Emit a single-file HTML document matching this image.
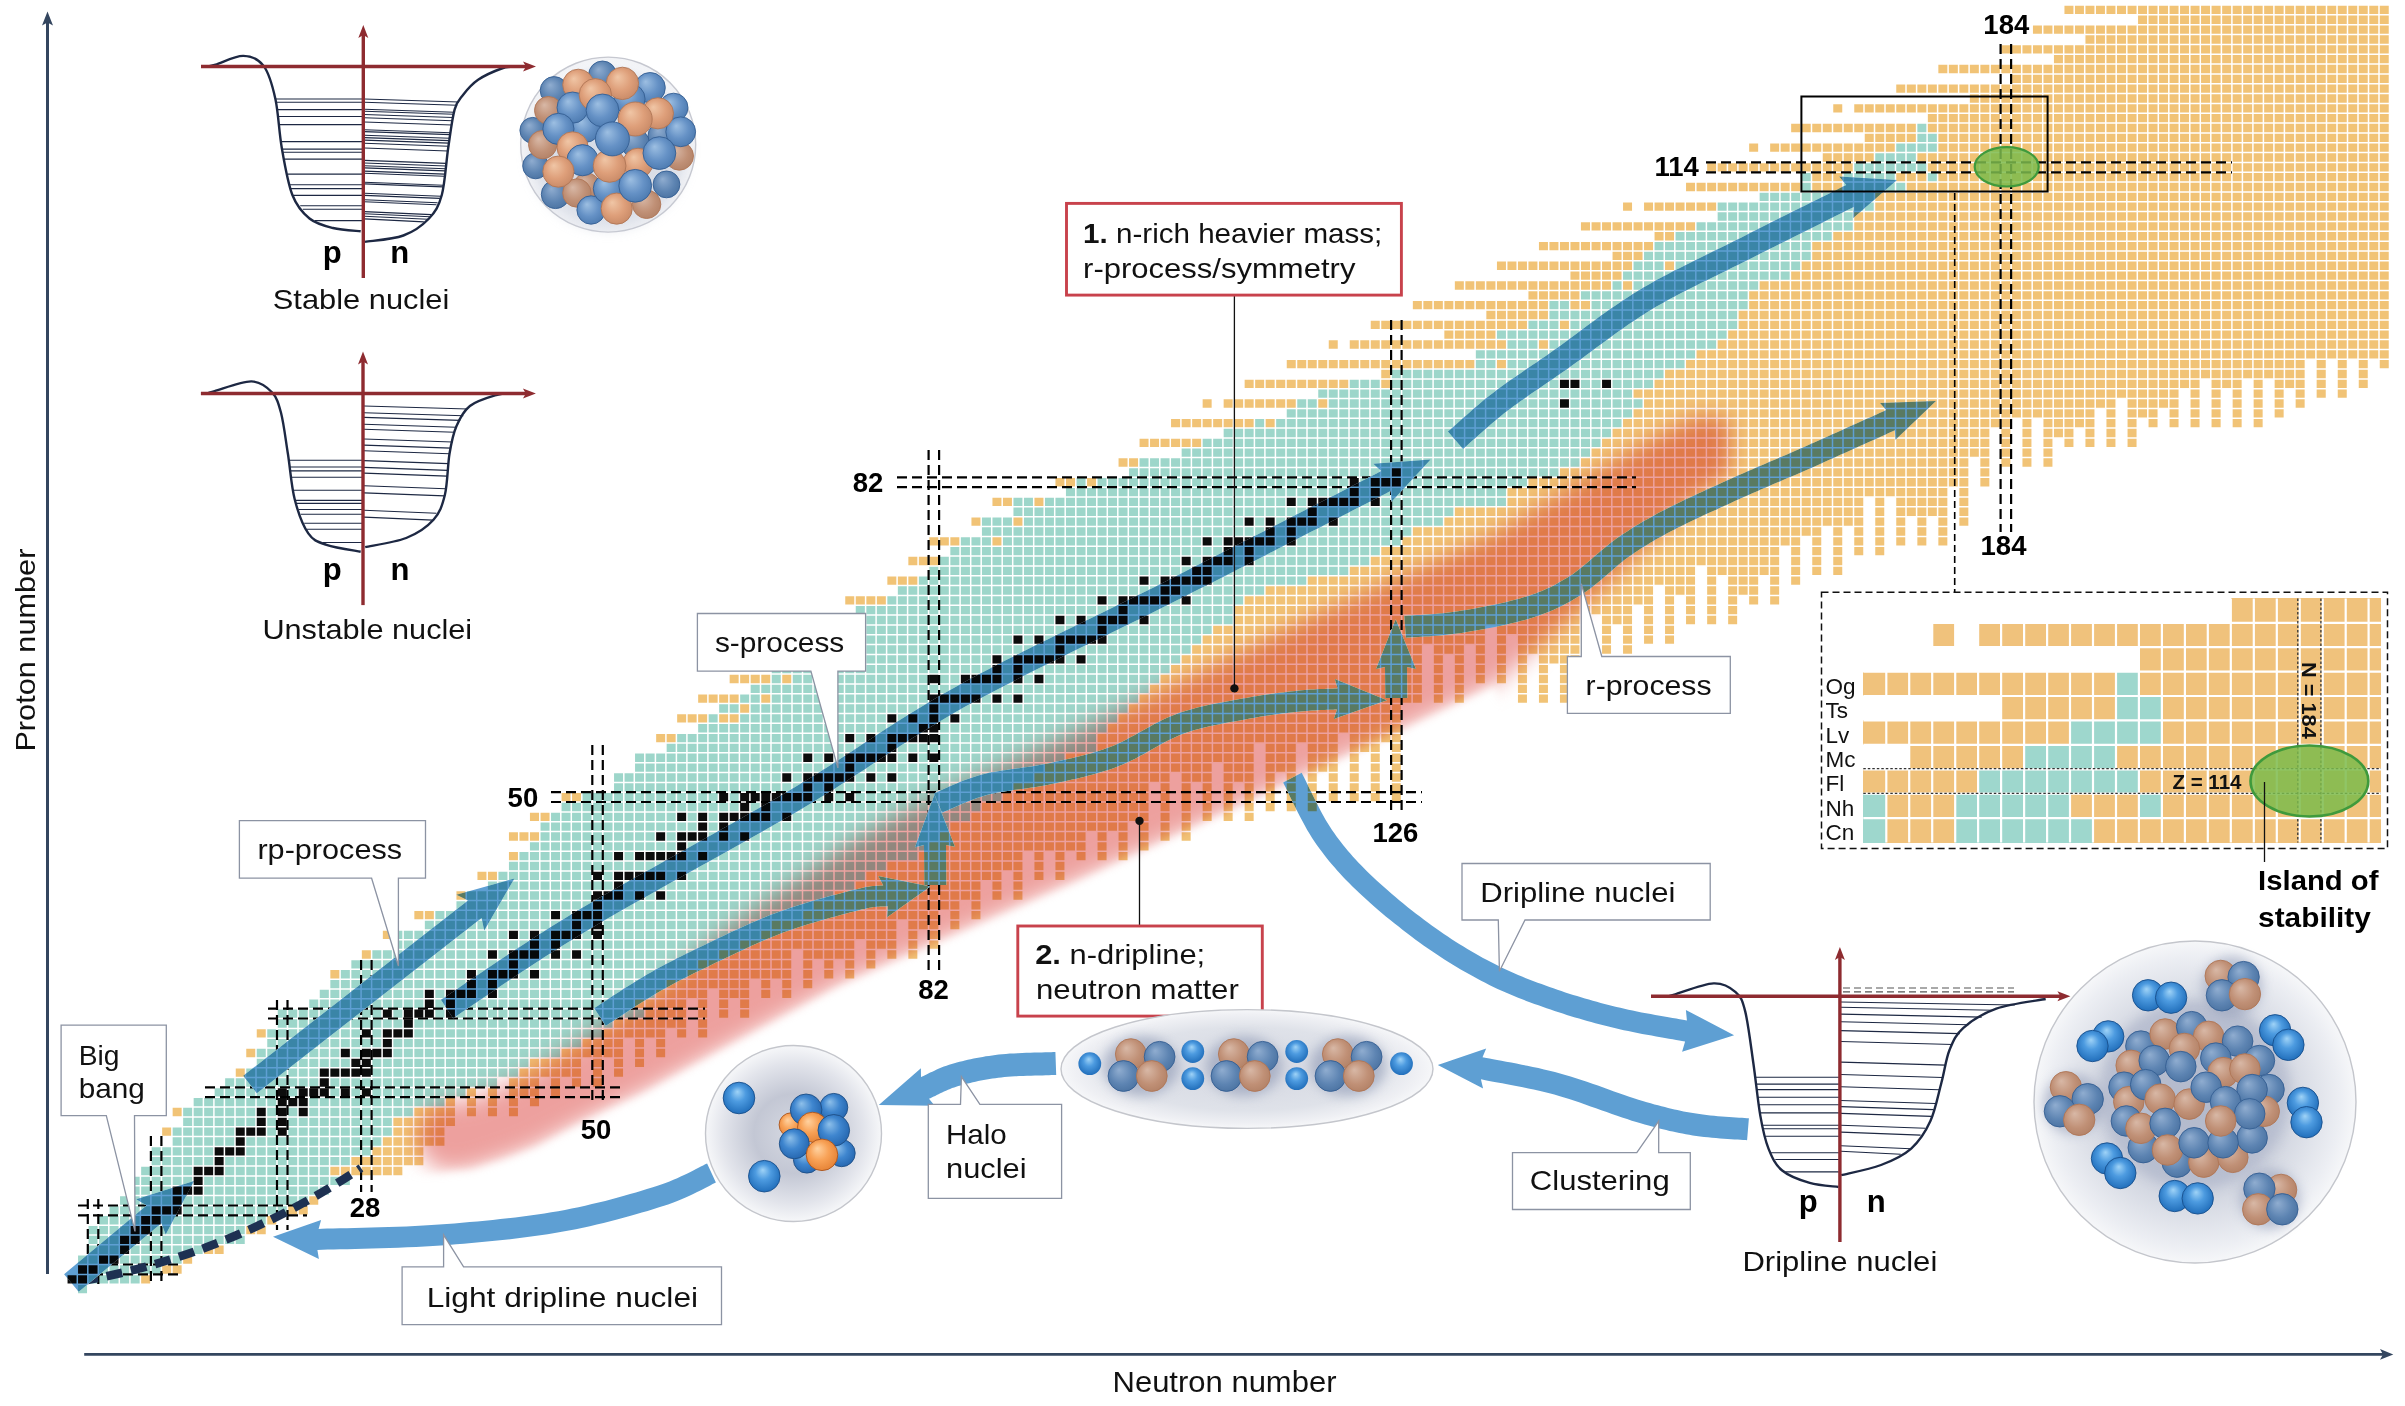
<!DOCTYPE html><html><head><meta charset="utf-8"><style>html,body{margin:0;padding:0;background:#fff;overflow:hidden}svg{display:block;font-family:"Liberation Sans",sans-serif}</style></head><body><svg xmlns="http://www.w3.org/2000/svg" width="2405" height="1406" viewBox="0 0 2405 1406"><rect width="100%" height="100%" fill="#fff"/><defs><filter id="glow" x="-20%" y="-20%" width="140%" height="140%"><feGaussianBlur stdDeviation="13"/></filter><filter id="soft" x="-30%" y="-30%" width="160%" height="160%"><feGaussianBlur stdDeviation="6"/></filter><filter id="soft3" x="-30%" y="-30%" width="160%" height="160%"><feGaussianBlur stdDeviation="3"/></filter><radialGradient id="bB" cx="0.5" cy="0.5" fx="0.35" fy="0.3" r="0.75"><stop offset="0" stop-color="#9dbfe2"/><stop offset="0.45" stop-color="#6692c6"/><stop offset="1" stop-color="#3a69a0"/></radialGradient><radialGradient id="bO" cx="0.5" cy="0.5" fx="0.35" fy="0.3" r="0.75"><stop offset="0" stop-color="#f0c6a6"/><stop offset="0.45" stop-color="#de9f7a"/><stop offset="1" stop-color="#b97b5a"/></radialGradient><radialGradient id="mB" cx="0.5" cy="0.5" fx="0.35" fy="0.3" r="0.75"><stop offset="0" stop-color="#90add0"/><stop offset="0.5" stop-color="#5d84b2"/><stop offset="1" stop-color="#3d6594"/></radialGradient><radialGradient id="mO" cx="0.5" cy="0.5" fx="0.35" fy="0.3" r="0.75"><stop offset="0" stop-color="#d8b8a6"/><stop offset="0.5" stop-color="#c09076"/><stop offset="1" stop-color="#a7765b"/></radialGradient><radialGradient id="gB" cx="0.5" cy="0.5" fx="0.45" fy="0.3" r="0.7"><stop offset="0" stop-color="#9fd3f7"/><stop offset="0.35" stop-color="#4d9be0"/><stop offset="1" stop-color="#0b58a8"/></radialGradient><radialGradient id="hB" cx="0.5" cy="0.5" fx="0.35" fy="0.3" r="0.75"><stop offset="0" stop-color="#8ec0ea"/><stop offset="0.4" stop-color="#3f86cf"/><stop offset="1" stop-color="#14519a"/></radialGradient><radialGradient id="hO" cx="0.5" cy="0.5" fx="0.35" fy="0.3" r="0.75"><stop offset="0" stop-color="#ffd2a0"/><stop offset="0.4" stop-color="#f8a257"/><stop offset="1" stop-color="#d96d1f"/></radialGradient><radialGradient id="sph1" cx="0.5" cy="0.5" r="0.5"><stop offset="0" stop-color="#e9ebf1"/><stop offset="0.75" stop-color="#eceef3"/><stop offset="0.93" stop-color="#f5f6f9"/><stop offset="1" stop-color="#f2f3f6"/></radialGradient><radialGradient id="sph2" cx="0.5" cy="0.5" r="0.5"><stop offset="0" stop-color="#d6d9e2"/><stop offset="0.45" stop-color="#c3c7d4"/><stop offset="0.8" stop-color="#e2e4eb"/><stop offset="1" stop-color="#f6f7f9"/></radialGradient><radialGradient id="sph3" cx="0.5" cy="0.5" r="0.5"><stop offset="0" stop-color="#c9cdd9"/><stop offset="0.6" stop-color="#d3d7e1"/><stop offset="0.9" stop-color="#eceef3"/><stop offset="1" stop-color="#f6f7f9"/></radialGradient><radialGradient id="sph4" cx="0.5" cy="0.5" r="0.5"><stop offset="0" stop-color="#d3d6e0"/><stop offset="0.7" stop-color="#dfe2e9"/><stop offset="0.92" stop-color="#eff0f4"/><stop offset="1" stop-color="#f6f7f9"/></radialGradient></defs><g id="chart"><rect x="0" y="0" width="2405" height="1300" fill="#fff"/><g shape-rendering="crispEdges"><rect x="77.3" y="1284.2" width="10.5" height="9.8" fill="#9dd6ca"/><rect x="87.8" y="1274.4" width="52.5" height="9.8" fill="#9dd6ca"/><rect x="140.4" y="1274.4" width="10.5" height="9.8" fill="#f1c376"/><rect x="98.3" y="1264.5" width="63.1" height="9.8" fill="#9dd6ca"/><rect x="161.4" y="1264.5" width="21" height="9.8" fill="#f1c376"/><rect x="77.3" y="1254.7" width="21" height="9.8" fill="#9dd6ca"/><rect x="119.3" y="1254.7" width="63.1" height="9.8" fill="#9dd6ca"/><rect x="182.4" y="1254.7" width="10.5" height="9.8" fill="#f1c376"/><rect x="87.8" y="1244.8" width="31.5" height="9.8" fill="#9dd6ca"/><rect x="129.9" y="1244.8" width="73.6" height="9.8" fill="#9dd6ca"/><rect x="203.4" y="1244.8" width="21" height="9.8" fill="#f1c376"/><rect x="87.8" y="1235" width="31.5" height="9.8" fill="#9dd6ca"/><rect x="140.4" y="1235" width="105.1" height="9.8" fill="#9dd6ca"/><rect x="87.8" y="1225.2" width="42" height="9.8" fill="#9dd6ca"/><rect x="150.9" y="1225.2" width="94.6" height="9.8" fill="#9dd6ca"/><rect x="245.5" y="1225.2" width="21" height="9.8" fill="#f1c376"/><rect x="98.3" y="1215.3" width="42" height="9.8" fill="#9dd6ca"/><rect x="161.4" y="1215.3" width="105.1" height="9.8" fill="#9dd6ca"/><rect x="266.5" y="1215.3" width="10.5" height="9.8" fill="#f1c376"/><rect x="108.8" y="1205.5" width="42" height="9.8" fill="#9dd6ca"/><rect x="182.4" y="1205.5" width="105.1" height="9.8" fill="#9dd6ca"/><rect x="287.5" y="1205.5" width="21" height="9.8" fill="#f1c376"/><rect x="119.3" y="1195.6" width="52.5" height="9.8" fill="#9dd6ca"/><rect x="182.4" y="1195.6" width="126.1" height="9.8" fill="#9dd6ca"/><rect x="308.5" y="1195.6" width="10.5" height="9.8" fill="#f1c376"/><rect x="129.9" y="1185.8" width="42" height="9.8" fill="#9dd6ca"/><rect x="203.4" y="1185.8" width="126.1" height="9.8" fill="#9dd6ca"/><rect x="129.9" y="1176" width="63.1" height="9.8" fill="#9dd6ca"/><rect x="203.4" y="1176" width="147.1" height="9.8" fill="#9dd6ca"/><rect x="140.4" y="1166.1" width="52.5" height="9.8" fill="#9dd6ca"/><rect x="224.4" y="1166.1" width="105.1" height="9.8" fill="#9dd6ca"/><rect x="329.6" y="1166.1" width="73.6" height="9.8" fill="#f1c376"/><rect x="150.9" y="1156.3" width="63.1" height="9.8" fill="#9dd6ca"/><rect x="224.4" y="1156.3" width="126.1" height="9.8" fill="#9dd6ca"/><rect x="350.6" y="1156.3" width="73.6" height="9.8" fill="#f1c376"/><rect x="150.9" y="1146.4" width="63.1" height="9.8" fill="#9dd6ca"/><rect x="245.5" y="1146.4" width="126.1" height="9.8" fill="#9dd6ca"/><rect x="371.6" y="1146.4" width="52.5" height="9.8" fill="#f1c376"/><rect x="171.9" y="1136.6" width="63.1" height="9.8" fill="#9dd6ca"/><rect x="245.5" y="1136.6" width="136.6" height="9.8" fill="#9dd6ca"/><rect x="382.1" y="1136.6" width="63.1" height="9.8" fill="#f1c376"/><rect x="161.4" y="1126.8" width="10.5" height="9.8" fill="#f1c376"/><rect x="171.9" y="1126.8" width="63.1" height="9.8" fill="#9dd6ca"/><rect x="266.5" y="1126.8" width="10.5" height="9.8" fill="#9dd6ca"/><rect x="287.5" y="1126.8" width="105.1" height="9.8" fill="#9dd6ca"/><rect x="392.6" y="1126.8" width="52.5" height="9.8" fill="#f1c376"/><rect x="182.4" y="1116.9" width="73.6" height="9.8" fill="#9dd6ca"/><rect x="266.5" y="1116.9" width="10.5" height="9.8" fill="#9dd6ca"/><rect x="287.5" y="1116.9" width="105.1" height="9.8" fill="#9dd6ca"/><rect x="392.6" y="1116.9" width="63.1" height="9.8" fill="#f1c376"/><rect x="171.9" y="1107.1" width="10.5" height="9.8" fill="#f1c376"/><rect x="182.4" y="1107.1" width="73.6" height="9.8" fill="#9dd6ca"/><rect x="266.5" y="1107.1" width="10.5" height="9.8" fill="#9dd6ca"/><rect x="287.5" y="1107.1" width="10.5" height="9.8" fill="#9dd6ca"/><rect x="308.5" y="1107.1" width="105.1" height="9.8" fill="#9dd6ca"/><rect x="413.6" y="1107.1" width="42" height="9.8" fill="#f1c376"/><rect x="466.2" y="1107.1" width="10.5" height="9.8" fill="#f1c376"/><rect x="487.2" y="1107.1" width="10.5" height="9.8" fill="#f1c376"/><rect x="508.2" y="1107.1" width="10.5" height="9.8" fill="#f1c376"/><rect x="192.9" y="1097.2" width="84.1" height="9.8" fill="#9dd6ca"/><rect x="308.5" y="1097.2" width="136.6" height="9.8" fill="#9dd6ca"/><rect x="445.2" y="1097.2" width="10.5" height="9.8" fill="#f1c376"/><rect x="466.2" y="1097.2" width="10.5" height="9.8" fill="#f1c376"/><rect x="487.2" y="1097.2" width="10.5" height="9.8" fill="#f1c376"/><rect x="508.2" y="1097.2" width="10.5" height="9.8" fill="#f1c376"/><rect x="529.2" y="1097.2" width="10.5" height="9.8" fill="#f1c376"/><rect x="213.9" y="1087.4" width="63.1" height="9.8" fill="#9dd6ca"/><rect x="287.5" y="1087.4" width="10.5" height="9.8" fill="#9dd6ca"/><rect x="329.6" y="1087.4" width="10.5" height="9.8" fill="#9dd6ca"/><rect x="350.6" y="1087.4" width="10.5" height="9.8" fill="#9dd6ca"/><rect x="371.6" y="1087.4" width="94.6" height="9.8" fill="#9dd6ca"/><rect x="466.2" y="1087.4" width="10.5" height="9.8" fill="#f1c376"/><rect x="487.2" y="1087.4" width="10.5" height="9.8" fill="#f1c376"/><rect x="508.2" y="1087.4" width="31.5" height="9.8" fill="#f1c376"/><rect x="550.3" y="1087.4" width="10.5" height="9.8" fill="#f1c376"/><rect x="224.4" y="1077.6" width="94.6" height="9.8" fill="#9dd6ca"/><rect x="329.6" y="1077.6" width="168.2" height="9.8" fill="#9dd6ca"/><rect x="508.2" y="1077.6" width="31.5" height="9.8" fill="#f1c376"/><rect x="550.3" y="1077.6" width="10.5" height="9.8" fill="#f1c376"/><rect x="571.3" y="1077.6" width="10.5" height="9.8" fill="#f1c376"/><rect x="592.3" y="1077.6" width="10.5" height="9.8" fill="#f1c376"/><rect x="235" y="1067.7" width="10.5" height="9.8" fill="#f1c376"/><rect x="245.5" y="1067.7" width="73.6" height="9.8" fill="#9dd6ca"/><rect x="371.6" y="1067.7" width="147.1" height="9.8" fill="#9dd6ca"/><rect x="518.7" y="1067.7" width="63.1" height="9.8" fill="#f1c376"/><rect x="592.3" y="1067.7" width="10.5" height="9.8" fill="#f1c376"/><rect x="613.3" y="1067.7" width="10.5" height="9.8" fill="#f1c376"/><rect x="256" y="1057.9" width="94.6" height="9.8" fill="#9dd6ca"/><rect x="371.6" y="1057.9" width="157.7" height="9.8" fill="#9dd6ca"/><rect x="529.2" y="1057.9" width="52.5" height="9.8" fill="#f1c376"/><rect x="592.3" y="1057.9" width="10.5" height="9.8" fill="#f1c376"/><rect x="613.3" y="1057.9" width="10.5" height="9.8" fill="#f1c376"/><rect x="634.3" y="1057.9" width="10.5" height="9.8" fill="#f1c376"/><rect x="245.5" y="1048" width="10.5" height="9.8" fill="#f1c376"/><rect x="256" y="1048" width="84.1" height="9.8" fill="#9dd6ca"/><rect x="350.6" y="1048" width="10.5" height="9.8" fill="#9dd6ca"/><rect x="392.6" y="1048" width="168.2" height="9.8" fill="#9dd6ca"/><rect x="560.8" y="1048" width="63.1" height="9.8" fill="#f1c376"/><rect x="634.3" y="1048" width="10.5" height="9.8" fill="#f1c376"/><rect x="655.4" y="1048" width="10.5" height="9.8" fill="#f1c376"/><rect x="266.5" y="1038.2" width="115.6" height="9.8" fill="#9dd6ca"/><rect x="392.6" y="1038.2" width="189.2" height="9.8" fill="#9dd6ca"/><rect x="581.8" y="1038.2" width="42" height="9.8" fill="#f1c376"/><rect x="634.3" y="1038.2" width="10.5" height="9.8" fill="#f1c376"/><rect x="655.4" y="1038.2" width="10.5" height="9.8" fill="#f1c376"/><rect x="256" y="1028.4" width="10.5" height="9.8" fill="#f1c376"/><rect x="266.5" y="1028.4" width="94.6" height="9.8" fill="#9dd6ca"/><rect x="371.6" y="1028.4" width="10.5" height="9.8" fill="#9dd6ca"/><rect x="413.6" y="1028.4" width="189.2" height="9.8" fill="#9dd6ca"/><rect x="602.8" y="1028.4" width="63.1" height="9.8" fill="#f1c376"/><rect x="676.4" y="1028.4" width="10.5" height="9.8" fill="#f1c376"/><rect x="697.4" y="1028.4" width="10.5" height="9.8" fill="#f1c376"/><rect x="277" y="1018.5" width="126.1" height="9.8" fill="#9dd6ca"/><rect x="413.6" y="1018.5" width="199.7" height="9.8" fill="#9dd6ca"/><rect x="613.3" y="1018.5" width="73.6" height="9.8" fill="#f1c376"/><rect x="697.4" y="1018.5" width="10.5" height="9.8" fill="#f1c376"/><rect x="277" y="1008.7" width="105.1" height="9.8" fill="#9dd6ca"/><rect x="392.6" y="1008.7" width="10.5" height="9.8" fill="#9dd6ca"/><rect x="434.6" y="1008.7" width="10.5" height="9.8" fill="#9dd6ca"/><rect x="455.7" y="1008.7" width="189.2" height="9.8" fill="#9dd6ca"/><rect x="644.8" y="1008.7" width="42" height="9.8" fill="#f1c376"/><rect x="697.4" y="1008.7" width="10.5" height="9.8" fill="#f1c376"/><rect x="718.4" y="1008.7" width="10.5" height="9.8" fill="#f1c376"/><rect x="739.4" y="1008.7" width="10.5" height="9.8" fill="#f1c376"/><rect x="308.5" y="998.8" width="115.6" height="9.8" fill="#9dd6ca"/><rect x="434.6" y="998.8" width="10.5" height="9.8" fill="#9dd6ca"/><rect x="455.7" y="998.8" width="178.7" height="9.8" fill="#9dd6ca"/><rect x="634.3" y="998.8" width="52.5" height="9.8" fill="#f1c376"/><rect x="697.4" y="998.8" width="10.5" height="9.8" fill="#f1c376"/><rect x="718.4" y="998.8" width="10.5" height="9.8" fill="#f1c376"/><rect x="739.4" y="998.8" width="10.5" height="9.8" fill="#f1c376"/><rect x="319" y="989" width="105.1" height="9.8" fill="#9dd6ca"/><rect x="434.6" y="989" width="10.5" height="9.8" fill="#9dd6ca"/><rect x="476.7" y="989" width="10.5" height="9.8" fill="#9dd6ca"/><rect x="497.7" y="989" width="157.7" height="9.8" fill="#9dd6ca"/><rect x="655.4" y="989" width="52.5" height="9.8" fill="#f1c376"/><rect x="718.4" y="989" width="31.5" height="9.8" fill="#f1c376"/><rect x="760.5" y="989" width="10.5" height="9.8" fill="#f1c376"/><rect x="781.5" y="989" width="10.5" height="9.8" fill="#f1c376"/><rect x="329.6" y="979.2" width="136.6" height="9.8" fill="#9dd6ca"/><rect x="476.7" y="979.2" width="10.5" height="9.8" fill="#9dd6ca"/><rect x="497.7" y="979.2" width="168.2" height="9.8" fill="#9dd6ca"/><rect x="665.9" y="979.2" width="84.1" height="9.8" fill="#f1c376"/><rect x="760.5" y="979.2" width="10.5" height="9.8" fill="#f1c376"/><rect x="781.5" y="979.2" width="10.5" height="9.8" fill="#f1c376"/><rect x="802.5" y="979.2" width="10.5" height="9.8" fill="#f1c376"/><rect x="329.6" y="969.3" width="10.5" height="9.8" fill="#f1c376"/><rect x="340.1" y="969.3" width="126.1" height="9.8" fill="#9dd6ca"/><rect x="476.7" y="969.3" width="10.5" height="9.8" fill="#9dd6ca"/><rect x="518.7" y="969.3" width="10.5" height="9.8" fill="#9dd6ca"/><rect x="539.8" y="969.3" width="147.1" height="9.8" fill="#9dd6ca"/><rect x="686.9" y="969.3" width="105.1" height="9.8" fill="#f1c376"/><rect x="802.5" y="969.3" width="10.5" height="9.8" fill="#f1c376"/><rect x="823.5" y="969.3" width="10.5" height="9.8" fill="#f1c376"/><rect x="844.5" y="969.3" width="10.5" height="9.8" fill="#f1c376"/><rect x="350.6" y="959.5" width="157.7" height="9.8" fill="#9dd6ca"/><rect x="518.7" y="959.5" width="178.7" height="9.8" fill="#9dd6ca"/><rect x="697.4" y="959.5" width="94.6" height="9.8" fill="#f1c376"/><rect x="802.5" y="959.5" width="10.5" height="9.8" fill="#f1c376"/><rect x="823.5" y="959.5" width="10.5" height="9.8" fill="#f1c376"/><rect x="844.5" y="959.5" width="10.5" height="9.8" fill="#f1c376"/><rect x="865.6" y="959.5" width="10.5" height="9.8" fill="#f1c376"/><rect x="361.1" y="949.6" width="10.5" height="9.8" fill="#f1c376"/><rect x="371.6" y="949.6" width="115.6" height="9.8" fill="#9dd6ca"/><rect x="497.7" y="949.6" width="10.5" height="9.8" fill="#9dd6ca"/><rect x="539.8" y="949.6" width="10.5" height="9.8" fill="#9dd6ca"/><rect x="560.8" y="949.6" width="10.5" height="9.8" fill="#9dd6ca"/><rect x="581.8" y="949.6" width="136.6" height="9.8" fill="#9dd6ca"/><rect x="718.4" y="949.6" width="73.6" height="9.8" fill="#f1c376"/><rect x="802.5" y="949.6" width="52.5" height="9.8" fill="#f1c376"/><rect x="865.6" y="949.6" width="10.5" height="9.8" fill="#f1c376"/><rect x="886.6" y="949.6" width="10.5" height="9.8" fill="#f1c376"/><rect x="907.6" y="949.6" width="10.5" height="9.8" fill="#f1c376"/><rect x="392.6" y="939.8" width="136.6" height="9.8" fill="#9dd6ca"/><rect x="539.8" y="939.8" width="10.5" height="9.8" fill="#9dd6ca"/><rect x="560.8" y="939.8" width="178.7" height="9.8" fill="#9dd6ca"/><rect x="739.4" y="939.8" width="115.6" height="9.8" fill="#f1c376"/><rect x="865.6" y="939.8" width="31.5" height="9.8" fill="#f1c376"/><rect x="907.6" y="939.8" width="10.5" height="9.8" fill="#f1c376"/><rect x="928.6" y="939.8" width="10.5" height="9.8" fill="#f1c376"/><rect x="382.1" y="930" width="10.5" height="9.8" fill="#f1c376"/><rect x="392.6" y="930" width="115.6" height="9.8" fill="#9dd6ca"/><rect x="518.7" y="930" width="10.5" height="9.8" fill="#9dd6ca"/><rect x="539.8" y="930" width="10.5" height="9.8" fill="#9dd6ca"/><rect x="581.8" y="930" width="10.5" height="9.8" fill="#9dd6ca"/><rect x="602.8" y="930" width="157.7" height="9.8" fill="#9dd6ca"/><rect x="760.5" y="930" width="136.6" height="9.8" fill="#f1c376"/><rect x="907.6" y="930" width="10.5" height="9.8" fill="#f1c376"/><rect x="928.6" y="930" width="10.5" height="9.8" fill="#f1c376"/><rect x="424.1" y="920.1" width="147.1" height="9.8" fill="#9dd6ca"/><rect x="581.8" y="920.1" width="10.5" height="9.8" fill="#9dd6ca"/><rect x="602.8" y="920.1" width="168.2" height="9.8" fill="#9dd6ca"/><rect x="771" y="920.1" width="126.1" height="9.8" fill="#f1c376"/><rect x="907.6" y="920.1" width="31.5" height="9.8" fill="#f1c376"/><rect x="949.6" y="920.1" width="10.5" height="9.8" fill="#f1c376"/><rect x="413.6" y="910.3" width="21" height="9.8" fill="#f1c376"/><rect x="434.6" y="910.3" width="115.6" height="9.8" fill="#9dd6ca"/><rect x="560.8" y="910.3" width="10.5" height="9.8" fill="#9dd6ca"/><rect x="602.8" y="910.3" width="199.7" height="9.8" fill="#9dd6ca"/><rect x="802.5" y="910.3" width="136.6" height="9.8" fill="#f1c376"/><rect x="949.6" y="910.3" width="10.5" height="9.8" fill="#f1c376"/><rect x="970.7" y="910.3" width="10.5" height="9.8" fill="#f1c376"/><rect x="455.7" y="900.4" width="136.6" height="9.8" fill="#9dd6ca"/><rect x="602.8" y="900.4" width="210.2" height="9.8" fill="#9dd6ca"/><rect x="813" y="900.4" width="147.1" height="9.8" fill="#f1c376"/><rect x="970.7" y="900.4" width="10.5" height="9.8" fill="#f1c376"/><rect x="455.7" y="890.6" width="10.5" height="9.8" fill="#f1c376"/><rect x="466.2" y="890.6" width="126.1" height="9.8" fill="#9dd6ca"/><rect x="623.8" y="890.6" width="10.5" height="9.8" fill="#9dd6ca"/><rect x="644.8" y="890.6" width="10.5" height="9.8" fill="#9dd6ca"/><rect x="665.9" y="890.6" width="168.2" height="9.8" fill="#9dd6ca"/><rect x="834" y="890.6" width="147.1" height="9.8" fill="#f1c376"/><rect x="991.7" y="890.6" width="10.5" height="9.8" fill="#f1c376"/><rect x="1012.7" y="890.6" width="10.5" height="9.8" fill="#f1c376"/><rect x="487.2" y="880.8" width="126.1" height="9.8" fill="#9dd6ca"/><rect x="623.8" y="880.8" width="231.2" height="9.8" fill="#9dd6ca"/><rect x="855" y="880.8" width="126.1" height="9.8" fill="#f1c376"/><rect x="991.7" y="880.8" width="10.5" height="9.8" fill="#f1c376"/><rect x="1012.7" y="880.8" width="10.5" height="9.8" fill="#f1c376"/><rect x="476.7" y="870.9" width="21" height="9.8" fill="#f1c376"/><rect x="497.7" y="870.9" width="94.6" height="9.8" fill="#9dd6ca"/><rect x="602.8" y="870.9" width="10.5" height="9.8" fill="#9dd6ca"/><rect x="665.9" y="870.9" width="10.5" height="9.8" fill="#9dd6ca"/><rect x="686.9" y="870.9" width="178.7" height="9.8" fill="#9dd6ca"/><rect x="865.6" y="870.9" width="136.6" height="9.8" fill="#f1c376"/><rect x="1012.7" y="870.9" width="10.5" height="9.8" fill="#f1c376"/><rect x="1033.7" y="870.9" width="10.5" height="9.8" fill="#f1c376"/><rect x="1054.7" y="870.9" width="10.5" height="9.8" fill="#f1c376"/><rect x="508.2" y="861.1" width="378.4" height="9.8" fill="#9dd6ca"/><rect x="886.6" y="861.1" width="136.6" height="9.8" fill="#f1c376"/><rect x="1033.7" y="861.1" width="10.5" height="9.8" fill="#f1c376"/><rect x="1054.7" y="861.1" width="10.5" height="9.8" fill="#f1c376"/><rect x="508.2" y="851.2" width="10.5" height="9.8" fill="#f1c376"/><rect x="518.7" y="851.2" width="94.6" height="9.8" fill="#9dd6ca"/><rect x="623.8" y="851.2" width="10.5" height="9.8" fill="#9dd6ca"/><rect x="686.9" y="851.2" width="10.5" height="9.8" fill="#9dd6ca"/><rect x="707.9" y="851.2" width="210.2" height="9.8" fill="#9dd6ca"/><rect x="918.1" y="851.2" width="105.1" height="9.8" fill="#f1c376"/><rect x="1033.7" y="851.2" width="10.5" height="9.8" fill="#f1c376"/><rect x="1054.7" y="851.2" width="10.5" height="9.8" fill="#f1c376"/><rect x="1075.8" y="851.2" width="10.5" height="9.8" fill="#f1c376"/><rect x="1096.8" y="851.2" width="10.5" height="9.8" fill="#f1c376"/><rect x="1117.8" y="851.2" width="10.5" height="9.8" fill="#f1c376"/><rect x="529.2" y="841.4" width="147.1" height="9.8" fill="#9dd6ca"/><rect x="686.9" y="841.4" width="241.7" height="9.8" fill="#9dd6ca"/><rect x="928.6" y="841.4" width="157.7" height="9.8" fill="#f1c376"/><rect x="1096.8" y="841.4" width="10.5" height="9.8" fill="#f1c376"/><rect x="1117.8" y="841.4" width="10.5" height="9.8" fill="#f1c376"/><rect x="1138.8" y="841.4" width="10.5" height="9.8" fill="#f1c376"/><rect x="508.2" y="831.6" width="31.5" height="9.8" fill="#f1c376"/><rect x="539.8" y="831.6" width="115.6" height="9.8" fill="#9dd6ca"/><rect x="665.9" y="831.6" width="10.5" height="9.8" fill="#9dd6ca"/><rect x="707.9" y="831.6" width="10.5" height="9.8" fill="#9dd6ca"/><rect x="728.9" y="831.6" width="10.5" height="9.8" fill="#9dd6ca"/><rect x="749.9" y="831.6" width="189.2" height="9.8" fill="#9dd6ca"/><rect x="939.1" y="831.6" width="147.1" height="9.8" fill="#f1c376"/><rect x="1096.8" y="831.6" width="10.5" height="9.8" fill="#f1c376"/><rect x="1117.8" y="831.6" width="10.5" height="9.8" fill="#f1c376"/><rect x="1138.8" y="831.6" width="10.5" height="9.8" fill="#f1c376"/><rect x="1159.8" y="831.6" width="10.5" height="9.8" fill="#f1c376"/><rect x="1180.9" y="831.6" width="10.5" height="9.8" fill="#f1c376"/><rect x="539.8" y="821.7" width="157.7" height="9.8" fill="#9dd6ca"/><rect x="707.9" y="821.7" width="10.5" height="9.8" fill="#9dd6ca"/><rect x="728.9" y="821.7" width="220.7" height="9.8" fill="#9dd6ca"/><rect x="949.6" y="821.7" width="178.7" height="9.8" fill="#f1c376"/><rect x="1138.8" y="821.7" width="10.5" height="9.8" fill="#f1c376"/><rect x="1159.8" y="821.7" width="10.5" height="9.8" fill="#f1c376"/><rect x="1180.9" y="821.7" width="10.5" height="9.8" fill="#f1c376"/><rect x="529.2" y="811.9" width="21" height="9.8" fill="#f1c376"/><rect x="550.3" y="811.9" width="126.1" height="9.8" fill="#9dd6ca"/><rect x="686.9" y="811.9" width="10.5" height="9.8" fill="#9dd6ca"/><rect x="707.9" y="811.9" width="10.5" height="9.8" fill="#9dd6ca"/><rect x="771" y="811.9" width="10.5" height="9.8" fill="#9dd6ca"/><rect x="792" y="811.9" width="178.7" height="9.8" fill="#9dd6ca"/><rect x="970.7" y="811.9" width="178.7" height="9.8" fill="#f1c376"/><rect x="1159.8" y="811.9" width="10.5" height="9.8" fill="#f1c376"/><rect x="1180.9" y="811.9" width="10.5" height="9.8" fill="#f1c376"/><rect x="1201.9" y="811.9" width="10.5" height="9.8" fill="#f1c376"/><rect x="1222.9" y="811.9" width="10.5" height="9.8" fill="#f1c376"/><rect x="1243.9" y="811.9" width="10.5" height="9.8" fill="#f1c376"/><rect x="560.8" y="802" width="178.7" height="9.8" fill="#9dd6ca"/><rect x="749.9" y="802" width="10.5" height="9.8" fill="#9dd6ca"/><rect x="771" y="802" width="210.2" height="9.8" fill="#9dd6ca"/><rect x="981.2" y="802" width="168.2" height="9.8" fill="#f1c376"/><rect x="1159.8" y="802" width="10.5" height="9.8" fill="#f1c376"/><rect x="1180.9" y="802" width="10.5" height="9.8" fill="#f1c376"/><rect x="1201.9" y="802" width="10.5" height="9.8" fill="#f1c376"/><rect x="1222.9" y="802" width="10.5" height="9.8" fill="#f1c376"/><rect x="1243.9" y="802" width="10.5" height="9.8" fill="#f1c376"/><rect x="1264.9" y="802" width="10.5" height="9.8" fill="#f1c376"/><rect x="1286" y="802" width="10.5" height="9.8" fill="#f1c376"/><rect x="1307" y="802" width="10.5" height="9.8" fill="#f1c376"/><rect x="560.8" y="792.2" width="21" height="9.8" fill="#f1c376"/><rect x="581.8" y="792.2" width="136.6" height="9.8" fill="#9dd6ca"/><rect x="728.9" y="792.2" width="10.5" height="9.8" fill="#9dd6ca"/><rect x="813" y="792.2" width="10.5" height="9.8" fill="#9dd6ca"/><rect x="834" y="792.2" width="10.5" height="9.8" fill="#9dd6ca"/><rect x="855" y="792.2" width="147.1" height="9.8" fill="#9dd6ca"/><rect x="1002.2" y="792.2" width="147.1" height="9.8" fill="#f1c376"/><rect x="1159.8" y="792.2" width="10.5" height="9.8" fill="#f1c376"/><rect x="1180.9" y="792.2" width="10.5" height="9.8" fill="#f1c376"/><rect x="1201.9" y="792.2" width="10.5" height="9.8" fill="#f1c376"/><rect x="1222.9" y="792.2" width="10.5" height="9.8" fill="#f1c376"/><rect x="1243.9" y="792.2" width="10.5" height="9.8" fill="#f1c376"/><rect x="1264.9" y="792.2" width="10.5" height="9.8" fill="#f1c376"/><rect x="1286" y="792.2" width="10.5" height="9.8" fill="#f1c376"/><rect x="1307" y="792.2" width="10.5" height="9.8" fill="#f1c376"/><rect x="1328" y="792.2" width="10.5" height="9.8" fill="#f1c376"/><rect x="1349" y="792.2" width="10.5" height="9.8" fill="#f1c376"/><rect x="1370" y="792.2" width="10.5" height="9.8" fill="#f1c376"/><rect x="1391.1" y="792.2" width="10.5" height="9.8" fill="#f1c376"/><rect x="613.3" y="782.4" width="189.2" height="9.8" fill="#9dd6ca"/><rect x="813" y="782.4" width="10.5" height="9.8" fill="#9dd6ca"/><rect x="834" y="782.4" width="178.7" height="9.8" fill="#9dd6ca"/><rect x="1012.7" y="782.4" width="136.6" height="9.8" fill="#f1c376"/><rect x="1159.8" y="782.4" width="10.5" height="9.8" fill="#f1c376"/><rect x="1180.9" y="782.4" width="10.5" height="9.8" fill="#f1c376"/><rect x="1201.9" y="782.4" width="10.5" height="9.8" fill="#f1c376"/><rect x="1222.9" y="782.4" width="10.5" height="9.8" fill="#f1c376"/><rect x="1243.9" y="782.4" width="10.5" height="9.8" fill="#f1c376"/><rect x="1264.9" y="782.4" width="10.5" height="9.8" fill="#f1c376"/><rect x="1286" y="782.4" width="10.5" height="9.8" fill="#f1c376"/><rect x="1307" y="782.4" width="10.5" height="9.8" fill="#f1c376"/><rect x="1328" y="782.4" width="10.5" height="9.8" fill="#f1c376"/><rect x="1349" y="782.4" width="10.5" height="9.8" fill="#f1c376"/><rect x="1370" y="782.4" width="10.5" height="9.8" fill="#f1c376"/><rect x="1391.1" y="782.4" width="10.5" height="9.8" fill="#f1c376"/><rect x="613.3" y="772.5" width="168.2" height="9.8" fill="#9dd6ca"/><rect x="792" y="772.5" width="10.5" height="9.8" fill="#9dd6ca"/><rect x="855" y="772.5" width="10.5" height="9.8" fill="#9dd6ca"/><rect x="876.1" y="772.5" width="10.5" height="9.8" fill="#9dd6ca"/><rect x="897.1" y="772.5" width="136.6" height="9.8" fill="#9dd6ca"/><rect x="1033.7" y="772.5" width="136.6" height="9.8" fill="#f1c376"/><rect x="1180.9" y="772.5" width="31.5" height="9.8" fill="#f1c376"/><rect x="1222.9" y="772.5" width="31.5" height="9.8" fill="#f1c376"/><rect x="1264.9" y="772.5" width="10.5" height="9.8" fill="#f1c376"/><rect x="1286" y="772.5" width="10.5" height="9.8" fill="#f1c376"/><rect x="1307" y="772.5" width="10.5" height="9.8" fill="#f1c376"/><rect x="1328" y="772.5" width="10.5" height="9.8" fill="#f1c376"/><rect x="1349" y="772.5" width="10.5" height="9.8" fill="#f1c376"/><rect x="1370" y="772.5" width="10.5" height="9.8" fill="#f1c376"/><rect x="1391.1" y="772.5" width="10.5" height="9.8" fill="#f1c376"/><rect x="634.3" y="762.7" width="210.2" height="9.8" fill="#9dd6ca"/><rect x="855" y="762.7" width="189.2" height="9.8" fill="#9dd6ca"/><rect x="1044.2" y="762.7" width="168.2" height="9.8" fill="#f1c376"/><rect x="1222.9" y="762.7" width="31.5" height="9.8" fill="#f1c376"/><rect x="1264.9" y="762.7" width="31.5" height="9.8" fill="#f1c376"/><rect x="1307" y="762.7" width="31.5" height="9.8" fill="#f1c376"/><rect x="1349" y="762.7" width="10.5" height="9.8" fill="#f1c376"/><rect x="1370" y="762.7" width="10.5" height="9.8" fill="#f1c376"/><rect x="1391.1" y="762.7" width="10.5" height="9.8" fill="#f1c376"/><rect x="634.3" y="752.8" width="168.2" height="9.8" fill="#9dd6ca"/><rect x="813" y="752.8" width="10.5" height="9.8" fill="#9dd6ca"/><rect x="834" y="752.8" width="10.5" height="9.8" fill="#9dd6ca"/><rect x="897.1" y="752.8" width="10.5" height="9.8" fill="#9dd6ca"/><rect x="918.1" y="752.8" width="10.5" height="9.8" fill="#9dd6ca"/><rect x="939.1" y="752.8" width="126.1" height="9.8" fill="#9dd6ca"/><rect x="1065.2" y="752.8" width="189.2" height="9.8" fill="#f1c376"/><rect x="1264.9" y="752.8" width="31.5" height="9.8" fill="#f1c376"/><rect x="1307" y="752.8" width="31.5" height="9.8" fill="#f1c376"/><rect x="1349" y="752.8" width="10.5" height="9.8" fill="#f1c376"/><rect x="1370" y="752.8" width="10.5" height="9.8" fill="#f1c376"/><rect x="1391.1" y="752.8" width="10.5" height="9.8" fill="#f1c376"/><rect x="665.9" y="743" width="220.7" height="9.8" fill="#9dd6ca"/><rect x="897.1" y="743" width="199.7" height="9.8" fill="#9dd6ca"/><rect x="1096.8" y="743" width="157.7" height="9.8" fill="#f1c376"/><rect x="1264.9" y="743" width="31.5" height="9.8" fill="#f1c376"/><rect x="1307" y="743" width="31.5" height="9.8" fill="#f1c376"/><rect x="1349" y="743" width="31.5" height="9.8" fill="#f1c376"/><rect x="1391.1" y="743" width="10.5" height="9.8" fill="#f1c376"/><rect x="655.4" y="733.2" width="21" height="9.8" fill="#f1c376"/><rect x="676.4" y="733.2" width="168.2" height="9.8" fill="#9dd6ca"/><rect x="855" y="733.2" width="10.5" height="9.8" fill="#9dd6ca"/><rect x="876.1" y="733.2" width="10.5" height="9.8" fill="#9dd6ca"/><rect x="939.1" y="733.2" width="157.7" height="9.8" fill="#9dd6ca"/><rect x="1096.8" y="733.2" width="241.7" height="9.8" fill="#f1c376"/><rect x="1349" y="733.2" width="52.5" height="9.8" fill="#f1c376"/><rect x="697.4" y="723.3" width="220.7" height="9.8" fill="#9dd6ca"/><rect x="939.1" y="723.3" width="168.2" height="9.8" fill="#9dd6ca"/><rect x="1107.3" y="723.3" width="294.3" height="9.8" fill="#f1c376"/><rect x="676.4" y="713.5" width="31.5" height="9.8" fill="#f1c376"/><rect x="707.9" y="713.5" width="10.5" height="9.8" fill="#9dd6ca"/><rect x="718.4" y="713.5" width="21" height="9.8" fill="#f1c376"/><rect x="739.4" y="713.5" width="147.1" height="9.8" fill="#9dd6ca"/><rect x="897.1" y="713.5" width="10.5" height="9.8" fill="#9dd6ca"/><rect x="918.1" y="713.5" width="10.5" height="9.8" fill="#9dd6ca"/><rect x="939.1" y="713.5" width="10.5" height="9.8" fill="#9dd6ca"/><rect x="960.1" y="713.5" width="157.7" height="9.8" fill="#9dd6ca"/><rect x="1117.8" y="713.5" width="283.8" height="9.8" fill="#f1c376"/><rect x="718.4" y="703.6" width="21" height="9.8" fill="#9dd6ca"/><rect x="739.4" y="703.6" width="10.5" height="9.8" fill="#f1c376"/><rect x="749.9" y="703.6" width="178.7" height="9.8" fill="#9dd6ca"/><rect x="939.1" y="703.6" width="189.2" height="9.8" fill="#9dd6ca"/><rect x="1128.3" y="703.6" width="273.3" height="9.8" fill="#f1c376"/><rect x="697.4" y="693.8" width="42" height="9.8" fill="#f1c376"/><rect x="739.4" y="693.8" width="21" height="9.8" fill="#9dd6ca"/><rect x="760.5" y="693.8" width="10.5" height="9.8" fill="#f1c376"/><rect x="771" y="693.8" width="157.7" height="9.8" fill="#9dd6ca"/><rect x="981.2" y="693.8" width="10.5" height="9.8" fill="#9dd6ca"/><rect x="1002.2" y="693.8" width="10.5" height="9.8" fill="#9dd6ca"/><rect x="1023.2" y="693.8" width="115.6" height="9.8" fill="#9dd6ca"/><rect x="1138.8" y="693.8" width="283.8" height="9.8" fill="#f1c376"/><rect x="1433.1" y="693.8" width="10.5" height="9.8" fill="#f1c376"/><rect x="1454.1" y="693.8" width="10.5" height="9.8" fill="#f1c376"/><rect x="1517.2" y="693.8" width="10.5" height="9.8" fill="#f1c376"/><rect x="1538.2" y="693.8" width="10.5" height="9.8" fill="#f1c376"/><rect x="1559.2" y="693.8" width="10.5" height="9.8" fill="#f1c376"/><rect x="749.9" y="684" width="399.4" height="9.8" fill="#9dd6ca"/><rect x="1149.3" y="684" width="273.3" height="9.8" fill="#f1c376"/><rect x="1433.1" y="684" width="10.5" height="9.8" fill="#f1c376"/><rect x="1454.1" y="684" width="10.5" height="9.8" fill="#f1c376"/><rect x="1517.2" y="684" width="10.5" height="9.8" fill="#f1c376"/><rect x="1538.2" y="684" width="10.5" height="9.8" fill="#f1c376"/><rect x="1559.2" y="684" width="10.5" height="9.8" fill="#f1c376"/><rect x="728.9" y="674.1" width="42" height="9.8" fill="#f1c376"/><rect x="771" y="674.1" width="10.5" height="9.8" fill="#9dd6ca"/><rect x="781.5" y="674.1" width="10.5" height="9.8" fill="#f1c376"/><rect x="792" y="674.1" width="136.6" height="9.8" fill="#9dd6ca"/><rect x="939.1" y="674.1" width="21" height="9.8" fill="#9dd6ca"/><rect x="1002.2" y="674.1" width="10.5" height="9.8" fill="#9dd6ca"/><rect x="1023.2" y="674.1" width="10.5" height="9.8" fill="#9dd6ca"/><rect x="1044.2" y="674.1" width="115.6" height="9.8" fill="#9dd6ca"/><rect x="1159.8" y="674.1" width="262.8" height="9.8" fill="#f1c376"/><rect x="1433.1" y="674.1" width="10.5" height="9.8" fill="#f1c376"/><rect x="1454.1" y="674.1" width="10.5" height="9.8" fill="#f1c376"/><rect x="1475.1" y="674.1" width="10.5" height="9.8" fill="#f1c376"/><rect x="1496.2" y="674.1" width="10.5" height="9.8" fill="#f1c376"/><rect x="1517.2" y="674.1" width="10.5" height="9.8" fill="#f1c376"/><rect x="1538.2" y="674.1" width="10.5" height="9.8" fill="#f1c376"/><rect x="1559.2" y="674.1" width="10.5" height="9.8" fill="#f1c376"/><rect x="771" y="664.3" width="220.7" height="9.8" fill="#9dd6ca"/><rect x="1002.2" y="664.3" width="10.5" height="9.8" fill="#9dd6ca"/><rect x="1023.2" y="664.3" width="147.1" height="9.8" fill="#9dd6ca"/><rect x="1170.3" y="664.3" width="252.2" height="9.8" fill="#f1c376"/><rect x="1433.1" y="664.3" width="10.5" height="9.8" fill="#f1c376"/><rect x="1454.1" y="664.3" width="10.5" height="9.8" fill="#f1c376"/><rect x="1475.1" y="664.3" width="10.5" height="9.8" fill="#f1c376"/><rect x="1496.2" y="664.3" width="10.5" height="9.8" fill="#f1c376"/><rect x="1517.2" y="664.3" width="10.5" height="9.8" fill="#f1c376"/><rect x="1538.2" y="664.3" width="10.5" height="9.8" fill="#f1c376"/><rect x="1559.2" y="664.3" width="10.5" height="9.8" fill="#f1c376"/><rect x="749.9" y="654.4" width="52.5" height="9.8" fill="#f1c376"/><rect x="802.5" y="654.4" width="10.5" height="9.8" fill="#9dd6ca"/><rect x="813" y="654.4" width="10.5" height="9.8" fill="#f1c376"/><rect x="823.5" y="654.4" width="168.2" height="9.8" fill="#9dd6ca"/><rect x="1002.2" y="654.4" width="10.5" height="9.8" fill="#9dd6ca"/><rect x="1065.2" y="654.4" width="10.5" height="9.8" fill="#9dd6ca"/><rect x="1086.3" y="654.4" width="94.6" height="9.8" fill="#9dd6ca"/><rect x="1180.9" y="654.4" width="241.7" height="9.8" fill="#f1c376"/><rect x="1433.1" y="654.4" width="10.5" height="9.8" fill="#f1c376"/><rect x="1454.1" y="654.4" width="10.5" height="9.8" fill="#f1c376"/><rect x="1475.1" y="654.4" width="10.5" height="9.8" fill="#f1c376"/><rect x="1496.2" y="654.4" width="10.5" height="9.8" fill="#f1c376"/><rect x="1517.2" y="654.4" width="10.5" height="9.8" fill="#f1c376"/><rect x="1538.2" y="654.4" width="42" height="9.8" fill="#f1c376"/><rect x="802.5" y="644.6" width="252.2" height="9.8" fill="#9dd6ca"/><rect x="1065.2" y="644.6" width="126.1" height="9.8" fill="#9dd6ca"/><rect x="1191.4" y="644.6" width="231.2" height="9.8" fill="#f1c376"/><rect x="1433.1" y="644.6" width="31.5" height="9.8" fill="#f1c376"/><rect x="1475.1" y="644.6" width="10.5" height="9.8" fill="#f1c376"/><rect x="1496.2" y="644.6" width="10.5" height="9.8" fill="#f1c376"/><rect x="1517.2" y="644.6" width="73.6" height="9.8" fill="#f1c376"/><rect x="1601.3" y="644.6" width="10.5" height="9.8" fill="#f1c376"/><rect x="1622.3" y="644.6" width="10.5" height="9.8" fill="#f1c376"/><rect x="781.5" y="634.8" width="42" height="9.8" fill="#f1c376"/><rect x="823.5" y="634.8" width="10.5" height="9.8" fill="#9dd6ca"/><rect x="834" y="634.8" width="10.5" height="9.8" fill="#f1c376"/><rect x="844.5" y="634.8" width="168.2" height="9.8" fill="#9dd6ca"/><rect x="1023.2" y="634.8" width="10.5" height="9.8" fill="#9dd6ca"/><rect x="1044.2" y="634.8" width="10.5" height="9.8" fill="#9dd6ca"/><rect x="1107.3" y="634.8" width="94.6" height="9.8" fill="#9dd6ca"/><rect x="1201.9" y="634.8" width="283.8" height="9.8" fill="#f1c376"/><rect x="1496.2" y="634.8" width="10.5" height="9.8" fill="#f1c376"/><rect x="1517.2" y="634.8" width="73.6" height="9.8" fill="#f1c376"/><rect x="1601.3" y="634.8" width="10.5" height="9.8" fill="#f1c376"/><rect x="1622.3" y="634.8" width="10.5" height="9.8" fill="#f1c376"/><rect x="1643.3" y="634.8" width="10.5" height="9.8" fill="#f1c376"/><rect x="1664.3" y="634.8" width="10.5" height="9.8" fill="#f1c376"/><rect x="834" y="624.9" width="262.8" height="9.8" fill="#9dd6ca"/><rect x="1107.3" y="624.9" width="105.1" height="9.8" fill="#9dd6ca"/><rect x="1212.4" y="624.9" width="273.3" height="9.8" fill="#f1c376"/><rect x="1496.2" y="624.9" width="94.6" height="9.8" fill="#f1c376"/><rect x="1601.3" y="624.9" width="10.5" height="9.8" fill="#f1c376"/><rect x="1622.3" y="624.9" width="10.5" height="9.8" fill="#f1c376"/><rect x="1643.3" y="624.9" width="10.5" height="9.8" fill="#f1c376"/><rect x="1664.3" y="624.9" width="10.5" height="9.8" fill="#f1c376"/><rect x="813" y="615.1" width="31.5" height="9.8" fill="#f1c376"/><rect x="844.5" y="615.1" width="210.2" height="9.8" fill="#9dd6ca"/><rect x="1065.2" y="615.1" width="10.5" height="9.8" fill="#9dd6ca"/><rect x="1086.3" y="615.1" width="10.5" height="9.8" fill="#9dd6ca"/><rect x="1128.3" y="615.1" width="10.5" height="9.8" fill="#9dd6ca"/><rect x="1149.3" y="615.1" width="84.1" height="9.8" fill="#9dd6ca"/><rect x="1233.4" y="615.1" width="357.3" height="9.8" fill="#f1c376"/><rect x="1601.3" y="615.1" width="31.5" height="9.8" fill="#f1c376"/><rect x="1643.3" y="615.1" width="10.5" height="9.8" fill="#f1c376"/><rect x="1664.3" y="615.1" width="10.5" height="9.8" fill="#f1c376"/><rect x="1685.3" y="615.1" width="10.5" height="9.8" fill="#f1c376"/><rect x="1706.4" y="615.1" width="10.5" height="9.8" fill="#f1c376"/><rect x="1727.4" y="615.1" width="10.5" height="9.8" fill="#f1c376"/><rect x="855" y="605.2" width="262.8" height="9.8" fill="#9dd6ca"/><rect x="1128.3" y="605.2" width="105.1" height="9.8" fill="#9dd6ca"/><rect x="1233.4" y="605.2" width="399.4" height="9.8" fill="#f1c376"/><rect x="1643.3" y="605.2" width="10.5" height="9.8" fill="#f1c376"/><rect x="1664.3" y="605.2" width="10.5" height="9.8" fill="#f1c376"/><rect x="1685.3" y="605.2" width="10.5" height="9.8" fill="#f1c376"/><rect x="1706.4" y="605.2" width="10.5" height="9.8" fill="#f1c376"/><rect x="1727.4" y="605.2" width="10.5" height="9.8" fill="#f1c376"/><rect x="844.5" y="595.4" width="42" height="9.8" fill="#f1c376"/><rect x="886.6" y="595.4" width="210.2" height="9.8" fill="#9dd6ca"/><rect x="1107.3" y="595.4" width="10.5" height="9.8" fill="#9dd6ca"/><rect x="1170.3" y="595.4" width="10.5" height="9.8" fill="#9dd6ca"/><rect x="1191.4" y="595.4" width="52.5" height="9.8" fill="#9dd6ca"/><rect x="1243.9" y="595.4" width="409.9" height="9.8" fill="#f1c376"/><rect x="1664.3" y="595.4" width="10.5" height="9.8" fill="#f1c376"/><rect x="1685.3" y="595.4" width="10.5" height="9.8" fill="#f1c376"/><rect x="1706.4" y="595.4" width="10.5" height="9.8" fill="#f1c376"/><rect x="1727.4" y="595.4" width="10.5" height="9.8" fill="#f1c376"/><rect x="1748.4" y="595.4" width="10.5" height="9.8" fill="#f1c376"/><rect x="1769.4" y="595.4" width="10.5" height="9.8" fill="#f1c376"/><rect x="897.1" y="585.6" width="262.8" height="9.8" fill="#9dd6ca"/><rect x="1180.9" y="585.6" width="84.1" height="9.8" fill="#9dd6ca"/><rect x="1264.9" y="585.6" width="388.9" height="9.8" fill="#f1c376"/><rect x="1664.3" y="585.6" width="31.5" height="9.8" fill="#f1c376"/><rect x="1706.4" y="585.6" width="10.5" height="9.8" fill="#f1c376"/><rect x="1727.4" y="585.6" width="31.5" height="9.8" fill="#f1c376"/><rect x="1769.4" y="585.6" width="10.5" height="9.8" fill="#f1c376"/><rect x="886.6" y="575.7" width="31.5" height="9.8" fill="#f1c376"/><rect x="918.1" y="575.7" width="220.7" height="9.8" fill="#9dd6ca"/><rect x="1149.3" y="575.7" width="10.5" height="9.8" fill="#9dd6ca"/><rect x="1212.4" y="575.7" width="94.6" height="9.8" fill="#9dd6ca"/><rect x="1307" y="575.7" width="388.9" height="9.8" fill="#f1c376"/><rect x="1706.4" y="575.7" width="10.5" height="9.8" fill="#f1c376"/><rect x="1727.4" y="575.7" width="31.5" height="9.8" fill="#f1c376"/><rect x="1769.4" y="575.7" width="10.5" height="9.8" fill="#f1c376"/><rect x="1790.4" y="575.7" width="10.5" height="9.8" fill="#f1c376"/><rect x="928.6" y="565.9" width="262.8" height="9.8" fill="#9dd6ca"/><rect x="1212.4" y="565.9" width="136.6" height="9.8" fill="#9dd6ca"/><rect x="1349" y="565.9" width="346.8" height="9.8" fill="#f1c376"/><rect x="1706.4" y="565.9" width="73.6" height="9.8" fill="#f1c376"/><rect x="1790.4" y="565.9" width="10.5" height="9.8" fill="#f1c376"/><rect x="1811.5" y="565.9" width="10.5" height="9.8" fill="#f1c376"/><rect x="1832.5" y="565.9" width="10.5" height="9.8" fill="#f1c376"/><rect x="907.6" y="556" width="31.5" height="9.8" fill="#f1c376"/><rect x="939.1" y="556" width="241.7" height="9.8" fill="#9dd6ca"/><rect x="1191.4" y="556" width="10.5" height="9.8" fill="#9dd6ca"/><rect x="1233.4" y="556" width="10.5" height="9.8" fill="#9dd6ca"/><rect x="1254.4" y="556" width="115.6" height="9.8" fill="#9dd6ca"/><rect x="1370" y="556" width="409.9" height="9.8" fill="#f1c376"/><rect x="1790.4" y="556" width="10.5" height="9.8" fill="#f1c376"/><rect x="1811.5" y="556" width="10.5" height="9.8" fill="#f1c376"/><rect x="1832.5" y="556" width="10.5" height="9.8" fill="#f1c376"/><rect x="949.6" y="546.2" width="273.3" height="9.8" fill="#9dd6ca"/><rect x="1233.4" y="546.2" width="10.5" height="9.8" fill="#9dd6ca"/><rect x="1254.4" y="546.2" width="126.1" height="9.8" fill="#9dd6ca"/><rect x="1380.5" y="546.2" width="399.4" height="9.8" fill="#f1c376"/><rect x="1790.4" y="546.2" width="10.5" height="9.8" fill="#f1c376"/><rect x="1811.5" y="546.2" width="10.5" height="9.8" fill="#f1c376"/><rect x="1832.5" y="546.2" width="10.5" height="9.8" fill="#f1c376"/><rect x="1853.5" y="546.2" width="10.5" height="9.8" fill="#f1c376"/><rect x="1874.5" y="546.2" width="10.5" height="9.8" fill="#f1c376"/><rect x="928.6" y="536.4" width="31.5" height="9.8" fill="#f1c376"/><rect x="960.1" y="536.4" width="31.5" height="9.8" fill="#9dd6ca"/><rect x="991.7" y="536.4" width="10.5" height="9.8" fill="#f1c376"/><rect x="1002.2" y="536.4" width="199.7" height="9.8" fill="#9dd6ca"/><rect x="1212.4" y="536.4" width="10.5" height="9.8" fill="#9dd6ca"/><rect x="1275.4" y="536.4" width="10.5" height="9.8" fill="#9dd6ca"/><rect x="1296.5" y="536.4" width="105.1" height="9.8" fill="#9dd6ca"/><rect x="1401.6" y="536.4" width="399.4" height="9.8" fill="#f1c376"/><rect x="1811.5" y="536.4" width="10.5" height="9.8" fill="#f1c376"/><rect x="1832.5" y="536.4" width="10.5" height="9.8" fill="#f1c376"/><rect x="1853.5" y="536.4" width="10.5" height="9.8" fill="#f1c376"/><rect x="1874.5" y="536.4" width="10.5" height="9.8" fill="#f1c376"/><rect x="1895.5" y="536.4" width="10.5" height="9.8" fill="#f1c376"/><rect x="1916.6" y="536.4" width="10.5" height="9.8" fill="#f1c376"/><rect x="1937.6" y="536.4" width="10.5" height="9.8" fill="#f1c376"/><rect x="981.2" y="526.5" width="283.8" height="9.8" fill="#9dd6ca"/><rect x="1275.4" y="526.5" width="10.5" height="9.8" fill="#9dd6ca"/><rect x="1296.5" y="526.5" width="115.6" height="9.8" fill="#9dd6ca"/><rect x="1412.1" y="526.5" width="409.9" height="9.8" fill="#f1c376"/><rect x="1832.5" y="526.5" width="10.5" height="9.8" fill="#f1c376"/><rect x="1853.5" y="526.5" width="10.5" height="9.8" fill="#f1c376"/><rect x="1874.5" y="526.5" width="10.5" height="9.8" fill="#f1c376"/><rect x="1895.5" y="526.5" width="10.5" height="9.8" fill="#f1c376"/><rect x="1916.6" y="526.5" width="10.5" height="9.8" fill="#f1c376"/><rect x="1937.6" y="526.5" width="10.5" height="9.8" fill="#f1c376"/><rect x="970.7" y="516.7" width="10.5" height="9.8" fill="#f1c376"/><rect x="981.2" y="516.7" width="31.5" height="9.8" fill="#9dd6ca"/><rect x="1012.7" y="516.7" width="10.5" height="9.8" fill="#f1c376"/><rect x="1023.2" y="516.7" width="220.7" height="9.8" fill="#9dd6ca"/><rect x="1254.4" y="516.7" width="10.5" height="9.8" fill="#9dd6ca"/><rect x="1275.4" y="516.7" width="10.5" height="9.8" fill="#9dd6ca"/><rect x="1317.5" y="516.7" width="10.5" height="9.8" fill="#9dd6ca"/><rect x="1338.5" y="516.7" width="105.1" height="9.8" fill="#9dd6ca"/><rect x="1443.6" y="516.7" width="420.4" height="9.8" fill="#f1c376"/><rect x="1874.5" y="516.7" width="10.5" height="9.8" fill="#f1c376"/><rect x="1895.5" y="516.7" width="10.5" height="9.8" fill="#f1c376"/><rect x="1916.6" y="516.7" width="10.5" height="9.8" fill="#f1c376"/><rect x="1937.6" y="516.7" width="10.5" height="9.8" fill="#f1c376"/><rect x="1958.6" y="516.7" width="10.5" height="9.8" fill="#f1c376"/><rect x="1012.7" y="506.8" width="294.3" height="9.8" fill="#9dd6ca"/><rect x="1317.5" y="506.8" width="136.6" height="9.8" fill="#9dd6ca"/><rect x="1454.1" y="506.8" width="409.9" height="9.8" fill="#f1c376"/><rect x="1874.5" y="506.8" width="10.5" height="9.8" fill="#f1c376"/><rect x="1895.5" y="506.8" width="52.5" height="9.8" fill="#f1c376"/><rect x="1958.6" y="506.8" width="10.5" height="9.8" fill="#f1c376"/><rect x="991.7" y="497" width="21" height="9.8" fill="#f1c376"/><rect x="1012.7" y="497" width="21" height="9.8" fill="#9dd6ca"/><rect x="1033.7" y="497" width="10.5" height="9.8" fill="#f1c376"/><rect x="1044.2" y="497" width="241.7" height="9.8" fill="#9dd6ca"/><rect x="1296.5" y="497" width="10.5" height="9.8" fill="#9dd6ca"/><rect x="1359.5" y="497" width="10.5" height="9.8" fill="#9dd6ca"/><rect x="1380.5" y="497" width="126.1" height="9.8" fill="#9dd6ca"/><rect x="1506.7" y="497" width="357.3" height="9.8" fill="#f1c376"/><rect x="1874.5" y="497" width="10.5" height="9.8" fill="#f1c376"/><rect x="1895.5" y="497" width="52.5" height="9.8" fill="#f1c376"/><rect x="1958.6" y="497" width="10.5" height="9.8" fill="#f1c376"/><rect x="1065.2" y="487.2" width="283.8" height="9.8" fill="#9dd6ca"/><rect x="1359.5" y="487.2" width="10.5" height="9.8" fill="#9dd6ca"/><rect x="1380.5" y="487.2" width="126.1" height="9.8" fill="#9dd6ca"/><rect x="1506.7" y="487.2" width="441.4" height="9.8" fill="#f1c376"/><rect x="1958.6" y="487.2" width="10.5" height="9.8" fill="#f1c376"/><rect x="1054.7" y="477.3" width="21" height="9.8" fill="#f1c376"/><rect x="1075.8" y="477.3" width="10.5" height="9.8" fill="#9dd6ca"/><rect x="1086.3" y="477.3" width="10.5" height="9.8" fill="#f1c376"/><rect x="1096.8" y="477.3" width="252.2" height="9.8" fill="#9dd6ca"/><rect x="1359.5" y="477.3" width="10.5" height="9.8" fill="#9dd6ca"/><rect x="1401.6" y="477.3" width="126.1" height="9.8" fill="#9dd6ca"/><rect x="1527.7" y="477.3" width="441.4" height="9.8" fill="#f1c376"/><rect x="1979.6" y="477.3" width="10.5" height="9.8" fill="#f1c376"/><rect x="1128.3" y="467.5" width="262.8" height="9.8" fill="#9dd6ca"/><rect x="1401.6" y="467.5" width="157.7" height="9.8" fill="#9dd6ca"/><rect x="1559.2" y="467.5" width="409.9" height="9.8" fill="#f1c376"/><rect x="1979.6" y="467.5" width="10.5" height="9.8" fill="#f1c376"/><rect x="1117.8" y="457.6" width="21" height="9.8" fill="#f1c376"/><rect x="1138.8" y="457.6" width="441.4" height="9.8" fill="#9dd6ca"/><rect x="1580.2" y="457.6" width="388.9" height="9.8" fill="#f1c376"/><rect x="1979.6" y="457.6" width="10.5" height="9.8" fill="#f1c376"/><rect x="2000.6" y="457.6" width="10.5" height="9.8" fill="#f1c376"/><rect x="2021.7" y="457.6" width="10.5" height="9.8" fill="#f1c376"/><rect x="2042.7" y="457.6" width="10.5" height="9.8" fill="#f1c376"/><rect x="1180.9" y="447.8" width="409.9" height="9.8" fill="#9dd6ca"/><rect x="1590.8" y="447.8" width="399.4" height="9.8" fill="#f1c376"/><rect x="2000.6" y="447.8" width="10.5" height="9.8" fill="#f1c376"/><rect x="2021.7" y="447.8" width="10.5" height="9.8" fill="#f1c376"/><rect x="2042.7" y="447.8" width="10.5" height="9.8" fill="#f1c376"/><rect x="1138.8" y="438" width="63.1" height="9.8" fill="#f1c376"/><rect x="1201.9" y="438" width="399.4" height="9.8" fill="#9dd6ca"/><rect x="1601.3" y="438" width="388.9" height="9.8" fill="#f1c376"/><rect x="2000.6" y="438" width="10.5" height="9.8" fill="#f1c376"/><rect x="2021.7" y="438" width="10.5" height="9.8" fill="#f1c376"/><rect x="2042.7" y="438" width="10.5" height="9.8" fill="#f1c376"/><rect x="2063.7" y="438" width="10.5" height="9.8" fill="#f1c376"/><rect x="2084.7" y="438" width="10.5" height="9.8" fill="#f1c376"/><rect x="2105.7" y="438" width="10.5" height="9.8" fill="#f1c376"/><rect x="2126.8" y="438" width="10.5" height="9.8" fill="#f1c376"/><rect x="1222.9" y="428.1" width="388.9" height="9.8" fill="#9dd6ca"/><rect x="1611.8" y="428.1" width="378.4" height="9.8" fill="#f1c376"/><rect x="2000.6" y="428.1" width="10.5" height="9.8" fill="#f1c376"/><rect x="2021.7" y="428.1" width="10.5" height="9.8" fill="#f1c376"/><rect x="2042.7" y="428.1" width="31.5" height="9.8" fill="#f1c376"/><rect x="2084.7" y="428.1" width="10.5" height="9.8" fill="#f1c376"/><rect x="2105.7" y="428.1" width="10.5" height="9.8" fill="#f1c376"/><rect x="2126.8" y="428.1" width="10.5" height="9.8" fill="#f1c376"/><rect x="1170.3" y="418.3" width="84.1" height="9.8" fill="#f1c376"/><rect x="1254.4" y="418.3" width="10.5" height="9.8" fill="#9dd6ca"/><rect x="1264.9" y="418.3" width="10.5" height="9.8" fill="#f1c376"/><rect x="1275.4" y="418.3" width="346.8" height="9.8" fill="#9dd6ca"/><rect x="1622.3" y="418.3" width="388.9" height="9.8" fill="#f1c376"/><rect x="2021.7" y="418.3" width="10.5" height="9.8" fill="#f1c376"/><rect x="2042.7" y="418.3" width="52.5" height="9.8" fill="#f1c376"/><rect x="2105.7" y="418.3" width="10.5" height="9.8" fill="#f1c376"/><rect x="2126.8" y="418.3" width="10.5" height="9.8" fill="#f1c376"/><rect x="2147.8" y="418.3" width="10.5" height="9.8" fill="#f1c376"/><rect x="2168.8" y="418.3" width="10.5" height="9.8" fill="#f1c376"/><rect x="2189.8" y="418.3" width="10.5" height="9.8" fill="#f1c376"/><rect x="2210.8" y="418.3" width="10.5" height="9.8" fill="#f1c376"/><rect x="2231.9" y="418.3" width="10.5" height="9.8" fill="#f1c376"/><rect x="2252.9" y="418.3" width="10.5" height="9.8" fill="#f1c376"/><rect x="1286" y="408.4" width="346.8" height="9.8" fill="#9dd6ca"/><rect x="1632.8" y="408.4" width="462.4" height="9.8" fill="#f1c376"/><rect x="2105.7" y="408.4" width="10.5" height="9.8" fill="#f1c376"/><rect x="2126.8" y="408.4" width="31.5" height="9.8" fill="#f1c376"/><rect x="2168.8" y="408.4" width="10.5" height="9.8" fill="#f1c376"/><rect x="2189.8" y="408.4" width="10.5" height="9.8" fill="#f1c376"/><rect x="2210.8" y="408.4" width="10.5" height="9.8" fill="#f1c376"/><rect x="2231.9" y="408.4" width="10.5" height="9.8" fill="#f1c376"/><rect x="2252.9" y="408.4" width="10.5" height="9.8" fill="#f1c376"/><rect x="2273.9" y="408.4" width="10.5" height="9.8" fill="#f1c376"/><rect x="1201.9" y="398.6" width="10.5" height="9.8" fill="#f1c376"/><rect x="1222.9" y="398.6" width="73.6" height="9.8" fill="#f1c376"/><rect x="1296.5" y="398.6" width="21" height="9.8" fill="#9dd6ca"/><rect x="1317.5" y="398.6" width="10.5" height="9.8" fill="#f1c376"/><rect x="1328" y="398.6" width="231.2" height="9.8" fill="#9dd6ca"/><rect x="1569.7" y="398.6" width="73.6" height="9.8" fill="#9dd6ca"/><rect x="1643.3" y="398.6" width="472.9" height="9.8" fill="#f1c376"/><rect x="2126.8" y="398.6" width="52.5" height="9.8" fill="#f1c376"/><rect x="2189.8" y="398.6" width="10.5" height="9.8" fill="#f1c376"/><rect x="2210.8" y="398.6" width="10.5" height="9.8" fill="#f1c376"/><rect x="2231.9" y="398.6" width="10.5" height="9.8" fill="#f1c376"/><rect x="2252.9" y="398.6" width="10.5" height="9.8" fill="#f1c376"/><rect x="2273.9" y="398.6" width="10.5" height="9.8" fill="#f1c376"/><rect x="2294.9" y="398.6" width="10.5" height="9.8" fill="#f1c376"/><rect x="1317.5" y="388.8" width="315.3" height="9.8" fill="#9dd6ca"/><rect x="1632.8" y="388.8" width="546.5" height="9.8" fill="#f1c376"/><rect x="2189.8" y="388.8" width="10.5" height="9.8" fill="#f1c376"/><rect x="2210.8" y="388.8" width="10.5" height="9.8" fill="#f1c376"/><rect x="2231.9" y="388.8" width="10.5" height="9.8" fill="#f1c376"/><rect x="2252.9" y="388.8" width="10.5" height="9.8" fill="#f1c376"/><rect x="2273.9" y="388.8" width="10.5" height="9.8" fill="#f1c376"/><rect x="2294.9" y="388.8" width="10.5" height="9.8" fill="#f1c376"/><rect x="2315.9" y="388.8" width="10.5" height="9.8" fill="#f1c376"/><rect x="2337" y="388.8" width="10.5" height="9.8" fill="#f1c376"/><rect x="1243.9" y="378.9" width="105.1" height="9.8" fill="#f1c376"/><rect x="1349" y="378.9" width="31.5" height="9.8" fill="#9dd6ca"/><rect x="1380.5" y="378.9" width="10.5" height="9.8" fill="#f1c376"/><rect x="1391.1" y="378.9" width="168.2" height="9.8" fill="#9dd6ca"/><rect x="1580.2" y="378.9" width="21" height="9.8" fill="#9dd6ca"/><rect x="1611.8" y="378.9" width="42" height="9.8" fill="#9dd6ca"/><rect x="1653.8" y="378.9" width="546.5" height="9.8" fill="#f1c376"/><rect x="2210.8" y="378.9" width="31.5" height="9.8" fill="#f1c376"/><rect x="2252.9" y="378.9" width="10.5" height="9.8" fill="#f1c376"/><rect x="2273.9" y="378.9" width="31.5" height="9.8" fill="#f1c376"/><rect x="2315.9" y="378.9" width="10.5" height="9.8" fill="#f1c376"/><rect x="2337" y="378.9" width="10.5" height="9.8" fill="#f1c376"/><rect x="2358" y="378.9" width="10.5" height="9.8" fill="#f1c376"/><rect x="1380.5" y="369.1" width="10.5" height="9.8" fill="#f1c376"/><rect x="1391.1" y="369.1" width="273.3" height="9.8" fill="#9dd6ca"/><rect x="1664.3" y="369.1" width="641.1" height="9.8" fill="#f1c376"/><rect x="2315.9" y="369.1" width="10.5" height="9.8" fill="#f1c376"/><rect x="2337" y="369.1" width="10.5" height="9.8" fill="#f1c376"/><rect x="2358" y="369.1" width="10.5" height="9.8" fill="#f1c376"/><rect x="1286" y="359.2" width="189.2" height="9.8" fill="#f1c376"/><rect x="1475.1" y="359.2" width="21" height="9.8" fill="#9dd6ca"/><rect x="1496.2" y="359.2" width="10.5" height="9.8" fill="#f1c376"/><rect x="1506.7" y="359.2" width="178.7" height="9.8" fill="#9dd6ca"/><rect x="1685.3" y="359.2" width="620.1" height="9.8" fill="#f1c376"/><rect x="2315.9" y="359.2" width="10.5" height="9.8" fill="#f1c376"/><rect x="2337" y="359.2" width="10.5" height="9.8" fill="#f1c376"/><rect x="2358" y="359.2" width="10.5" height="9.8" fill="#f1c376"/><rect x="2379" y="359.2" width="10.5" height="9.8" fill="#f1c376"/><rect x="1475.1" y="349.4" width="220.7" height="9.8" fill="#9dd6ca"/><rect x="1695.8" y="349.4" width="693.7" height="9.8" fill="#f1c376"/><rect x="1328" y="339.6" width="10.5" height="9.8" fill="#f1c376"/><rect x="1349" y="339.6" width="157.7" height="9.8" fill="#f1c376"/><rect x="1506.7" y="339.6" width="31.5" height="9.8" fill="#9dd6ca"/><rect x="1538.2" y="339.6" width="10.5" height="9.8" fill="#f1c376"/><rect x="1548.7" y="339.6" width="168.2" height="9.8" fill="#9dd6ca"/><rect x="1716.9" y="339.6" width="672.6" height="9.8" fill="#f1c376"/><rect x="1443.6" y="329.7" width="52.5" height="9.8" fill="#f1c376"/><rect x="1496.2" y="329.7" width="231.2" height="9.8" fill="#9dd6ca"/><rect x="1727.4" y="329.7" width="662.1" height="9.8" fill="#f1c376"/><rect x="1370" y="319.9" width="157.7" height="9.8" fill="#f1c376"/><rect x="1527.7" y="319.9" width="31.5" height="9.8" fill="#9dd6ca"/><rect x="1559.2" y="319.9" width="10.5" height="9.8" fill="#f1c376"/><rect x="1569.7" y="319.9" width="168.2" height="9.8" fill="#9dd6ca"/><rect x="1737.9" y="319.9" width="651.6" height="9.8" fill="#f1c376"/><rect x="1485.6" y="310" width="63.1" height="9.8" fill="#f1c376"/><rect x="1548.7" y="310" width="189.2" height="9.8" fill="#9dd6ca"/><rect x="1737.9" y="310" width="651.6" height="9.8" fill="#f1c376"/><rect x="1412.1" y="300.2" width="136.6" height="9.8" fill="#f1c376"/><rect x="1548.7" y="300.2" width="21" height="9.8" fill="#9dd6ca"/><rect x="1569.7" y="300.2" width="21" height="9.8" fill="#f1c376"/><rect x="1590.8" y="300.2" width="157.7" height="9.8" fill="#9dd6ca"/><rect x="1748.4" y="300.2" width="641.1" height="9.8" fill="#f1c376"/><rect x="1527.7" y="290.4" width="52.5" height="9.8" fill="#f1c376"/><rect x="1580.2" y="290.4" width="168.2" height="9.8" fill="#9dd6ca"/><rect x="1748.4" y="290.4" width="641.1" height="9.8" fill="#f1c376"/><rect x="1454.1" y="280.5" width="157.7" height="9.8" fill="#f1c376"/><rect x="1611.8" y="280.5" width="10.5" height="9.8" fill="#9dd6ca"/><rect x="1622.3" y="280.5" width="10.5" height="9.8" fill="#f1c376"/><rect x="1632.8" y="280.5" width="126.1" height="9.8" fill="#9dd6ca"/><rect x="1758.9" y="280.5" width="630.6" height="9.8" fill="#f1c376"/><rect x="1569.7" y="270.7" width="52.5" height="9.8" fill="#f1c376"/><rect x="1622.3" y="270.7" width="168.2" height="9.8" fill="#9dd6ca"/><rect x="1790.4" y="270.7" width="599.1" height="9.8" fill="#f1c376"/><rect x="1496.2" y="260.8" width="136.6" height="9.8" fill="#f1c376"/><rect x="1632.8" y="260.8" width="31.5" height="9.8" fill="#9dd6ca"/><rect x="1664.3" y="260.8" width="10.5" height="9.8" fill="#f1c376"/><rect x="1674.8" y="260.8" width="126.1" height="9.8" fill="#9dd6ca"/><rect x="1800.9" y="260.8" width="588.6" height="9.8" fill="#f1c376"/><rect x="1611.8" y="251" width="31.5" height="9.8" fill="#f1c376"/><rect x="1643.3" y="251" width="168.2" height="9.8" fill="#9dd6ca"/><rect x="1811.5" y="251" width="578" height="9.8" fill="#f1c376"/><rect x="1538.2" y="241.2" width="115.6" height="9.8" fill="#f1c376"/><rect x="1653.8" y="241.2" width="157.7" height="9.8" fill="#9dd6ca"/><rect x="1811.5" y="241.2" width="578" height="9.8" fill="#f1c376"/><rect x="1653.8" y="231.3" width="21" height="9.8" fill="#f1c376"/><rect x="1674.8" y="231.3" width="157.7" height="9.8" fill="#9dd6ca"/><rect x="1832.5" y="231.3" width="557" height="9.8" fill="#f1c376"/><rect x="1580.2" y="221.5" width="115.6" height="9.8" fill="#f1c376"/><rect x="1695.8" y="221.5" width="157.7" height="9.8" fill="#9dd6ca"/><rect x="1853.5" y="221.5" width="536" height="9.8" fill="#f1c376"/><rect x="1716.9" y="211.6" width="136.6" height="9.8" fill="#9dd6ca"/><rect x="1853.5" y="211.6" width="536" height="9.8" fill="#f1c376"/><rect x="1622.3" y="201.8" width="10.5" height="9.8" fill="#f1c376"/><rect x="1643.3" y="201.8" width="73.6" height="9.8" fill="#f1c376"/><rect x="1716.9" y="201.8" width="157.7" height="9.8" fill="#9dd6ca"/><rect x="1874.5" y="201.8" width="515" height="9.8" fill="#f1c376"/><rect x="1758.9" y="192" width="115.6" height="9.8" fill="#9dd6ca"/><rect x="1874.5" y="192" width="515" height="9.8" fill="#f1c376"/><rect x="1685.3" y="182.1" width="115.6" height="9.8" fill="#f1c376"/><rect x="1800.9" y="182.1" width="10.5" height="9.8" fill="#9dd6ca"/><rect x="1811.5" y="182.1" width="31.5" height="9.8" fill="#f1c376"/><rect x="1843" y="182.1" width="63.1" height="9.8" fill="#9dd6ca"/><rect x="1906" y="182.1" width="483.5" height="9.8" fill="#f1c376"/><rect x="1800.9" y="172.3" width="10.5" height="9.8" fill="#9dd6ca"/><rect x="1811.5" y="172.3" width="31.5" height="9.8" fill="#f1c376"/><rect x="1843" y="172.3" width="52.5" height="9.8" fill="#9dd6ca"/><rect x="1895.5" y="172.3" width="31.5" height="9.8" fill="#f1c376"/><rect x="1927.1" y="172.3" width="10.5" height="9.8" fill="#9dd6ca"/><rect x="1937.6" y="172.3" width="451.9" height="9.8" fill="#f1c376"/><rect x="1706.4" y="162.4" width="147.1" height="9.8" fill="#f1c376"/><rect x="1853.5" y="162.4" width="73.6" height="9.8" fill="#9dd6ca"/><rect x="1927.1" y="162.4" width="462.4" height="9.8" fill="#f1c376"/><rect x="1822" y="152.6" width="52.5" height="9.8" fill="#f1c376"/><rect x="1874.5" y="152.6" width="42" height="9.8" fill="#9dd6ca"/><rect x="1916.6" y="152.6" width="472.9" height="9.8" fill="#f1c376"/><rect x="1748.4" y="142.8" width="10.5" height="9.8" fill="#f1c376"/><rect x="1769.4" y="142.8" width="126.1" height="9.8" fill="#f1c376"/><rect x="1895.5" y="142.8" width="42" height="9.8" fill="#9dd6ca"/><rect x="1937.6" y="142.8" width="451.9" height="9.8" fill="#f1c376"/><rect x="1864" y="132.9" width="52.5" height="9.8" fill="#f1c376"/><rect x="1916.6" y="132.9" width="21" height="9.8" fill="#9dd6ca"/><rect x="1937.6" y="132.9" width="451.9" height="9.8" fill="#f1c376"/><rect x="1790.4" y="123.1" width="126.1" height="9.8" fill="#f1c376"/><rect x="1916.6" y="123.1" width="10.5" height="9.8" fill="#9dd6ca"/><rect x="1927.1" y="123.1" width="462.4" height="9.8" fill="#f1c376"/><rect x="1927.1" y="113.2" width="462.4" height="9.8" fill="#f1c376"/><rect x="1832.5" y="103.4" width="10.5" height="9.8" fill="#f1c376"/><rect x="1853.5" y="103.4" width="536" height="9.8" fill="#f1c376"/><rect x="1969.1" y="93.6" width="420.4" height="9.8" fill="#f1c376"/><rect x="1895.5" y="83.7" width="494" height="9.8" fill="#f1c376"/><rect x="2011.1" y="73.9" width="378.4" height="9.8" fill="#f1c376"/><rect x="1937.6" y="64" width="451.9" height="9.8" fill="#f1c376"/><rect x="2053.2" y="54.2" width="336.3" height="9.8" fill="#f1c376"/><rect x="2000.6" y="44.4" width="388.9" height="9.8" fill="#f1c376"/><rect x="2084.7" y="34.5" width="304.8" height="9.8" fill="#f1c376"/><rect x="2032.2" y="24.7" width="357.3" height="9.8" fill="#f1c376"/><rect x="2137.3" y="14.8" width="252.2" height="9.8" fill="#f1c376"/><rect x="2063.7" y="5" width="325.8" height="9.8" fill="#f1c376"/></g><g fill="#0c0c0c" shape-rendering="crispEdges"><rect x="66.8" y="1274.4" width="10.5" height="9.8"/><rect x="77.3" y="1274.4" width="10.5" height="9.8"/><rect x="77.3" y="1264.5" width="10.5" height="9.8"/><rect x="87.8" y="1264.5" width="10.5" height="9.8"/><rect x="98.3" y="1254.7" width="10.5" height="9.8"/><rect x="108.8" y="1254.7" width="10.5" height="9.8"/><rect x="119.3" y="1244.8" width="10.5" height="9.8"/><rect x="119.3" y="1235" width="10.5" height="9.8"/><rect x="129.9" y="1235" width="10.5" height="9.8"/><rect x="129.9" y="1225.2" width="10.5" height="9.8"/><rect x="140.4" y="1225.2" width="10.5" height="9.8"/><rect x="140.4" y="1215.3" width="10.5" height="9.8"/><rect x="150.9" y="1215.3" width="10.5" height="9.8"/><rect x="150.9" y="1205.5" width="10.5" height="9.8"/><rect x="161.4" y="1205.5" width="10.5" height="9.8"/><rect x="171.9" y="1205.5" width="10.5" height="9.8"/><rect x="171.9" y="1195.6" width="10.5" height="9.8"/><rect x="171.9" y="1185.8" width="10.5" height="9.8"/><rect x="182.4" y="1185.8" width="10.5" height="9.8"/><rect x="192.9" y="1185.8" width="10.5" height="9.8"/><rect x="192.9" y="1176" width="10.5" height="9.8"/><rect x="192.9" y="1166.1" width="10.5" height="9.8"/><rect x="203.4" y="1166.1" width="10.5" height="9.8"/><rect x="213.9" y="1166.1" width="10.5" height="9.8"/><rect x="213.9" y="1156.3" width="10.5" height="9.8"/><rect x="213.9" y="1146.4" width="10.5" height="9.8"/><rect x="224.4" y="1146.4" width="10.5" height="9.8"/><rect x="235" y="1146.4" width="10.5" height="9.8"/><rect x="235" y="1136.6" width="10.5" height="9.8"/><rect x="235" y="1126.8" width="10.5" height="9.8"/><rect x="245.5" y="1126.8" width="10.5" height="9.8"/><rect x="256" y="1126.8" width="10.5" height="9.8"/><rect x="277" y="1126.8" width="10.5" height="9.8"/><rect x="256" y="1116.9" width="10.5" height="9.8"/><rect x="277" y="1116.9" width="10.5" height="9.8"/><rect x="256" y="1107.1" width="10.5" height="9.8"/><rect x="277" y="1107.1" width="10.5" height="9.8"/><rect x="298" y="1107.1" width="10.5" height="9.8"/><rect x="277" y="1097.2" width="10.5" height="9.8"/><rect x="287.5" y="1097.2" width="10.5" height="9.8"/><rect x="298" y="1097.2" width="10.5" height="9.8"/><rect x="277" y="1087.4" width="10.5" height="9.8"/><rect x="298" y="1087.4" width="10.5" height="9.8"/><rect x="308.5" y="1087.4" width="10.5" height="9.8"/><rect x="319" y="1087.4" width="10.5" height="9.8"/><rect x="340.1" y="1087.4" width="10.5" height="9.8"/><rect x="361.1" y="1087.4" width="10.5" height="9.8"/><rect x="319" y="1077.6" width="10.5" height="9.8"/><rect x="319" y="1067.7" width="10.5" height="9.8"/><rect x="329.6" y="1067.7" width="10.5" height="9.8"/><rect x="340.1" y="1067.7" width="10.5" height="9.8"/><rect x="350.6" y="1067.7" width="10.5" height="9.8"/><rect x="361.1" y="1067.7" width="10.5" height="9.8"/><rect x="350.6" y="1057.9" width="10.5" height="9.8"/><rect x="361.1" y="1057.9" width="10.5" height="9.8"/><rect x="340.1" y="1048" width="10.5" height="9.8"/><rect x="361.1" y="1048" width="10.5" height="9.8"/><rect x="371.6" y="1048" width="10.5" height="9.8"/><rect x="382.1" y="1048" width="10.5" height="9.8"/><rect x="382.1" y="1038.2" width="10.5" height="9.8"/><rect x="361.1" y="1028.4" width="10.5" height="9.8"/><rect x="382.1" y="1028.4" width="10.5" height="9.8"/><rect x="392.6" y="1028.4" width="10.5" height="9.8"/><rect x="403.1" y="1028.4" width="10.5" height="9.8"/><rect x="403.1" y="1018.5" width="10.5" height="9.8"/><rect x="382.1" y="1008.7" width="10.5" height="9.8"/><rect x="403.1" y="1008.7" width="10.5" height="9.8"/><rect x="413.6" y="1008.7" width="10.5" height="9.8"/><rect x="424.1" y="1008.7" width="10.5" height="9.8"/><rect x="445.2" y="1008.7" width="10.5" height="9.8"/><rect x="424.1" y="998.8" width="10.5" height="9.8"/><rect x="445.2" y="998.8" width="10.5" height="9.8"/><rect x="424.1" y="989" width="10.5" height="9.8"/><rect x="445.2" y="989" width="10.5" height="9.8"/><rect x="455.7" y="989" width="10.5" height="9.8"/><rect x="466.2" y="989" width="10.5" height="9.8"/><rect x="487.2" y="989" width="10.5" height="9.8"/><rect x="466.2" y="979.2" width="10.5" height="9.8"/><rect x="487.2" y="979.2" width="10.5" height="9.8"/><rect x="466.2" y="969.3" width="10.5" height="9.8"/><rect x="487.2" y="969.3" width="10.5" height="9.8"/><rect x="497.7" y="969.3" width="10.5" height="9.8"/><rect x="508.2" y="969.3" width="10.5" height="9.8"/><rect x="529.2" y="969.3" width="10.5" height="9.8"/><rect x="508.2" y="959.5" width="10.5" height="9.8"/><rect x="487.2" y="949.6" width="10.5" height="9.8"/><rect x="508.2" y="949.6" width="10.5" height="9.8"/><rect x="518.7" y="949.6" width="10.5" height="9.8"/><rect x="529.2" y="949.6" width="10.5" height="9.8"/><rect x="550.3" y="949.6" width="10.5" height="9.8"/><rect x="571.3" y="949.6" width="10.5" height="9.8"/><rect x="529.2" y="939.8" width="10.5" height="9.8"/><rect x="550.3" y="939.8" width="10.5" height="9.8"/><rect x="508.2" y="930" width="10.5" height="9.8"/><rect x="529.2" y="930" width="10.5" height="9.8"/><rect x="550.3" y="930" width="10.5" height="9.8"/><rect x="560.8" y="930" width="10.5" height="9.8"/><rect x="571.3" y="930" width="10.5" height="9.8"/><rect x="592.3" y="930" width="10.5" height="9.8"/><rect x="571.3" y="920.1" width="10.5" height="9.8"/><rect x="592.3" y="920.1" width="10.5" height="9.8"/><rect x="550.3" y="910.3" width="10.5" height="9.8"/><rect x="571.3" y="910.3" width="10.5" height="9.8"/><rect x="581.8" y="910.3" width="10.5" height="9.8"/><rect x="592.3" y="910.3" width="10.5" height="9.8"/><rect x="592.3" y="900.4" width="10.5" height="9.8"/><rect x="592.3" y="890.6" width="10.5" height="9.8"/><rect x="602.8" y="890.6" width="10.5" height="9.8"/><rect x="613.3" y="890.6" width="10.5" height="9.8"/><rect x="634.3" y="890.6" width="10.5" height="9.8"/><rect x="655.4" y="890.6" width="10.5" height="9.8"/><rect x="613.3" y="880.8" width="10.5" height="9.8"/><rect x="592.3" y="870.9" width="10.5" height="9.8"/><rect x="613.3" y="870.9" width="10.5" height="9.8"/><rect x="623.8" y="870.9" width="10.5" height="9.8"/><rect x="634.3" y="870.9" width="10.5" height="9.8"/><rect x="644.8" y="870.9" width="10.5" height="9.8"/><rect x="655.4" y="870.9" width="10.5" height="9.8"/><rect x="676.4" y="870.9" width="10.5" height="9.8"/><rect x="613.3" y="851.2" width="10.5" height="9.8"/><rect x="634.3" y="851.2" width="10.5" height="9.8"/><rect x="644.8" y="851.2" width="10.5" height="9.8"/><rect x="655.4" y="851.2" width="10.5" height="9.8"/><rect x="665.9" y="851.2" width="10.5" height="9.8"/><rect x="676.4" y="851.2" width="10.5" height="9.8"/><rect x="697.4" y="851.2" width="10.5" height="9.8"/><rect x="676.4" y="841.4" width="10.5" height="9.8"/><rect x="655.4" y="831.6" width="10.5" height="9.8"/><rect x="676.4" y="831.6" width="10.5" height="9.8"/><rect x="686.9" y="831.6" width="10.5" height="9.8"/><rect x="697.4" y="831.6" width="10.5" height="9.8"/><rect x="718.4" y="831.6" width="10.5" height="9.8"/><rect x="739.4" y="831.6" width="10.5" height="9.8"/><rect x="697.4" y="821.7" width="10.5" height="9.8"/><rect x="718.4" y="821.7" width="10.5" height="9.8"/><rect x="676.4" y="811.9" width="10.5" height="9.8"/><rect x="697.4" y="811.9" width="10.5" height="9.8"/><rect x="718.4" y="811.9" width="10.5" height="9.8"/><rect x="728.9" y="811.9" width="10.5" height="9.8"/><rect x="739.4" y="811.9" width="10.5" height="9.8"/><rect x="749.9" y="811.9" width="10.5" height="9.8"/><rect x="760.5" y="811.9" width="10.5" height="9.8"/><rect x="781.5" y="811.9" width="10.5" height="9.8"/><rect x="739.4" y="802" width="10.5" height="9.8"/><rect x="760.5" y="802" width="10.5" height="9.8"/><rect x="718.4" y="792.2" width="10.5" height="9.8"/><rect x="739.4" y="792.2" width="10.5" height="9.8"/><rect x="749.9" y="792.2" width="10.5" height="9.8"/><rect x="760.5" y="792.2" width="10.5" height="9.8"/><rect x="771" y="792.2" width="10.5" height="9.8"/><rect x="781.5" y="792.2" width="10.5" height="9.8"/><rect x="792" y="792.2" width="10.5" height="9.8"/><rect x="802.5" y="792.2" width="10.5" height="9.8"/><rect x="823.5" y="792.2" width="10.5" height="9.8"/><rect x="844.5" y="792.2" width="10.5" height="9.8"/><rect x="802.5" y="782.4" width="10.5" height="9.8"/><rect x="823.5" y="782.4" width="10.5" height="9.8"/><rect x="781.5" y="772.5" width="10.5" height="9.8"/><rect x="802.5" y="772.5" width="10.5" height="9.8"/><rect x="813" y="772.5" width="10.5" height="9.8"/><rect x="823.5" y="772.5" width="10.5" height="9.8"/><rect x="834" y="772.5" width="10.5" height="9.8"/><rect x="844.5" y="772.5" width="10.5" height="9.8"/><rect x="865.6" y="772.5" width="10.5" height="9.8"/><rect x="886.6" y="772.5" width="10.5" height="9.8"/><rect x="844.5" y="762.7" width="10.5" height="9.8"/><rect x="802.5" y="752.8" width="10.5" height="9.8"/><rect x="823.5" y="752.8" width="10.5" height="9.8"/><rect x="844.5" y="752.8" width="10.5" height="9.8"/><rect x="855" y="752.8" width="10.5" height="9.8"/><rect x="865.6" y="752.8" width="10.5" height="9.8"/><rect x="876.1" y="752.8" width="10.5" height="9.8"/><rect x="886.6" y="752.8" width="10.5" height="9.8"/><rect x="907.6" y="752.8" width="10.5" height="9.8"/><rect x="928.6" y="752.8" width="10.5" height="9.8"/><rect x="886.6" y="743" width="10.5" height="9.8"/><rect x="844.5" y="733.2" width="10.5" height="9.8"/><rect x="865.6" y="733.2" width="10.5" height="9.8"/><rect x="886.6" y="733.2" width="10.5" height="9.8"/><rect x="897.1" y="733.2" width="10.5" height="9.8"/><rect x="907.6" y="733.2" width="10.5" height="9.8"/><rect x="918.1" y="733.2" width="10.5" height="9.8"/><rect x="928.6" y="733.2" width="10.5" height="9.8"/><rect x="918.1" y="723.3" width="10.5" height="9.8"/><rect x="928.6" y="723.3" width="10.5" height="9.8"/><rect x="886.6" y="713.5" width="10.5" height="9.8"/><rect x="907.6" y="713.5" width="10.5" height="9.8"/><rect x="928.6" y="713.5" width="10.5" height="9.8"/><rect x="949.6" y="713.5" width="10.5" height="9.8"/><rect x="928.6" y="703.6" width="10.5" height="9.8"/><rect x="928.6" y="693.8" width="10.5" height="9.8"/><rect x="939.1" y="693.8" width="10.5" height="9.8"/><rect x="949.6" y="693.8" width="10.5" height="9.8"/><rect x="960.1" y="693.8" width="10.5" height="9.8"/><rect x="970.7" y="693.8" width="10.5" height="9.8"/><rect x="991.7" y="693.8" width="10.5" height="9.8"/><rect x="1012.7" y="693.8" width="10.5" height="9.8"/><rect x="928.6" y="674.1" width="10.5" height="9.8"/><rect x="960.1" y="674.1" width="10.5" height="9.8"/><rect x="970.7" y="674.1" width="10.5" height="9.8"/><rect x="981.2" y="674.1" width="10.5" height="9.8"/><rect x="991.7" y="674.1" width="10.5" height="9.8"/><rect x="1012.7" y="674.1" width="10.5" height="9.8"/><rect x="1033.7" y="674.1" width="10.5" height="9.8"/><rect x="991.7" y="664.3" width="10.5" height="9.8"/><rect x="1012.7" y="664.3" width="10.5" height="9.8"/><rect x="991.7" y="654.4" width="10.5" height="9.8"/><rect x="1012.7" y="654.4" width="10.5" height="9.8"/><rect x="1023.2" y="654.4" width="10.5" height="9.8"/><rect x="1033.7" y="654.4" width="10.5" height="9.8"/><rect x="1044.2" y="654.4" width="10.5" height="9.8"/><rect x="1054.7" y="654.4" width="10.5" height="9.8"/><rect x="1075.8" y="654.4" width="10.5" height="9.8"/><rect x="1054.7" y="644.6" width="10.5" height="9.8"/><rect x="1012.7" y="634.8" width="10.5" height="9.8"/><rect x="1033.7" y="634.8" width="10.5" height="9.8"/><rect x="1054.7" y="634.8" width="10.5" height="9.8"/><rect x="1065.2" y="634.8" width="10.5" height="9.8"/><rect x="1075.8" y="634.8" width="10.5" height="9.8"/><rect x="1086.3" y="634.8" width="10.5" height="9.8"/><rect x="1096.8" y="634.8" width="10.5" height="9.8"/><rect x="1096.8" y="624.9" width="10.5" height="9.8"/><rect x="1054.7" y="615.1" width="10.5" height="9.8"/><rect x="1075.8" y="615.1" width="10.5" height="9.8"/><rect x="1096.8" y="615.1" width="10.5" height="9.8"/><rect x="1107.3" y="615.1" width="10.5" height="9.8"/><rect x="1117.8" y="615.1" width="10.5" height="9.8"/><rect x="1138.8" y="615.1" width="10.5" height="9.8"/><rect x="1117.8" y="605.2" width="10.5" height="9.8"/><rect x="1096.8" y="595.4" width="10.5" height="9.8"/><rect x="1117.8" y="595.4" width="10.5" height="9.8"/><rect x="1128.3" y="595.4" width="10.5" height="9.8"/><rect x="1138.8" y="595.4" width="10.5" height="9.8"/><rect x="1149.3" y="595.4" width="10.5" height="9.8"/><rect x="1159.8" y="595.4" width="10.5" height="9.8"/><rect x="1180.9" y="595.4" width="10.5" height="9.8"/><rect x="1159.8" y="585.6" width="10.5" height="9.8"/><rect x="1170.3" y="585.6" width="10.5" height="9.8"/><rect x="1138.8" y="575.7" width="10.5" height="9.8"/><rect x="1159.8" y="575.7" width="10.5" height="9.8"/><rect x="1170.3" y="575.7" width="10.5" height="9.8"/><rect x="1180.9" y="575.7" width="10.5" height="9.8"/><rect x="1191.4" y="575.7" width="10.5" height="9.8"/><rect x="1201.9" y="575.7" width="10.5" height="9.8"/><rect x="1191.4" y="565.9" width="10.5" height="9.8"/><rect x="1201.9" y="565.9" width="10.5" height="9.8"/><rect x="1180.9" y="556" width="10.5" height="9.8"/><rect x="1201.9" y="556" width="10.5" height="9.8"/><rect x="1212.4" y="556" width="10.5" height="9.8"/><rect x="1222.9" y="556" width="10.5" height="9.8"/><rect x="1243.9" y="556" width="10.5" height="9.8"/><rect x="1222.9" y="546.2" width="10.5" height="9.8"/><rect x="1243.9" y="546.2" width="10.5" height="9.8"/><rect x="1201.9" y="536.4" width="10.5" height="9.8"/><rect x="1222.9" y="536.4" width="10.5" height="9.8"/><rect x="1233.4" y="536.4" width="10.5" height="9.8"/><rect x="1243.9" y="536.4" width="10.5" height="9.8"/><rect x="1254.4" y="536.4" width="10.5" height="9.8"/><rect x="1264.9" y="536.4" width="10.5" height="9.8"/><rect x="1286" y="536.4" width="10.5" height="9.8"/><rect x="1264.9" y="526.5" width="10.5" height="9.8"/><rect x="1286" y="526.5" width="10.5" height="9.8"/><rect x="1243.9" y="516.7" width="10.5" height="9.8"/><rect x="1264.9" y="516.7" width="10.5" height="9.8"/><rect x="1286" y="516.7" width="10.5" height="9.8"/><rect x="1296.5" y="516.7" width="10.5" height="9.8"/><rect x="1307" y="516.7" width="10.5" height="9.8"/><rect x="1328" y="516.7" width="10.5" height="9.8"/><rect x="1307" y="506.8" width="10.5" height="9.8"/><rect x="1286" y="497" width="10.5" height="9.8"/><rect x="1307" y="497" width="10.5" height="9.8"/><rect x="1317.5" y="497" width="10.5" height="9.8"/><rect x="1328" y="497" width="10.5" height="9.8"/><rect x="1338.5" y="497" width="10.5" height="9.8"/><rect x="1349" y="497" width="10.5" height="9.8"/><rect x="1370" y="497" width="10.5" height="9.8"/><rect x="1349" y="487.2" width="10.5" height="9.8"/><rect x="1370" y="487.2" width="10.5" height="9.8"/><rect x="1349" y="477.3" width="10.5" height="9.8"/><rect x="1370" y="477.3" width="10.5" height="9.8"/><rect x="1380.5" y="477.3" width="10.5" height="9.8"/><rect x="1391.1" y="477.3" width="10.5" height="9.8"/><rect x="1391.1" y="467.5" width="10.5" height="9.8"/><rect x="1559.2" y="398.6" width="10.5" height="9.8"/><rect x="1559.2" y="378.9" width="10.5" height="9.8"/><rect x="1569.7" y="378.9" width="10.5" height="9.8"/><rect x="1601.3" y="378.9" width="10.5" height="9.8"/></g><path d="M66.8,0V1300M77.3,0V1300M87.8,0V1300M98.3,0V1300M108.8,0V1300M119.3,0V1300M129.9,0V1300M140.4,0V1300M150.9,0V1300M161.4,0V1300M171.9,0V1300M182.4,0V1300M192.9,0V1300M203.4,0V1300M213.9,0V1300M224.4,0V1300M235,0V1300M245.5,0V1300M256,0V1300M266.5,0V1300M277,0V1300M287.5,0V1300M298,0V1300M308.5,0V1300M319,0V1300M329.6,0V1300M340.1,0V1300M350.6,0V1300M361.1,0V1300M371.6,0V1300M382.1,0V1300M392.6,0V1300M403.1,0V1300M413.6,0V1300M424.1,0V1300M434.6,0V1300M445.2,0V1300M455.7,0V1300M466.2,0V1300M476.7,0V1300M487.2,0V1300M497.7,0V1300M508.2,0V1300M518.7,0V1300M529.2,0V1300M539.8,0V1300M550.3,0V1300M560.8,0V1300M571.3,0V1300M581.8,0V1300M592.3,0V1300M602.8,0V1300M613.3,0V1300M623.8,0V1300M634.3,0V1300M644.8,0V1300M655.4,0V1300M665.9,0V1300M676.4,0V1300M686.9,0V1300M697.4,0V1300M707.9,0V1300M718.4,0V1300M728.9,0V1300M739.4,0V1300M749.9,0V1300M760.5,0V1300M771,0V1300M781.5,0V1300M792,0V1300M802.5,0V1300M813,0V1300M823.5,0V1300M834,0V1300M844.5,0V1300M855,0V1300M865.6,0V1300M876.1,0V1300M886.6,0V1300M897.1,0V1300M907.6,0V1300M918.1,0V1300M928.6,0V1300M939.1,0V1300M949.6,0V1300M960.1,0V1300M970.7,0V1300M981.2,0V1300M991.7,0V1300M1002.2,0V1300M1012.7,0V1300M1023.2,0V1300M1033.7,0V1300M1044.2,0V1300M1054.7,0V1300M1065.2,0V1300M1075.8,0V1300M1086.3,0V1300M1096.8,0V1300M1107.3,0V1300M1117.8,0V1300M1128.3,0V1300M1138.8,0V1300M1149.3,0V1300M1159.8,0V1300M1170.3,0V1300M1180.9,0V1300M1191.4,0V1300M1201.9,0V1300M1212.4,0V1300M1222.9,0V1300M1233.4,0V1300M1243.9,0V1300M1254.4,0V1300M1264.9,0V1300M1275.4,0V1300M1286,0V1300M1296.5,0V1300M1307,0V1300M1317.5,0V1300M1328,0V1300M1338.5,0V1300M1349,0V1300M1359.5,0V1300M1370,0V1300M1380.5,0V1300M1391.1,0V1300M1401.6,0V1300M1412.1,0V1300M1422.6,0V1300M1433.1,0V1300M1443.6,0V1300M1454.1,0V1300M1464.6,0V1300M1475.1,0V1300M1485.6,0V1300M1496.2,0V1300M1506.7,0V1300M1517.2,0V1300M1527.7,0V1300M1538.2,0V1300M1548.7,0V1300M1559.2,0V1300M1569.7,0V1300M1580.2,0V1300M1590.8,0V1300M1601.3,0V1300M1611.8,0V1300M1622.3,0V1300M1632.8,0V1300M1643.3,0V1300M1653.8,0V1300M1664.3,0V1300M1674.8,0V1300M1685.3,0V1300M1695.8,0V1300M1706.4,0V1300M1716.9,0V1300M1727.4,0V1300M1737.9,0V1300M1748.4,0V1300M1758.9,0V1300M1769.4,0V1300M1779.9,0V1300M1790.4,0V1300M1800.9,0V1300M1811.5,0V1300M1822,0V1300M1832.5,0V1300M1843,0V1300M1853.5,0V1300M1864,0V1300M1874.5,0V1300M1885,0V1300M1895.5,0V1300M1906,0V1300M1916.6,0V1300M1927.1,0V1300M1937.6,0V1300M1948.1,0V1300M1958.6,0V1300M1969.1,0V1300M1979.6,0V1300M1990.1,0V1300M2000.6,0V1300M2011.1,0V1300M2021.7,0V1300M2032.2,0V1300M2042.7,0V1300M2053.2,0V1300M2063.7,0V1300M2074.2,0V1300M2084.7,0V1300M2095.2,0V1300M2105.7,0V1300M2116.2,0V1300M2126.8,0V1300M2137.3,0V1300M2147.8,0V1300M2158.3,0V1300M2168.8,0V1300M2179.3,0V1300M2189.8,0V1300M2200.3,0V1300M2210.8,0V1300M2221.4,0V1300M2231.9,0V1300M2242.4,0V1300M2252.9,0V1300M2263.4,0V1300M2273.9,0V1300M2284.4,0V1300M2294.9,0V1300M2305.4,0V1300M2315.9,0V1300M2326.5,0V1300M2337,0V1300M2347.5,0V1300M2358,0V1300M2368.5,0V1300M2379,0V1300M2389.5,0V1300M60,1294H2395M60,1284.2H2395M60,1274.4H2395M60,1264.5H2395M60,1254.7H2395M60,1244.8H2395M60,1235H2395M60,1225.2H2395M60,1215.3H2395M60,1205.5H2395M60,1195.6H2395M60,1185.8H2395M60,1176H2395M60,1166.1H2395M60,1156.3H2395M60,1146.4H2395M60,1136.6H2395M60,1126.8H2395M60,1116.9H2395M60,1107.1H2395M60,1097.2H2395M60,1087.4H2395M60,1077.6H2395M60,1067.7H2395M60,1057.9H2395M60,1048H2395M60,1038.2H2395M60,1028.4H2395M60,1018.5H2395M60,1008.7H2395M60,998.8H2395M60,989H2395M60,979.2H2395M60,969.3H2395M60,959.5H2395M60,949.6H2395M60,939.8H2395M60,930H2395M60,920.1H2395M60,910.3H2395M60,900.4H2395M60,890.6H2395M60,880.8H2395M60,870.9H2395M60,861.1H2395M60,851.2H2395M60,841.4H2395M60,831.6H2395M60,821.7H2395M60,811.9H2395M60,802H2395M60,792.2H2395M60,782.4H2395M60,772.5H2395M60,762.7H2395M60,752.8H2395M60,743H2395M60,733.2H2395M60,723.3H2395M60,713.5H2395M60,703.6H2395M60,693.8H2395M60,684H2395M60,674.1H2395M60,664.3H2395M60,654.4H2395M60,644.6H2395M60,634.8H2395M60,624.9H2395M60,615.1H2395M60,605.2H2395M60,595.4H2395M60,585.6H2395M60,575.7H2395M60,565.9H2395M60,556H2395M60,546.2H2395M60,536.4H2395M60,526.5H2395M60,516.7H2395M60,506.8H2395M60,497H2395M60,487.2H2395M60,477.3H2395M60,467.5H2395M60,457.6H2395M60,447.8H2395M60,438H2395M60,428.1H2395M60,418.3H2395M60,408.4H2395M60,398.6H2395M60,388.8H2395M60,378.9H2395M60,369.1H2395M60,359.2H2395M60,349.4H2395M60,339.6H2395M60,329.7H2395M60,319.9H2395M60,310H2395M60,300.2H2395M60,290.4H2395M60,280.5H2395M60,270.7H2395M60,260.8H2395M60,251H2395M60,241.2H2395M60,231.3H2395M60,221.5H2395M60,211.6H2395M60,201.8H2395M60,192H2395M60,182.1H2395M60,172.3H2395M60,162.4H2395M60,152.6H2395M60,142.8H2395M60,132.9H2395M60,123.1H2395M60,113.2H2395M60,103.4H2395M60,93.6H2395M60,83.7H2395M60,73.9H2395M60,64H2395M60,54.2H2395M60,44.4H2395M60,34.5H2395M60,24.7H2395M60,14.8H2395M60,5H2395" stroke="#fff" stroke-width="1.5" fill="none"/></g><filter id="gb14" x="-10%" y="-20%" width="120%" height="140%"><feGaussianBlur stdDeviation="11"/></filter><filter id="gb5" x="-5%" y="-5%" width="110%" height="110%"><feGaussianBlur stdDeviation="4"/></filter><mask id="gmask" maskUnits="userSpaceOnUse" x="0" y="0" width="2405" height="1406"><path d="M0,0 H2405 V1000 L1560,1000 L1496,686 L1488,689.8 L1480,693.7 L1472,697.5 L1464,701.4 L1456,705.2 L1448,709.1 L1440,712.9 L1432,716.8 L1424,720.6 L1416,724.5 L1408,728.3 L1400,732.2 L1392,736 L1384,739.8 L1376,743.6 L1368,747.4 L1360,751.2 L1352,754.9 L1344,758.7 L1336,762.5 L1328,766.3 L1320,770.1 L1312,773.8 L1304,777.6 L1296,781.4 L1288,785.2 L1280,788.9 L1272,792.6 L1264,796.3 L1256,800 L1248,803.7 L1240,807.4 L1232,811 L1224,814.7 L1216,818.4 L1208,822.1 L1200,825.8 L1192,829.5 L1184,833.2 L1176,836.9 L1168,840.6 L1160,844.3 L1152,848 L1144,851.8 L1136,855.5 L1128,859.2 L1120,862.9 L1112,866.6 L1104,870.4 L1096,874.1 L1088,877.8 L1080,881.5 L1072,885.1 L1064,888.6 L1056,892.1 L1048,895.5 L1040,899 L1032,902.5 L1024,906 L1016,909.5 L1008,913 L1000,916.5 L992,920 L984,923.5 L976,927 L968,930.5 L960,934 L952,937.5 L944,941.1 L936,944.6 L928,948.1 L920,951.7 L912,955.2 L904,958.7 L896,962.3 L888,965.8 L880,969.3 L872,972.9 L864,976.4 L856,979.9 L848,983.5 L840,987 L832,991.3 L824,995.7 L816,1000 L808,1004.3 L800,1008.7 L792,1013 L784,1017.3 L776,1021.7 L768,1026 L760,1030.3 L752,1034.7 L744,1039 L736,1043.3 L728,1047.7 L720,1052 L712,1056.4 L704,1060.9 L696,1065.3 L688,1069.7 L680,1074.2 L672,1078.6 L664,1083 L656,1087.5 L648,1091.9 L640,1095.9 L632,1099.7 L624,1103.5 L616,1107.3 L608,1111.1 L600,1114.9 L592,1118.7 L584,1122.5 L576,1126.7 L568,1131 L560,1135.2 L552,1139.5 L544,1143.7 L536,1148 L528,1151.1 L520,1154.2 L512,1157.3 L504,1160.3 L496,1162.8 L488,1165.3 L480,1167.9 L472,1170.4 L464,1171.4 L456,1171.9 L448,1172.5 L440,1173 L452,1173 L400,1180 L0,1400 Z" fill="#fff" filter="url(#gb5)"/></mask><g style="mix-blend-mode:multiply"><g mask="url(#gmask)"><g filter="url(#gb14)" fill="#eda09e"><path d="M440,1171 L448,1170.5 L456,1169.9 L464,1169.4 L472,1168.4 L480,1165.9 L488,1163.3 L496,1160.8 L504,1158.3 L512,1155.3 L520,1152.2 L528,1149.1 L536,1146 L544,1141.7 L552,1137.5 L560,1133.2 L568,1129 L576,1124.7 L584,1120.5 L592,1116.7 L600,1112.9 L608,1109.1 L616,1105.3 L624,1101.5 L632,1097.7 L640,1093.9 L648,1089.9 L656,1085.5 L664,1081 L672,1076.6 L680,1072.2 L688,1067.7 L696,1063.3 L704,1058.9 L712,1054.4 L720,1050 L728,1045.7 L736,1041.3 L744,1037 L752,1032.7 L760,1028.3 L768,1024 L776,1019.7 L784,1015.3 L792,1011 L800,1006.7 L808,1002.3 L816,998 L824,993.7 L832,989.3 L840,985 L848,981.5 L856,977.9 L864,974.4 L872,970.9 L880,967.3 L888,963.8 L896,960.3 L904,956.7 L912,953.2 L920,949.7 L928,946.1 L936,942.6 L944,939.1 L952,935.5 L960,932 L968,928.5 L976,925 L984,921.5 L992,918 L1000,914.5 L1008,911 L1016,907.5 L1024,904 L1032,900.5 L1040,897 L1048,893.5 L1056,890.1 L1064,886.6 L1072,883.1 L1080,879.5 L1088,875.8 L1096,872.1 L1104,868.4 L1112,864.6 L1120,860.9 L1128,857.2 L1136,853.5 L1144,849.8 L1152,846 L1160,842.3 L1168,838.6 L1176,834.9 L1184,831.2 L1192,827.5 L1200,823.8 L1208,820.1 L1216,816.4 L1224,812.7 L1232,809 L1240,805.4 L1248,801.7 L1256,798 L1264,794.3 L1272,790.6 L1280,786.9 L1288,783.2 L1296,779.4 L1304,775.6 L1312,771.8 L1320,768.1 L1328,764.3 L1336,760.5 L1344,756.7 L1352,752.9 L1360,749.2 L1368,745.4 L1376,741.6 L1384,737.8 L1392,734 L1400,730.2 L1408,726.3 L1416,722.5 L1424,718.6 L1432,714.8 L1440,710.9 L1448,707.1 L1456,703.2 L1464,699.4 L1472,695.5 L1480,691.7 L1488,687.8 L1496,684 L1504,677.5 L1512,670.2 L1520,662.9 L1528,655.6 L1536,648.2 L1544,640.9 L1552,633.6 L1560,626.4 L1568,619.1 L1576,611.8 L1584,604.5 L1592,597.3 L1600,590 L1608,582 L1616,574 L1624,566 L1632,558 L1640,550 L1648,542 L1656,534.6 L1664,527.4 L1672,520.2 L1680,513 L1688,505.8 L1696,498.6 L1704,492.3 L1712,487 L1720,481.7 L1728,476.3 L1730,475 L1730,420 L1728,419.7 L1720,418.3 L1712,417 L1704,415.7 L1696,417 L1688,421 L1680,425 L1672,429 L1664,433 L1656,437 L1648,441.2 L1640,446 L1632,450.8 L1624,455.6 L1616,460.4 L1608,465.2 L1600,470 L1592,474.9 L1584,479.7 L1576,484.6 L1568,489.5 L1560,494.4 L1552,499.2 L1544,504.1 L1536,509 L1528,514 L1520,518.9 L1512,523.8 L1504,528.7 L1496,533.9 L1488,537.5 L1480,541.2 L1472,544.8 L1464,548.5 L1456,552.1 L1448,555.8 L1440,559.4 L1432,563.1 L1424,566.7 L1416,570.4 L1408,574 L1400,577.7 L1392,581.3 L1384,584.9 L1376,588.5 L1368,592.1 L1360,595.7 L1352,599.2 L1344,602.8 L1336,606.4 L1328,610 L1320,613.6 L1312,617.1 L1304,620.7 L1296,624.5 L1288,628.5 L1280,632.4 L1272,636.3 L1264,640.2 L1256,644.1 L1248,648 L1240,651.9 L1232,655.7 L1224,659.6 L1216,663.5 L1208,667.4 L1200,671.3 L1192,675.2 L1184,679.1 L1176,683 L1168,686.9 L1160,690.8 L1152,694.7 L1144,698.7 L1136,702.6 L1128,706.5 L1120,710.4 L1112,714.3 L1104,718.3 L1096,722.2 L1088,726.1 L1080,730 L1072,733.8 L1064,737.5 L1056,741.2 L1048,744.8 L1040,748.5 L1032,752.2 L1024,755.9 L1016,759.6 L1008,763.3 L1000,767 L992,770.7 L984,774.4 L976,778.1 L968,781.8 L960,785.5 L952,789.2 L944,793 L936,796.7 L928,800.4 L920,804.2 L912,807.9 L904,811.6 L896,815.9 L888,820.8 L880,825.7 L872,830.5 L864,835.4 L856,840.3 L848,845.1 L840,850 L832,855.7 L824,861.3 L816,867 L808,872.7 L800,878.3 L792,884 L784,889.7 L776,895.3 L768,901 L760,906.7 L752,912.3 L744,918 L736,923.7 L728,929.3 L720,935 L712,941.7 L704,948.4 L696,955.2 L688,961.9 L680,968.6 L672,975.3 L664,982 L656,988.7 L648,995.3 L640,1000.7 L632,1006 L624,1011.4 L616,1016.7 L608,1022 L600,1027.3 L592,1032.6 L584,1037.9 L576,1043.6 L568,1049.2 L560,1054.4 L552,1059.5 L544,1064.7 L536,1069.9 L528,1073.9 L520,1077.9 L512,1081.9 L504,1085.9 L496,1089.2 L488,1092.5 L480,1095.9 L472,1099.2 L464,1101 L456,1102.3 L448,1103.7 L440,1105 Z"/><circle cx="452" cy="1136" r="35"/></g></g></g><path d="M78,1264.5H182 M78,1274.4H182" stroke="#000" stroke-width="2.2" stroke-dasharray="10,5" fill="none"/><path d="M87.8,1199V1284 M98.3,1199V1284" stroke="#000" stroke-width="2.2" stroke-dasharray="10,5" fill="none"/><path d="M78,1205.5H307 M78,1215.3H307" stroke="#000" stroke-width="2.2" stroke-dasharray="10,5" fill="none"/><path d="M150.9,1136V1284 M161.4,1136V1284" stroke="#000" stroke-width="2.2" stroke-dasharray="10,5" fill="none"/><path d="M205,1087.4H625 M205,1097.2H625" stroke="#000" stroke-width="2.2" stroke-dasharray="10,5" fill="none"/><path d="M277,1000V1230 M287.5,1000V1230" stroke="#000" stroke-width="2.2" stroke-dasharray="10,5" fill="none"/><path d="M268,1008.7H705 M268,1018.5H705" stroke="#000" stroke-width="2.2" stroke-dasharray="10,5" fill="none"/><path d="M361.1,960V1192 M371.6,960V1192" stroke="#000" stroke-width="2.2" stroke-dasharray="10,5" fill="none"/><path d="M551,792.2H1422 M551,802H1422" stroke="#000" stroke-width="2.2" stroke-dasharray="10,5" fill="none"/><path d="M592.3,745V1102 M602.8,745V1102" stroke="#000" stroke-width="2.2" stroke-dasharray="10,5" fill="none"/><path d="M897,477.3H1636 M897,487.2H1636" stroke="#000" stroke-width="2.2" stroke-dasharray="10,5" fill="none"/><path d="M928.6,450V970 M939.1,450V970" stroke="#000" stroke-width="2.2" stroke-dasharray="10,5" fill="none"/><path d="M1391.1,320V814 M1401.6,320V814" stroke="#000" stroke-width="2.2" stroke-dasharray="10,5" fill="none"/><path d="M1706,162.4H2232 M1706,172.3H2232" stroke="#000" stroke-width="2.2" stroke-dasharray="10,5" fill="none"/><path d="M2000.6,44V532 M2011.1,44V532" stroke="#000" stroke-width="2.2" stroke-dasharray="10,5" fill="none"/><path d="M82,1281 Q230,1255 361,1168" fill="none" stroke="#1e3152" stroke-width="8.5" stroke-dasharray="16,9"/><clipPath id="arrclip"><path d="M78.7,1291.8 L161.4,1223.2 L165.7,1234.6 L194,1181 L136.2,1199.3 L146.6,1205.6 L64.1,1274.2 Z M256.8,1093.2 L481.6,917.9 L484.2,930.6 L514.4,878.4 L456.4,894.8 L468,900.5 L243.2,1075.8 Z M453.1,1018.2 L457.6,1015.2 L462.9,1011.6 L468.7,1007.7 L475.2,1003.3 L482.2,998.5 L489.7,993.4 L497.7,988 L506.2,982.3 L515.1,976.3 L524.3,970.2 L533.9,963.9 L543.8,957.5 L554,951 L564.4,944.5 L574.9,937.9 L585.7,931.4 L596.9,924.8 L608.8,917.8 L621.4,910.6 L634.6,903.1 L648.2,895.4 L662.2,887.6 L676.4,879.6 L690.8,871.6 L705.3,863.6 L719.8,855.5 L734.1,847.5 L748.2,839.6 L762,831.8 L775.4,824.1 L788.3,816.7 L800.6,809.5 L812.3,802.5 L823.5,795.6 L834.2,788.9 L844.6,782.3 L854.6,775.8 L864.5,769.4 L874.1,763 L883.7,756.8 L893.2,750.5 L902.8,744.3 L912.5,738.1 L922.3,731.9 L932.5,725.7 L943,719.4 L953.9,713.1 L965.3,706.6 L977.3,700.1 L989.7,693.4 L1002.6,686.7 L1015.7,679.9 L1029.2,673.1 L1042.9,666.3 L1056.7,659.4 L1070.7,652.6 L1084.6,645.7 L1098.5,638.9 L1112.4,632.2 L1126.1,625.5 L1139.5,618.9 L1152.7,612.4 L1165.5,606.1 L1178,599.8 L1190.2,593.6 L1202.7,587.3 L1215.3,580.9 L1227.9,574.4 L1240.4,568 L1252.8,561.7 L1265.1,555.4 L1277,549.3 L1288.6,543.3 L1299.8,537.6 L1310.5,532.1 L1320.7,526.9 L1330.2,522 L1338.9,517.5 L1346.9,513.4 L1354,509.8 L1360.2,506.6 L1365.5,503.9 L1370.1,501.6 L1373.9,499.6 L1377.1,498 L1379.7,496.6 L1381.8,495.5 L1383.5,494.7 L1384.9,493.9 L1386,493.4 L1386.9,492.9 L1387.7,492.5 L1388.4,492.1 L1389.1,491.8 L1390,491.3 L1390.8,490.9 L1391.5,501.7 L1430.6,459.6 L1373.3,463.8 L1381.2,471.1 L1379.9,471.8 L1379,472.2 L1378.3,472.6 L1377.5,473 L1376.8,473.4 L1375.9,473.8 L1374.8,474.4 L1373.5,475.1 L1371.8,476 L1369.7,477.1 L1367,478.4 L1363.9,480 L1360.1,482 L1355.5,484.3 L1350.2,487 L1344,490.2 L1336.9,493.9 L1328.9,497.9 L1320.1,502.5 L1310.6,507.3 L1300.5,512.5 L1289.8,518 L1278.6,523.8 L1267,529.7 L1255,535.8 L1242.8,542.1 L1230.4,548.4 L1217.9,554.8 L1205.3,561.3 L1192.7,567.6 L1180.3,574 L1168,580.2 L1155.7,586.4 L1142.9,592.7 L1129.8,599.2 L1116.4,605.8 L1102.7,612.4 L1088.9,619.2 L1075,626 L1061,632.8 L1047,639.7 L1033.1,646.6 L1019.3,653.5 L1005.7,660.3 L992.4,667.2 L979.4,674 L966.8,680.7 L954.7,687.4 L943,694 L931.8,700.5 L921.1,706.9 L910.7,713.2 L900.7,719.6 L890.9,725.8 L881.2,732.1 L871.6,738.4 L862,744.6 L852.4,751 L842.7,757.3 L832.7,763.8 L822.5,770.3 L811.9,776.9 L800.9,783.6 L789.4,790.5 L777.3,797.7 L764.5,805 L751.2,812.6 L737.4,820.4 L723.4,828.3 L709.1,836.3 L694.6,844.3 L680.2,852.4 L665.7,860.4 L651.5,868.4 L637.4,876.2 L623.7,883.9 L610.5,891.5 L597.8,898.8 L585.7,905.8 L574.3,912.6 L563.4,919.2 L552.7,925.8 L542.2,932.4 L531.9,939 L521.9,945.5 L512.2,951.8 L502.9,958 L493.9,964 L485.4,969.7 L477.4,975.2 L469.8,980.3 L462.8,985.1 L456.4,989.5 L450.5,993.4 L445.4,996.9 L440.9,999.8 Z M1463.1,449 L1464.6,447.6 L1466.5,446 L1468.6,444.1 L1470.8,442.1 L1473.3,439.8 L1475.9,437.5 L1478.7,435 L1481.6,432.4 L1484.6,429.7 L1487.8,427 L1490.9,424.3 L1494.2,421.5 L1497.4,418.8 L1500.6,416.2 L1503.8,413.6 L1507,411.1 L1510.2,408.7 L1513.4,406.3 L1516.7,403.9 L1520,401.6 L1523.4,399.2 L1526.8,396.8 L1530.3,394.3 L1534,391.8 L1537.7,389.3 L1541.5,386.7 L1545.4,384.1 L1549.4,381.3 L1553.5,378.5 L1557.7,375.6 L1562.1,372.6 L1566.6,369.4 L1571.3,366.1 L1576.1,362.6 L1581.1,359 L1586.1,355.3 L1591.2,351.4 L1596.4,347.6 L1601.7,343.7 L1607.1,339.7 L1612.5,335.8 L1618,331.8 L1623.5,328 L1629,324.1 L1634.5,320.4 L1640,316.7 L1645.5,313.2 L1651,309.8 L1656.4,306.6 L1662,303.4 L1667.5,300.3 L1673.1,297.3 L1678.8,294.3 L1684.5,291.3 L1690.2,288.4 L1696.1,285.5 L1701.9,282.6 L1707.9,279.7 L1713.9,276.7 L1720,273.7 L1726.2,270.7 L1732.4,267.6 L1738.8,264.5 L1745.2,261.3 L1751.9,257.9 L1759,254.3 L1766.4,250.6 L1774.2,246.7 L1782.1,242.7 L1790.1,238.7 L1798.1,234.7 L1806.1,230.7 L1813.8,226.9 L1821.3,223.2 L1828.4,219.6 L1835,216.3 L1841.1,213.3 L1846.5,210.6 L1851.3,208.2 L1853.7,206.9 L1853.3,218.1 L1897,180 L1839.1,176.5 L1846.3,185.1 L1841,187.6 L1836.3,190 L1830.8,192.7 L1824.8,195.7 L1818.1,199 L1811,202.6 L1803.6,206.3 L1795.8,210.1 L1787.9,214.1 L1779.8,218.1 L1771.8,222.1 L1763.9,226.1 L1756.1,230 L1748.6,233.8 L1741.5,237.4 L1734.8,240.7 L1728.5,243.9 L1722.2,247 L1716,250.1 L1709.9,253.1 L1703.8,256.1 L1697.8,259 L1691.8,261.9 L1685.8,264.9 L1679.9,267.9 L1674,270.8 L1668.1,273.9 L1662.3,277 L1656.4,280.1 L1650.6,283.4 L1644.8,286.7 L1639,290.2 L1633.2,293.7 L1627.5,297.5 L1621.7,301.3 L1615.9,305.2 L1610.3,309.1 L1604.6,313.1 L1599,317.1 L1593.5,321.2 L1588.1,325.1 L1582.8,329.1 L1577.5,333 L1572.4,336.8 L1567.4,340.4 L1562.6,344 L1557.9,347.4 L1553.4,350.6 L1549,353.7 L1544.7,356.7 L1540.5,359.6 L1536.4,362.4 L1532.4,365.1 L1528.5,367.7 L1524.7,370.3 L1521,372.9 L1517.3,375.4 L1513.7,377.9 L1510.2,380.3 L1506.7,382.8 L1503.2,385.3 L1499.8,387.8 L1496.4,390.3 L1493,392.9 L1489.6,395.5 L1486.1,398.3 L1482.7,401.1 L1479.3,403.9 L1476,406.8 L1472.7,409.6 L1469.5,412.4 L1466.4,415.2 L1463.4,417.8 L1460.6,420.3 L1457.9,422.7 L1455.4,425 L1453.2,427 L1451.2,428.8 L1449.4,430.3 L1447.9,431.6 Z M605.7,1025.8 L607.5,1024.7 L609.6,1023.3 L612.1,1021.7 L614.8,1019.9 L617.7,1017.9 L620.9,1015.9 L624.2,1013.7 L627.6,1011.4 L631.2,1009.1 L634.8,1006.8 L638.4,1004.5 L642,1002.2 L645.5,1000 L648.9,997.9 L652.2,995.9 L655.3,994.1 L658.3,992.3 L661.2,990.6 L664,989 L666.8,987.5 L669.6,986 L672.3,984.5 L675,983 L677.8,981.5 L680.6,980.1 L683.5,978.6 L686.6,977 L689.7,975.5 L693,973.8 L696.5,972.1 L700.2,970.3 L704.1,968.5 L708.2,966.5 L712.6,964.3 L717.1,962.1 L721.8,959.9 L726.7,957.5 L731.6,955.2 L736.7,952.8 L741.8,950.4 L747,948 L752.2,945.6 L757.4,943.3 L762.5,941 L767.7,938.8 L772.8,936.7 L777.8,934.7 L782.7,932.8 L787.6,931 L792.7,929.3 L798,927.5 L803.4,925.8 L808.8,924.1 L814.3,922.4 L819.8,920.8 L825.2,919.3 L830.5,917.8 L835.6,916.4 L840.6,915 L845.4,913.7 L849.9,912.6 L854.2,911.5 L858.1,910.5 L861.5,909.6 L864.6,908.9 L867.2,908.3 L869.6,907.8 L871.7,907.4 L873.6,907.1 L875.2,906.9 L876.6,906.8 L877.9,906.7 L879,906.7 L880.1,906.6 L881,906.6 L882,906.6 L883.1,906.6 L884.3,906.6 L885.5,906.6 L887.8,906.3 L887.1,917.2 L930.4,886.4 L878.3,876.1 L883.4,885.7 L884,885.6 L883.6,885.6 L882.9,885.6 L882.1,885.6 L881,885.6 L879.8,885.6 L878.3,885.7 L876.7,885.7 L874.9,885.9 L872.9,886.1 L870.7,886.3 L868.3,886.7 L865.7,887.1 L862.9,887.7 L859.8,888.4 L856.5,889.2 L852.9,890.1 L848.9,891.1 L844.7,892.2 L840.1,893.4 L835.2,894.7 L830.1,896.1 L824.9,897.5 L819.4,899.1 L813.9,900.6 L808.3,902.3 L802.7,904 L797,905.7 L791.5,907.5 L786,909.4 L780.6,911.3 L775.3,913.2 L770.1,915.1 L764.9,917.2 L759.6,919.4 L754.2,921.7 L748.9,924.1 L743.5,926.5 L738.2,928.9 L732.9,931.3 L727.7,933.8 L722.6,936.2 L717.6,938.6 L712.7,941 L708,943.2 L703.4,945.4 L699.1,947.5 L694.9,949.5 L691,951.4 L687.3,953.3 L683.7,955 L680.3,956.7 L677.1,958.3 L674,959.9 L671,961.4 L668,963 L665.1,964.5 L662.3,966 L659.4,967.6 L656.6,969.1 L653.7,970.8 L650.8,972.4 L647.8,974.1 L644.7,975.9 L641.4,977.9 L638,980 L634.4,982.2 L630.8,984.4 L627.1,986.8 L623.4,989.1 L619.8,991.5 L616.2,993.8 L612.7,996.1 L609.3,998.3 L606.2,1000.4 L603.2,1002.3 L600.5,1004.1 L598.1,1005.7 L596,1007.1 L594.3,1008.2 Z M946.3,884.9 L946,844.9 L955,846.8 L934.4,794.8 L915,847.2 L924,845.1 L924.3,885.1 Z M942,812.7 L943.7,812 L945.7,811.1 L947.9,810.2 L950.3,809.1 L952.9,807.9 L955.6,806.7 L958.5,805.4 L961.5,804.1 L964.7,802.8 L967.9,801.5 L971.1,800.2 L974.4,799 L977.8,797.8 L981.1,796.7 L984.3,795.7 L987.6,794.8 L990.8,794 L994.2,793.2 L997.8,792.5 L1001.6,791.9 L1005.4,791.3 L1009.4,790.7 L1013.4,790.1 L1017.6,789.5 L1021.8,789 L1026,788.4 L1030.3,787.8 L1034.6,787.2 L1039,786.5 L1043.3,785.7 L1047.6,784.9 L1051.9,784.1 L1056,783.2 L1060,782.3 L1064.1,781.4 L1068.2,780.5 L1072.3,779.6 L1076.4,778.7 L1080.5,777.7 L1084.7,776.7 L1088.9,775.6 L1093,774.5 L1097.2,773.3 L1101.4,772.1 L1105.6,770.8 L1109.9,769.4 L1114.1,767.9 L1118.4,766.3 L1122.8,764.5 L1127.1,762.6 L1131.4,760.5 L1135.7,758.4 L1139.9,756.1 L1144,753.9 L1148.1,751.6 L1152.2,749.3 L1156.2,747 L1160.2,744.8 L1164.2,742.6 L1168.1,740.6 L1171.9,738.7 L1175.7,736.9 L1179.4,735.3 L1183.2,733.8 L1186.9,732.5 L1190.8,731.2 L1194.7,730.1 L1198.7,729 L1202.6,727.9 L1206.6,727 L1210.6,726.1 L1214.6,725.2 L1218.6,724.4 L1222.7,723.6 L1226.7,722.8 L1230.6,722.1 L1234.6,721.4 L1238.5,720.7 L1242.4,719.9 L1246.2,719.2 L1249.9,718.5 L1253.6,717.9 L1257.3,717.2 L1261,716.6 L1264.6,716.1 L1268.2,715.5 L1271.8,715 L1275.3,714.5 L1278.8,714.1 L1282.2,713.6 L1285.5,713.2 L1288.8,712.8 L1292,712.4 L1295.1,712.1 L1298.2,711.8 L1301.1,711.4 L1303.9,711.2 L1306.7,710.9 L1309.4,710.7 L1312.2,710.5 L1314.9,710.4 L1317.5,710.2 L1320.1,710.1 L1322.5,710 L1324.9,709.9 L1327.2,709.8 L1329.3,709.8 L1331.3,709.7 L1333.2,709.7 L1334.9,709.6 L1336.5,709.6 L1337,709.5 L1333.8,718.9 L1387,700.3 L1334.8,678.9 L1337.6,688.5 L1335.6,688.6 L1334.2,688.6 L1332.6,688.7 L1330.7,688.7 L1328.7,688.8 L1326.5,688.8 L1324.2,688.9 L1321.7,689 L1319.1,689.1 L1316.5,689.2 L1313.7,689.4 L1310.8,689.6 L1307.9,689.8 L1304.9,690 L1301.9,690.3 L1298.9,690.6 L1295.9,690.9 L1292.8,691.2 L1289.6,691.6 L1286.3,692 L1283,692.4 L1279.5,692.8 L1276,693.2 L1272.5,693.7 L1268.8,694.2 L1265.1,694.8 L1261.4,695.3 L1257.6,695.9 L1253.8,696.5 L1250,697.2 L1246.2,697.9 L1242.4,698.6 L1238.6,699.3 L1234.7,700 L1230.8,700.7 L1226.8,701.4 L1222.8,702.2 L1218.7,703 L1214.5,703.8 L1210.3,704.6 L1206.1,705.6 L1201.8,706.5 L1197.5,707.6 L1193.2,708.7 L1188.9,709.9 L1184.5,711.2 L1180.2,712.6 L1175.8,714.2 L1171.5,715.9 L1167.1,717.8 L1162.8,719.8 L1158.5,721.9 L1154.3,724.1 L1150.1,726.4 L1146,728.7 L1141.9,731 L1137.9,733.2 L1133.9,735.5 L1129.9,737.6 L1126,739.7 L1122.1,741.7 L1118.3,743.5 L1114.5,745.2 L1110.8,746.7 L1107,748.1 L1103.1,749.5 L1099.2,750.8 L1095.3,752 L1091.4,753.2 L1087.5,754.3 L1083.5,755.3 L1079.6,756.3 L1075.6,757.3 L1071.7,758.2 L1067.7,759.1 L1063.7,760 L1059.6,760.9 L1055.6,761.8 L1051.5,762.7 L1047.5,763.5 L1043.6,764.3 L1039.6,765.1 L1035.6,765.8 L1031.5,766.4 L1027.4,767 L1023.2,767.6 L1019,768.2 L1014.8,768.7 L1010.6,769.3 L1006.4,769.9 L1002.2,770.5 L998.1,771.2 L994,771.9 L990,772.6 L986.1,773.5 L982.2,774.4 L978.4,775.5 L974.7,776.7 L970.9,777.9 L967.2,779.2 L963.6,780.6 L960,782 L956.6,783.4 L953.3,784.8 L950.1,786.2 L947.1,787.5 L944.3,788.8 L941.7,789.9 L939.4,791 L937.3,791.9 L935.5,792.7 L934,793.3 Z M1407.3,697.9 L1407,666.9 L1416,668.9 L1395.7,619.2 L1376,669.1 L1385,667.1 L1385.3,698.1 Z M1405.9,637.8 L1407.8,637.6 L1409.9,637.5 L1412.4,637.3 L1415.2,637.2 L1418.3,637 L1421.6,636.8 L1425.1,636.6 L1428.8,636.4 L1432.7,636.1 L1436.7,635.8 L1440.7,635.5 L1444.9,635.1 L1449,634.6 L1453.2,634.1 L1457.4,633.6 L1461.5,633 L1465.6,632.3 L1469.8,631.6 L1474.2,630.8 L1478.7,630 L1483.3,629.2 L1488,628.3 L1492.7,627.4 L1497.5,626.4 L1502.2,625.4 L1506.9,624.4 L1511.6,623.3 L1516.2,622.2 L1520.6,621.1 L1524.9,619.9 L1529.1,618.7 L1533,617.5 L1536.7,616.3 L1540.3,615.1 L1543.7,613.8 L1547,612.6 L1550.2,611.3 L1553.3,610 L1556.3,608.6 L1559.2,607.2 L1562.1,605.8 L1565,604.3 L1567.8,602.8 L1570.7,601.2 L1573.5,599.5 L1576.4,597.8 L1579.3,596 L1582.3,594.1 L1585.4,592 L1588.6,589.8 L1591.7,587.4 L1594.8,585 L1597.9,582.5 L1600.9,580 L1603.8,577.5 L1606.8,574.9 L1609.7,572.4 L1612.5,569.9 L1615.4,567.4 L1618.2,565.1 L1621,562.8 L1623.7,560.6 L1626.4,558.5 L1629.2,556.6 L1631.9,554.7 L1634.6,552.8 L1637.3,551 L1639.9,549.3 L1642.5,547.6 L1645.1,546 L1647.7,544.4 L1650.3,542.8 L1653,541.2 L1655.7,539.6 L1658.5,538 L1661.4,536.4 L1664.5,534.8 L1667.6,533.1 L1671,531.3 L1674.5,529.5 L1678.1,527.6 L1681.9,525.7 L1685.9,523.7 L1690,521.7 L1694.2,519.7 L1698.5,517.7 L1703,515.6 L1707.4,513.5 L1712,511.5 L1716.6,509.4 L1721.1,507.3 L1725.7,505.2 L1730.3,503.2 L1734.8,501.1 L1739.3,499.1 L1743.7,497.1 L1748,495.2 L1752.3,493.3 L1756.5,491.4 L1760.8,489.6 L1765,487.8 L1769.2,486 L1773.5,484.1 L1777.7,482.3 L1782,480.5 L1786.4,478.6 L1790.7,476.8 L1795.2,474.9 L1799.6,472.9 L1804.2,471 L1808.8,468.9 L1813.5,466.9 L1818.5,464.7 L1823.8,462.3 L1829.3,459.8 L1835.1,457.3 L1840.9,454.6 L1846.9,452 L1852.8,449.3 L1858.7,446.6 L1864.4,444 L1870,441.5 L1875.2,439.2 L1880.1,436.9 L1884.6,434.9 L1888.7,433.1 L1892.1,431.5 L1894.8,430.3 L1895.5,439.8 L1936,401 L1880,402.9 L1886.2,410.1 L1883.1,411.5 L1879.6,413 L1875.6,414.9 L1871.1,416.9 L1866.2,419.1 L1860.9,421.5 L1855.4,424 L1849.6,426.6 L1843.8,429.2 L1837.8,431.9 L1831.9,434.6 L1826,437.2 L1820.3,439.8 L1814.8,442.2 L1809.6,444.6 L1804.7,446.7 L1800,448.8 L1795.4,450.8 L1790.9,452.7 L1786.5,454.7 L1782.1,456.5 L1777.7,458.4 L1773.4,460.3 L1769.1,462.1 L1764.8,463.9 L1760.6,465.7 L1756.3,467.6 L1752,469.4 L1747.7,471.3 L1743.4,473.2 L1739.1,475.1 L1734.7,477.1 L1730.3,479.1 L1725.8,481.1 L1721.3,483.1 L1716.7,485.2 L1712.1,487.3 L1707.4,489.3 L1702.8,491.5 L1698.2,493.6 L1693.7,495.7 L1689.2,497.8 L1684.8,499.8 L1680.4,501.9 L1676.2,504 L1672.1,506 L1668.1,508 L1664.3,509.9 L1660.7,511.8 L1657.3,513.6 L1654,515.4 L1650.8,517.2 L1647.7,518.9 L1644.8,520.5 L1641.8,522.2 L1639,523.9 L1636.2,525.6 L1633.4,527.3 L1630.7,529.1 L1627.9,530.9 L1625.1,532.7 L1622.3,534.6 L1619.4,536.6 L1616.4,538.6 L1613.3,540.9 L1610.2,543.2 L1607.2,545.7 L1604.1,548.2 L1601.1,550.7 L1598.2,553.2 L1595.2,555.8 L1592.3,558.3 L1589.5,560.8 L1586.6,563.2 L1583.8,565.6 L1581,567.8 L1578.3,570 L1575.6,572 L1573,573.9 L1570.3,575.7 L1567.6,577.4 L1564.9,579 L1562.3,580.6 L1559.7,582.1 L1557.2,583.5 L1554.7,584.9 L1552.2,586.2 L1549.7,587.4 L1547.1,588.6 L1544.5,589.8 L1541.8,591 L1539,592.1 L1536.1,593.2 L1533,594.3 L1529.8,595.4 L1526.4,596.5 L1522.8,597.6 L1519,598.7 L1515,599.8 L1510.9,600.8 L1506.5,601.9 L1502.1,602.9 L1497.6,603.9 L1493,604.9 L1488.4,605.8 L1483.8,606.7 L1479.3,607.6 L1474.8,608.4 L1470.4,609.2 L1466.1,609.9 L1462,610.6 L1458.1,611.2 L1454.3,611.8 L1450.5,612.3 L1446.6,612.8 L1442.7,613.2 L1438.8,613.5 L1434.9,613.9 L1431.1,614.2 L1427.3,614.4 L1423.7,614.7 L1420.3,614.9 L1417,615 L1414,615.2 L1411.1,615.4 L1408.5,615.5 L1406.2,615.7 L1404.3,615.8 Z M1283.1,782.4 L1284.1,784.4 L1285.3,786.8 L1286.7,789.6 L1288.2,792.8 L1289.9,796.4 L1291.8,800.2 L1293.7,804.2 L1295.8,808.3 L1297.9,812.6 L1300.2,816.9 L1302.5,821.3 L1304.8,825.6 L1307.2,829.9 L1309.7,834 L1312.1,838 L1314.6,841.7 L1317,845.2 L1319.4,848.5 L1321.9,851.8 L1324.3,855.1 L1326.8,858.3 L1329.4,861.4 L1332,864.5 L1334.7,867.6 L1337.4,870.7 L1340.2,873.8 L1343.1,876.9 L1346,879.9 L1349.1,883 L1352.2,886.2 L1355.4,889.3 L1358.8,892.5 L1362.3,895.8 L1365.9,899.1 L1369.7,902.5 L1373.6,906 L1377.6,909.4 L1381.7,912.9 L1385.8,916.4 L1390,919.8 L1394.3,923.2 L1398.6,926.6 L1402.8,930 L1407.1,933.3 L1411.4,936.5 L1415.6,939.7 L1419.8,942.7 L1423.9,945.7 L1428,948.5 L1432.1,951.3 L1436.2,954.1 L1440.3,956.8 L1444.4,959.4 L1448.4,962 L1452.5,964.5 L1456.6,967 L1460.7,969.4 L1464.8,971.8 L1468.9,974.1 L1473,976.3 L1477,978.6 L1481.1,980.7 L1485.2,982.8 L1489.3,984.9 L1493.4,986.9 L1497.6,988.9 L1501.7,990.8 L1505.8,992.6 L1509.9,994.3 L1514,996.1 L1518.1,997.7 L1522.2,999.3 L1526.3,1000.9 L1530.4,1002.4 L1534.4,1003.9 L1538.5,1005.3 L1542.5,1006.8 L1546.6,1008.2 L1550.6,1009.6 L1554.6,1010.9 L1558.7,1012.3 L1562.8,1013.6 L1566.8,1014.9 L1570.9,1016.2 L1575,1017.4 L1579.1,1018.6 L1583.1,1019.8 L1587.2,1021 L1591.2,1022.1 L1595.3,1023.2 L1599.4,1024.2 L1603.4,1025.3 L1607.5,1026.3 L1611.5,1027.3 L1615.6,1028.3 L1619.6,1029.2 L1623.8,1030.2 L1628.3,1031.1 L1632.8,1032.1 L1637.5,1033 L1642.2,1033.9 L1646.9,1034.8 L1651.6,1035.6 L1656.2,1036.5 L1660.6,1037.2 L1664.9,1038 L1668.9,1038.7 L1672.7,1039.3 L1676.2,1039.9 L1679.3,1040.5 L1681.9,1040.9 L1685.1,1041.5 L1682.1,1051.7 L1734.1,1035.3 L1685.9,1009.9 L1686.9,1020.5 L1685.6,1020.3 L1682.9,1019.8 L1679.7,1019.2 L1676.3,1018.6 L1672.5,1018 L1668.5,1017.3 L1664.2,1016.6 L1659.8,1015.8 L1655.3,1015 L1650.7,1014.1 L1646.1,1013.3 L1641.5,1012.4 L1637,1011.5 L1632.6,1010.6 L1628.4,1009.7 L1624.4,1008.8 L1620.4,1007.8 L1616.5,1006.9 L1612.5,1005.9 L1608.6,1004.9 L1604.6,1003.9 L1600.7,1002.9 L1596.8,1001.8 L1592.8,1000.7 L1588.9,999.6 L1584.9,998.5 L1581,997.3 L1577.1,996.1 L1573.2,994.9 L1569.2,993.7 L1565.3,992.4 L1561.4,991.1 L1557.4,989.7 L1553.4,988.3 L1549.5,987 L1545.5,985.6 L1541.6,984.1 L1537.6,982.7 L1533.7,981.2 L1529.8,979.7 L1525.9,978.2 L1522,976.6 L1518.1,975 L1514.2,973.3 L1510.3,971.6 L1506.4,969.8 L1502.6,968 L1498.7,966.1 L1494.8,964.1 L1490.9,962.1 L1487,960 L1483,957.9 L1479.1,955.8 L1475.2,953.5 L1471.3,951.3 L1467.4,949 L1463.5,946.6 L1459.6,944.2 L1455.6,941.7 L1451.7,939.2 L1447.8,936.6 L1443.9,934 L1440,931.3 L1436.1,928.5 L1432.1,925.7 L1428.1,922.8 L1424,919.7 L1419.9,916.6 L1415.7,913.4 L1411.6,910.2 L1407.4,906.9 L1403.3,903.5 L1399.2,900.2 L1395.2,896.8 L1391.3,893.5 L1387.4,890.1 L1383.7,886.8 L1380,883.6 L1376.6,880.4 L1373.2,877.3 L1370,874.2 L1366.9,871.2 L1364,868.2 L1361.1,865.3 L1358.3,862.4 L1355.6,859.5 L1353,856.7 L1350.5,853.8 L1348,851 L1345.6,848.1 L1343.3,845.2 L1341,842.2 L1338.7,839.2 L1336.4,836.2 L1334.2,833.1 L1332,829.9 L1329.8,826.6 L1327.6,823.1 L1325.4,819.4 L1323.2,815.4 L1321,811.4 L1318.8,807.2 L1316.7,803.1 L1314.6,798.9 L1312.6,794.9 L1310.6,791 L1308.8,787.2 L1307.1,783.7 L1305.6,780.5 L1304.1,777.5 L1302.8,774.9 L1301.7,772.8 Z M1748.9,1118.3 L1747,1118.2 L1744.6,1118 L1742,1117.8 L1739.1,1117.7 L1736,1117.5 L1732.6,1117.2 L1729.1,1117 L1725.4,1116.7 L1721.7,1116.5 L1717.9,1116.2 L1714.1,1115.8 L1710.3,1115.4 L1706.5,1115 L1702.9,1114.6 L1699.4,1114.1 L1696.1,1113.6 L1692.9,1113.1 L1689.7,1112.5 L1686.6,1112 L1683.5,1111.4 L1680.5,1110.8 L1677.4,1110.1 L1674.4,1109.4 L1671.3,1108.7 L1668.1,1108 L1664.9,1107.1 L1661.5,1106.3 L1658.1,1105.3 L1654.5,1104.4 L1650.7,1103.3 L1646.8,1102.2 L1642.7,1101 L1638.4,1099.7 L1633.9,1098.2 L1629.2,1096.7 L1624.3,1095 L1619.2,1093.2 L1614,1091.4 L1608.7,1089.5 L1603.3,1087.6 L1597.9,1085.6 L1592.4,1083.7 L1586.9,1081.8 L1581.4,1079.9 L1576,1078.2 L1570.6,1076.5 L1565.3,1074.9 L1560.1,1073.4 L1554.9,1072 L1549.5,1070.7 L1544,1069.4 L1538.4,1068.1 L1532.8,1066.9 L1527.3,1065.8 L1521.8,1064.7 L1516.4,1063.6 L1511.2,1062.6 L1506.2,1061.7 L1501.5,1060.8 L1497.1,1060 L1493.1,1059.3 L1489.5,1058.6 L1486.4,1058 L1482.5,1057.3 L1486.2,1048.6 L1437.8,1064.9 L1483.1,1088.5 L1480.9,1079.3 L1482.2,1079.6 L1485.4,1080.2 L1489.1,1080.9 L1493.1,1081.7 L1497.5,1082.5 L1502.2,1083.3 L1507.1,1084.3 L1512.2,1085.2 L1517.5,1086.3 L1522.9,1087.3 L1528.3,1088.5 L1533.7,1089.6 L1539.1,1090.8 L1544.3,1092.1 L1549.4,1093.3 L1554.3,1094.6 L1559.1,1096 L1564.1,1097.5 L1569.2,1099.1 L1574.5,1100.8 L1579.8,1102.6 L1585.2,1104.5 L1590.6,1106.4 L1596,1108.3 L1601.3,1110.2 L1606.7,1112.1 L1611.9,1114 L1617.1,1115.8 L1622.1,1117.5 L1627.1,1119.1 L1631.8,1120.7 L1636.3,1122 L1640.6,1123.3 L1644.7,1124.5 L1648.6,1125.5 L1652.3,1126.6 L1655.9,1127.5 L1659.4,1128.5 L1662.9,1129.3 L1666.2,1130.1 L1669.5,1130.9 L1672.8,1131.6 L1676,1132.3 L1679.3,1133 L1682.5,1133.6 L1685.8,1134.2 L1689.2,1134.8 L1692.7,1135.4 L1696.3,1135.9 L1700.1,1136.4 L1704.1,1136.9 L1708,1137.3 L1712,1137.7 L1716,1138.1 L1720,1138.4 L1723.8,1138.7 L1727.6,1138.9 L1731.2,1139.2 L1734.5,1139.4 L1737.7,1139.6 L1740.6,1139.8 L1743.1,1140 L1745.3,1140.1 L1747.1,1140.3 Z M1055.4,1052 L1053.4,1052.1 L1051.1,1052.2 L1048.3,1052.2 L1045.2,1052.3 L1041.8,1052.4 L1038.2,1052.5 L1034.3,1052.6 L1030.4,1052.7 L1026.3,1052.8 L1022.1,1053 L1018,1053.2 L1013.9,1053.4 L1009.8,1053.6 L1005.9,1053.9 L1002.2,1054.2 L998.7,1054.6 L995.4,1055 L992.2,1055.4 L989,1055.9 L985.8,1056.3 L982.7,1056.9 L979.6,1057.4 L976.6,1058 L973.6,1058.6 L970.6,1059.2 L967.8,1059.8 L964.9,1060.5 L962.2,1061.2 L959.5,1061.8 L956.8,1062.5 L954.3,1063.2 L951.7,1064 L949.1,1064.8 L946.5,1065.7 L943.9,1066.6 L941.4,1067.6 L939,1068.6 L936.7,1069.6 L934.4,1070.7 L932.3,1071.7 L930.2,1072.6 L928.3,1073.6 L926.5,1074.5 L924.9,1075.3 L923.5,1076 L922.2,1076.6 L921.2,1077.1 L921,1077.2 L920.9,1068.2 L878.8,1105 L934.7,1105.7 L929,1098.8 L930.9,1098 L932.2,1097.3 L933.7,1096.6 L935.2,1095.9 L936.8,1095.1 L938.5,1094.2 L940.3,1093.3 L942.1,1092.5 L944,1091.6 L946,1090.7 L948,1089.8 L950.1,1088.9 L952.1,1088.1 L954.2,1087.4 L956.2,1086.7 L958.3,1086 L960.5,1085.4 L962.8,1084.7 L965.2,1084.1 L967.7,1083.5 L970.2,1082.9 L972.8,1082.3 L975.5,1081.7 L978.2,1081.1 L980.9,1080.6 L983.7,1080 L986.6,1079.5 L989.5,1079.1 L992.4,1078.6 L995.3,1078.2 L998.3,1077.8 L1001.3,1077.4 L1004.4,1077.1 L1007.7,1076.8 L1011.3,1076.6 L1015.1,1076.3 L1019.1,1076.1 L1023.1,1076 L1027.1,1075.8 L1031.1,1075.7 L1035,1075.6 L1038.8,1075.5 L1042.4,1075.4 L1045.8,1075.3 L1048.9,1075.2 L1051.7,1075.1 L1054.2,1075.1 L1056.2,1075 Z M707.1,1163.5 L705.2,1164.3 L703.1,1165.4 L700.9,1166.5 L698.5,1167.8 L696,1169.1 L693.3,1170.5 L690.4,1172 L687.4,1173.5 L684.1,1175 L680.7,1176.6 L677.2,1178.2 L673.4,1179.8 L669.5,1181.4 L665.5,1183 L661.2,1184.5 L656.8,1186 L652,1187.5 L646.9,1189.1 L641.5,1190.7 L635.9,1192.4 L630.1,1194.1 L624.1,1195.8 L617.9,1197.5 L611.6,1199.2 L605.2,1200.9 L598.6,1202.5 L591.9,1204.1 L585.2,1205.7 L578.5,1207.2 L571.7,1208.6 L564.9,1209.9 L558.2,1211.2 L551.3,1212.3 L544.4,1213.4 L537.3,1214.5 L530,1215.5 L522.7,1216.5 L515.3,1217.4 L507.8,1218.3 L500.3,1219.1 L492.7,1219.9 L485,1220.7 L477.4,1221.4 L469.7,1222.1 L462,1222.7 L454.4,1223.4 L446.8,1224 L439.2,1224.5 L431.5,1225.1 L423.4,1225.5 L415,1226 L406.3,1226.4 L397.5,1226.7 L388.7,1227 L379.9,1227.3 L371.2,1227.5 L362.8,1227.8 L354.6,1228 L346.9,1228.2 L339.7,1228.3 L333.1,1228.5 L327.2,1228.6 L322,1228.8 L318.6,1228.9 L321.1,1220 L273,1236.8 L318.9,1259 L317.4,1249.9 L322.6,1249.8 L327.7,1249.6 L333.6,1249.5 L340.2,1249.3 L347.4,1249.2 L355.2,1249 L363.3,1248.8 L371.8,1248.5 L380.5,1248.3 L389.4,1248 L398.3,1247.7 L407.2,1247.3 L416,1246.9 L424.6,1246.5 L432.9,1246 L440.8,1245.5 L448.4,1244.9 L456.1,1244.3 L463.8,1243.7 L471.5,1243 L479.3,1242.3 L487,1241.6 L494.8,1240.8 L502.5,1240 L510.2,1239.2 L517.8,1238.3 L525.4,1237.3 L532.9,1236.3 L540.3,1235.3 L547.6,1234.2 L554.8,1233 L561.8,1231.8 L568.9,1230.5 L575.9,1229.2 L582.9,1227.7 L589.9,1226.2 L596.8,1224.6 L603.6,1222.9 L610.3,1221.2 L617,1219.5 L623.4,1217.8 L629.8,1216 L635.9,1214.3 L641.8,1212.6 L647.6,1210.9 L653,1209.2 L658.3,1207.6 L663.2,1206 L668.1,1204.4 L672.8,1202.7 L677.3,1201 L681.5,1199.2 L685.6,1197.5 L689.5,1195.7 L693.2,1194 L696.6,1192.3 L699.9,1190.7 L702.9,1189.2 L705.7,1187.7 L708.2,1186.4 L710.6,1185.2 L712.6,1184.1 L714.3,1183.3 L715.9,1182.5 Z"/></clipPath><g clip-path="url(#arrclip)"><use href="#chart"/></g><path d="M78.7,1291.8 L161.4,1223.2 L165.7,1234.6 L194,1181 L136.2,1199.3 L146.6,1205.6 L64.1,1274.2 Z M256.8,1093.2 L481.6,917.9 L484.2,930.6 L514.4,878.4 L456.4,894.8 L468,900.5 L243.2,1075.8 Z M453.1,1018.2 L457.6,1015.2 L462.9,1011.6 L468.7,1007.7 L475.2,1003.3 L482.2,998.5 L489.7,993.4 L497.7,988 L506.2,982.3 L515.1,976.3 L524.3,970.2 L533.9,963.9 L543.8,957.5 L554,951 L564.4,944.5 L574.9,937.9 L585.7,931.4 L596.9,924.8 L608.8,917.8 L621.4,910.6 L634.6,903.1 L648.2,895.4 L662.2,887.6 L676.4,879.6 L690.8,871.6 L705.3,863.6 L719.8,855.5 L734.1,847.5 L748.2,839.6 L762,831.8 L775.4,824.1 L788.3,816.7 L800.6,809.5 L812.3,802.5 L823.5,795.6 L834.2,788.9 L844.6,782.3 L854.6,775.8 L864.5,769.4 L874.1,763 L883.7,756.8 L893.2,750.5 L902.8,744.3 L912.5,738.1 L922.3,731.9 L932.5,725.7 L943,719.4 L953.9,713.1 L965.3,706.6 L977.3,700.1 L989.7,693.4 L1002.6,686.7 L1015.7,679.9 L1029.2,673.1 L1042.9,666.3 L1056.7,659.4 L1070.7,652.6 L1084.6,645.7 L1098.5,638.9 L1112.4,632.2 L1126.1,625.5 L1139.5,618.9 L1152.7,612.4 L1165.5,606.1 L1178,599.8 L1190.2,593.6 L1202.7,587.3 L1215.3,580.9 L1227.9,574.4 L1240.4,568 L1252.8,561.7 L1265.1,555.4 L1277,549.3 L1288.6,543.3 L1299.8,537.6 L1310.5,532.1 L1320.7,526.9 L1330.2,522 L1338.9,517.5 L1346.9,513.4 L1354,509.8 L1360.2,506.6 L1365.5,503.9 L1370.1,501.6 L1373.9,499.6 L1377.1,498 L1379.7,496.6 L1381.8,495.5 L1383.5,494.7 L1384.9,493.9 L1386,493.4 L1386.9,492.9 L1387.7,492.5 L1388.4,492.1 L1389.1,491.8 L1390,491.3 L1390.8,490.9 L1391.5,501.7 L1430.6,459.6 L1373.3,463.8 L1381.2,471.1 L1379.9,471.8 L1379,472.2 L1378.3,472.6 L1377.5,473 L1376.8,473.4 L1375.9,473.8 L1374.8,474.4 L1373.5,475.1 L1371.8,476 L1369.7,477.1 L1367,478.4 L1363.9,480 L1360.1,482 L1355.5,484.3 L1350.2,487 L1344,490.2 L1336.9,493.9 L1328.9,497.9 L1320.1,502.5 L1310.6,507.3 L1300.5,512.5 L1289.8,518 L1278.6,523.8 L1267,529.7 L1255,535.8 L1242.8,542.1 L1230.4,548.4 L1217.9,554.8 L1205.3,561.3 L1192.7,567.6 L1180.3,574 L1168,580.2 L1155.7,586.4 L1142.9,592.7 L1129.8,599.2 L1116.4,605.8 L1102.7,612.4 L1088.9,619.2 L1075,626 L1061,632.8 L1047,639.7 L1033.1,646.6 L1019.3,653.5 L1005.7,660.3 L992.4,667.2 L979.4,674 L966.8,680.7 L954.7,687.4 L943,694 L931.8,700.5 L921.1,706.9 L910.7,713.2 L900.7,719.6 L890.9,725.8 L881.2,732.1 L871.6,738.4 L862,744.6 L852.4,751 L842.7,757.3 L832.7,763.8 L822.5,770.3 L811.9,776.9 L800.9,783.6 L789.4,790.5 L777.3,797.7 L764.5,805 L751.2,812.6 L737.4,820.4 L723.4,828.3 L709.1,836.3 L694.6,844.3 L680.2,852.4 L665.7,860.4 L651.5,868.4 L637.4,876.2 L623.7,883.9 L610.5,891.5 L597.8,898.8 L585.7,905.8 L574.3,912.6 L563.4,919.2 L552.7,925.8 L542.2,932.4 L531.9,939 L521.9,945.5 L512.2,951.8 L502.9,958 L493.9,964 L485.4,969.7 L477.4,975.2 L469.8,980.3 L462.8,985.1 L456.4,989.5 L450.5,993.4 L445.4,996.9 L440.9,999.8 Z M1463.1,449 L1464.6,447.6 L1466.5,446 L1468.6,444.1 L1470.8,442.1 L1473.3,439.8 L1475.9,437.5 L1478.7,435 L1481.6,432.4 L1484.6,429.7 L1487.8,427 L1490.9,424.3 L1494.2,421.5 L1497.4,418.8 L1500.6,416.2 L1503.8,413.6 L1507,411.1 L1510.2,408.7 L1513.4,406.3 L1516.7,403.9 L1520,401.6 L1523.4,399.2 L1526.8,396.8 L1530.3,394.3 L1534,391.8 L1537.7,389.3 L1541.5,386.7 L1545.4,384.1 L1549.4,381.3 L1553.5,378.5 L1557.7,375.6 L1562.1,372.6 L1566.6,369.4 L1571.3,366.1 L1576.1,362.6 L1581.1,359 L1586.1,355.3 L1591.2,351.4 L1596.4,347.6 L1601.7,343.7 L1607.1,339.7 L1612.5,335.8 L1618,331.8 L1623.5,328 L1629,324.1 L1634.5,320.4 L1640,316.7 L1645.5,313.2 L1651,309.8 L1656.4,306.6 L1662,303.4 L1667.5,300.3 L1673.1,297.3 L1678.8,294.3 L1684.5,291.3 L1690.2,288.4 L1696.1,285.5 L1701.9,282.6 L1707.9,279.7 L1713.9,276.7 L1720,273.7 L1726.2,270.7 L1732.4,267.6 L1738.8,264.5 L1745.2,261.3 L1751.9,257.9 L1759,254.3 L1766.4,250.6 L1774.2,246.7 L1782.1,242.7 L1790.1,238.7 L1798.1,234.7 L1806.1,230.7 L1813.8,226.9 L1821.3,223.2 L1828.4,219.6 L1835,216.3 L1841.1,213.3 L1846.5,210.6 L1851.3,208.2 L1853.7,206.9 L1853.3,218.1 L1897,180 L1839.1,176.5 L1846.3,185.1 L1841,187.6 L1836.3,190 L1830.8,192.7 L1824.8,195.7 L1818.1,199 L1811,202.6 L1803.6,206.3 L1795.8,210.1 L1787.9,214.1 L1779.8,218.1 L1771.8,222.1 L1763.9,226.1 L1756.1,230 L1748.6,233.8 L1741.5,237.4 L1734.8,240.7 L1728.5,243.9 L1722.2,247 L1716,250.1 L1709.9,253.1 L1703.8,256.1 L1697.8,259 L1691.8,261.9 L1685.8,264.9 L1679.9,267.9 L1674,270.8 L1668.1,273.9 L1662.3,277 L1656.4,280.1 L1650.6,283.4 L1644.8,286.7 L1639,290.2 L1633.2,293.7 L1627.5,297.5 L1621.7,301.3 L1615.9,305.2 L1610.3,309.1 L1604.6,313.1 L1599,317.1 L1593.5,321.2 L1588.1,325.1 L1582.8,329.1 L1577.5,333 L1572.4,336.8 L1567.4,340.4 L1562.6,344 L1557.9,347.4 L1553.4,350.6 L1549,353.7 L1544.7,356.7 L1540.5,359.6 L1536.4,362.4 L1532.4,365.1 L1528.5,367.7 L1524.7,370.3 L1521,372.9 L1517.3,375.4 L1513.7,377.9 L1510.2,380.3 L1506.7,382.8 L1503.2,385.3 L1499.8,387.8 L1496.4,390.3 L1493,392.9 L1489.6,395.5 L1486.1,398.3 L1482.7,401.1 L1479.3,403.9 L1476,406.8 L1472.7,409.6 L1469.5,412.4 L1466.4,415.2 L1463.4,417.8 L1460.6,420.3 L1457.9,422.7 L1455.4,425 L1453.2,427 L1451.2,428.8 L1449.4,430.3 L1447.9,431.6 Z M605.7,1025.8 L607.5,1024.7 L609.6,1023.3 L612.1,1021.7 L614.8,1019.9 L617.7,1017.9 L620.9,1015.9 L624.2,1013.7 L627.6,1011.4 L631.2,1009.1 L634.8,1006.8 L638.4,1004.5 L642,1002.2 L645.5,1000 L648.9,997.9 L652.2,995.9 L655.3,994.1 L658.3,992.3 L661.2,990.6 L664,989 L666.8,987.5 L669.6,986 L672.3,984.5 L675,983 L677.8,981.5 L680.6,980.1 L683.5,978.6 L686.6,977 L689.7,975.5 L693,973.8 L696.5,972.1 L700.2,970.3 L704.1,968.5 L708.2,966.5 L712.6,964.3 L717.1,962.1 L721.8,959.9 L726.7,957.5 L731.6,955.2 L736.7,952.8 L741.8,950.4 L747,948 L752.2,945.6 L757.4,943.3 L762.5,941 L767.7,938.8 L772.8,936.7 L777.8,934.7 L782.7,932.8 L787.6,931 L792.7,929.3 L798,927.5 L803.4,925.8 L808.8,924.1 L814.3,922.4 L819.8,920.8 L825.2,919.3 L830.5,917.8 L835.6,916.4 L840.6,915 L845.4,913.7 L849.9,912.6 L854.2,911.5 L858.1,910.5 L861.5,909.6 L864.6,908.9 L867.2,908.3 L869.6,907.8 L871.7,907.4 L873.6,907.1 L875.2,906.9 L876.6,906.8 L877.9,906.7 L879,906.7 L880.1,906.6 L881,906.6 L882,906.6 L883.1,906.6 L884.3,906.6 L885.5,906.6 L887.8,906.3 L887.1,917.2 L930.4,886.4 L878.3,876.1 L883.4,885.7 L884,885.6 L883.6,885.6 L882.9,885.6 L882.1,885.6 L881,885.6 L879.8,885.6 L878.3,885.7 L876.7,885.7 L874.9,885.9 L872.9,886.1 L870.7,886.3 L868.3,886.7 L865.7,887.1 L862.9,887.7 L859.8,888.4 L856.5,889.2 L852.9,890.1 L848.9,891.1 L844.7,892.2 L840.1,893.4 L835.2,894.7 L830.1,896.1 L824.9,897.5 L819.4,899.1 L813.9,900.6 L808.3,902.3 L802.7,904 L797,905.7 L791.5,907.5 L786,909.4 L780.6,911.3 L775.3,913.2 L770.1,915.1 L764.9,917.2 L759.6,919.4 L754.2,921.7 L748.9,924.1 L743.5,926.5 L738.2,928.9 L732.9,931.3 L727.7,933.8 L722.6,936.2 L717.6,938.6 L712.7,941 L708,943.2 L703.4,945.4 L699.1,947.5 L694.9,949.5 L691,951.4 L687.3,953.3 L683.7,955 L680.3,956.7 L677.1,958.3 L674,959.9 L671,961.4 L668,963 L665.1,964.5 L662.3,966 L659.4,967.6 L656.6,969.1 L653.7,970.8 L650.8,972.4 L647.8,974.1 L644.7,975.9 L641.4,977.9 L638,980 L634.4,982.2 L630.8,984.4 L627.1,986.8 L623.4,989.1 L619.8,991.5 L616.2,993.8 L612.7,996.1 L609.3,998.3 L606.2,1000.4 L603.2,1002.3 L600.5,1004.1 L598.1,1005.7 L596,1007.1 L594.3,1008.2 Z M946.3,884.9 L946,844.9 L955,846.8 L934.4,794.8 L915,847.2 L924,845.1 L924.3,885.1 Z M942,812.7 L943.7,812 L945.7,811.1 L947.9,810.2 L950.3,809.1 L952.9,807.9 L955.6,806.7 L958.5,805.4 L961.5,804.1 L964.7,802.8 L967.9,801.5 L971.1,800.2 L974.4,799 L977.8,797.8 L981.1,796.7 L984.3,795.7 L987.6,794.8 L990.8,794 L994.2,793.2 L997.8,792.5 L1001.6,791.9 L1005.4,791.3 L1009.4,790.7 L1013.4,790.1 L1017.6,789.5 L1021.8,789 L1026,788.4 L1030.3,787.8 L1034.6,787.2 L1039,786.5 L1043.3,785.7 L1047.6,784.9 L1051.9,784.1 L1056,783.2 L1060,782.3 L1064.1,781.4 L1068.2,780.5 L1072.3,779.6 L1076.4,778.7 L1080.5,777.7 L1084.7,776.7 L1088.9,775.6 L1093,774.5 L1097.2,773.3 L1101.4,772.1 L1105.6,770.8 L1109.9,769.4 L1114.1,767.9 L1118.4,766.3 L1122.8,764.5 L1127.1,762.6 L1131.4,760.5 L1135.7,758.4 L1139.9,756.1 L1144,753.9 L1148.1,751.6 L1152.2,749.3 L1156.2,747 L1160.2,744.8 L1164.2,742.6 L1168.1,740.6 L1171.9,738.7 L1175.7,736.9 L1179.4,735.3 L1183.2,733.8 L1186.9,732.5 L1190.8,731.2 L1194.7,730.1 L1198.7,729 L1202.6,727.9 L1206.6,727 L1210.6,726.1 L1214.6,725.2 L1218.6,724.4 L1222.7,723.6 L1226.7,722.8 L1230.6,722.1 L1234.6,721.4 L1238.5,720.7 L1242.4,719.9 L1246.2,719.2 L1249.9,718.5 L1253.6,717.9 L1257.3,717.2 L1261,716.6 L1264.6,716.1 L1268.2,715.5 L1271.8,715 L1275.3,714.5 L1278.8,714.1 L1282.2,713.6 L1285.5,713.2 L1288.8,712.8 L1292,712.4 L1295.1,712.1 L1298.2,711.8 L1301.1,711.4 L1303.9,711.2 L1306.7,710.9 L1309.4,710.7 L1312.2,710.5 L1314.9,710.4 L1317.5,710.2 L1320.1,710.1 L1322.5,710 L1324.9,709.9 L1327.2,709.8 L1329.3,709.8 L1331.3,709.7 L1333.2,709.7 L1334.9,709.6 L1336.5,709.6 L1337,709.5 L1333.8,718.9 L1387,700.3 L1334.8,678.9 L1337.6,688.5 L1335.6,688.6 L1334.2,688.6 L1332.6,688.7 L1330.7,688.7 L1328.7,688.8 L1326.5,688.8 L1324.2,688.9 L1321.7,689 L1319.1,689.1 L1316.5,689.2 L1313.7,689.4 L1310.8,689.6 L1307.9,689.8 L1304.9,690 L1301.9,690.3 L1298.9,690.6 L1295.9,690.9 L1292.8,691.2 L1289.6,691.6 L1286.3,692 L1283,692.4 L1279.5,692.8 L1276,693.2 L1272.5,693.7 L1268.8,694.2 L1265.1,694.8 L1261.4,695.3 L1257.6,695.9 L1253.8,696.5 L1250,697.2 L1246.2,697.9 L1242.4,698.6 L1238.6,699.3 L1234.7,700 L1230.8,700.7 L1226.8,701.4 L1222.8,702.2 L1218.7,703 L1214.5,703.8 L1210.3,704.6 L1206.1,705.6 L1201.8,706.5 L1197.5,707.6 L1193.2,708.7 L1188.9,709.9 L1184.5,711.2 L1180.2,712.6 L1175.8,714.2 L1171.5,715.9 L1167.1,717.8 L1162.8,719.8 L1158.5,721.9 L1154.3,724.1 L1150.1,726.4 L1146,728.7 L1141.9,731 L1137.9,733.2 L1133.9,735.5 L1129.9,737.6 L1126,739.7 L1122.1,741.7 L1118.3,743.5 L1114.5,745.2 L1110.8,746.7 L1107,748.1 L1103.1,749.5 L1099.2,750.8 L1095.3,752 L1091.4,753.2 L1087.5,754.3 L1083.5,755.3 L1079.6,756.3 L1075.6,757.3 L1071.7,758.2 L1067.7,759.1 L1063.7,760 L1059.6,760.9 L1055.6,761.8 L1051.5,762.7 L1047.5,763.5 L1043.6,764.3 L1039.6,765.1 L1035.6,765.8 L1031.5,766.4 L1027.4,767 L1023.2,767.6 L1019,768.2 L1014.8,768.7 L1010.6,769.3 L1006.4,769.9 L1002.2,770.5 L998.1,771.2 L994,771.9 L990,772.6 L986.1,773.5 L982.2,774.4 L978.4,775.5 L974.7,776.7 L970.9,777.9 L967.2,779.2 L963.6,780.6 L960,782 L956.6,783.4 L953.3,784.8 L950.1,786.2 L947.1,787.5 L944.3,788.8 L941.7,789.9 L939.4,791 L937.3,791.9 L935.5,792.7 L934,793.3 Z M1407.3,697.9 L1407,666.9 L1416,668.9 L1395.7,619.2 L1376,669.1 L1385,667.1 L1385.3,698.1 Z M1405.9,637.8 L1407.8,637.6 L1409.9,637.5 L1412.4,637.3 L1415.2,637.2 L1418.3,637 L1421.6,636.8 L1425.1,636.6 L1428.8,636.4 L1432.7,636.1 L1436.7,635.8 L1440.7,635.5 L1444.9,635.1 L1449,634.6 L1453.2,634.1 L1457.4,633.6 L1461.5,633 L1465.6,632.3 L1469.8,631.6 L1474.2,630.8 L1478.7,630 L1483.3,629.2 L1488,628.3 L1492.7,627.4 L1497.5,626.4 L1502.2,625.4 L1506.9,624.4 L1511.6,623.3 L1516.2,622.2 L1520.6,621.1 L1524.9,619.9 L1529.1,618.7 L1533,617.5 L1536.7,616.3 L1540.3,615.1 L1543.7,613.8 L1547,612.6 L1550.2,611.3 L1553.3,610 L1556.3,608.6 L1559.2,607.2 L1562.1,605.8 L1565,604.3 L1567.8,602.8 L1570.7,601.2 L1573.5,599.5 L1576.4,597.8 L1579.3,596 L1582.3,594.1 L1585.4,592 L1588.6,589.8 L1591.7,587.4 L1594.8,585 L1597.9,582.5 L1600.9,580 L1603.8,577.5 L1606.8,574.9 L1609.7,572.4 L1612.5,569.9 L1615.4,567.4 L1618.2,565.1 L1621,562.8 L1623.7,560.6 L1626.4,558.5 L1629.2,556.6 L1631.9,554.7 L1634.6,552.8 L1637.3,551 L1639.9,549.3 L1642.5,547.6 L1645.1,546 L1647.7,544.4 L1650.3,542.8 L1653,541.2 L1655.7,539.6 L1658.5,538 L1661.4,536.4 L1664.5,534.8 L1667.6,533.1 L1671,531.3 L1674.5,529.5 L1678.1,527.6 L1681.9,525.7 L1685.9,523.7 L1690,521.7 L1694.2,519.7 L1698.5,517.7 L1703,515.6 L1707.4,513.5 L1712,511.5 L1716.6,509.4 L1721.1,507.3 L1725.7,505.2 L1730.3,503.2 L1734.8,501.1 L1739.3,499.1 L1743.7,497.1 L1748,495.2 L1752.3,493.3 L1756.5,491.4 L1760.8,489.6 L1765,487.8 L1769.2,486 L1773.5,484.1 L1777.7,482.3 L1782,480.5 L1786.4,478.6 L1790.7,476.8 L1795.2,474.9 L1799.6,472.9 L1804.2,471 L1808.8,468.9 L1813.5,466.9 L1818.5,464.7 L1823.8,462.3 L1829.3,459.8 L1835.1,457.3 L1840.9,454.6 L1846.9,452 L1852.8,449.3 L1858.7,446.6 L1864.4,444 L1870,441.5 L1875.2,439.2 L1880.1,436.9 L1884.6,434.9 L1888.7,433.1 L1892.1,431.5 L1894.8,430.3 L1895.5,439.8 L1936,401 L1880,402.9 L1886.2,410.1 L1883.1,411.5 L1879.6,413 L1875.6,414.9 L1871.1,416.9 L1866.2,419.1 L1860.9,421.5 L1855.4,424 L1849.6,426.6 L1843.8,429.2 L1837.8,431.9 L1831.9,434.6 L1826,437.2 L1820.3,439.8 L1814.8,442.2 L1809.6,444.6 L1804.7,446.7 L1800,448.8 L1795.4,450.8 L1790.9,452.7 L1786.5,454.7 L1782.1,456.5 L1777.7,458.4 L1773.4,460.3 L1769.1,462.1 L1764.8,463.9 L1760.6,465.7 L1756.3,467.6 L1752,469.4 L1747.7,471.3 L1743.4,473.2 L1739.1,475.1 L1734.7,477.1 L1730.3,479.1 L1725.8,481.1 L1721.3,483.1 L1716.7,485.2 L1712.1,487.3 L1707.4,489.3 L1702.8,491.5 L1698.2,493.6 L1693.7,495.7 L1689.2,497.8 L1684.8,499.8 L1680.4,501.9 L1676.2,504 L1672.1,506 L1668.1,508 L1664.3,509.9 L1660.7,511.8 L1657.3,513.6 L1654,515.4 L1650.8,517.2 L1647.7,518.9 L1644.8,520.5 L1641.8,522.2 L1639,523.9 L1636.2,525.6 L1633.4,527.3 L1630.7,529.1 L1627.9,530.9 L1625.1,532.7 L1622.3,534.6 L1619.4,536.6 L1616.4,538.6 L1613.3,540.9 L1610.2,543.2 L1607.2,545.7 L1604.1,548.2 L1601.1,550.7 L1598.2,553.2 L1595.2,555.8 L1592.3,558.3 L1589.5,560.8 L1586.6,563.2 L1583.8,565.6 L1581,567.8 L1578.3,570 L1575.6,572 L1573,573.9 L1570.3,575.7 L1567.6,577.4 L1564.9,579 L1562.3,580.6 L1559.7,582.1 L1557.2,583.5 L1554.7,584.9 L1552.2,586.2 L1549.7,587.4 L1547.1,588.6 L1544.5,589.8 L1541.8,591 L1539,592.1 L1536.1,593.2 L1533,594.3 L1529.8,595.4 L1526.4,596.5 L1522.8,597.6 L1519,598.7 L1515,599.8 L1510.9,600.8 L1506.5,601.9 L1502.1,602.9 L1497.6,603.9 L1493,604.9 L1488.4,605.8 L1483.8,606.7 L1479.3,607.6 L1474.8,608.4 L1470.4,609.2 L1466.1,609.9 L1462,610.6 L1458.1,611.2 L1454.3,611.8 L1450.5,612.3 L1446.6,612.8 L1442.7,613.2 L1438.8,613.5 L1434.9,613.9 L1431.1,614.2 L1427.3,614.4 L1423.7,614.7 L1420.3,614.9 L1417,615 L1414,615.2 L1411.1,615.4 L1408.5,615.5 L1406.2,615.7 L1404.3,615.8 Z M1283.1,782.4 L1284.1,784.4 L1285.3,786.8 L1286.7,789.6 L1288.2,792.8 L1289.9,796.4 L1291.8,800.2 L1293.7,804.2 L1295.8,808.3 L1297.9,812.6 L1300.2,816.9 L1302.5,821.3 L1304.8,825.6 L1307.2,829.9 L1309.7,834 L1312.1,838 L1314.6,841.7 L1317,845.2 L1319.4,848.5 L1321.9,851.8 L1324.3,855.1 L1326.8,858.3 L1329.4,861.4 L1332,864.5 L1334.7,867.6 L1337.4,870.7 L1340.2,873.8 L1343.1,876.9 L1346,879.9 L1349.1,883 L1352.2,886.2 L1355.4,889.3 L1358.8,892.5 L1362.3,895.8 L1365.9,899.1 L1369.7,902.5 L1373.6,906 L1377.6,909.4 L1381.7,912.9 L1385.8,916.4 L1390,919.8 L1394.3,923.2 L1398.6,926.6 L1402.8,930 L1407.1,933.3 L1411.4,936.5 L1415.6,939.7 L1419.8,942.7 L1423.9,945.7 L1428,948.5 L1432.1,951.3 L1436.2,954.1 L1440.3,956.8 L1444.4,959.4 L1448.4,962 L1452.5,964.5 L1456.6,967 L1460.7,969.4 L1464.8,971.8 L1468.9,974.1 L1473,976.3 L1477,978.6 L1481.1,980.7 L1485.2,982.8 L1489.3,984.9 L1493.4,986.9 L1497.6,988.9 L1501.7,990.8 L1505.8,992.6 L1509.9,994.3 L1514,996.1 L1518.1,997.7 L1522.2,999.3 L1526.3,1000.9 L1530.4,1002.4 L1534.4,1003.9 L1538.5,1005.3 L1542.5,1006.8 L1546.6,1008.2 L1550.6,1009.6 L1554.6,1010.9 L1558.7,1012.3 L1562.8,1013.6 L1566.8,1014.9 L1570.9,1016.2 L1575,1017.4 L1579.1,1018.6 L1583.1,1019.8 L1587.2,1021 L1591.2,1022.1 L1595.3,1023.2 L1599.4,1024.2 L1603.4,1025.3 L1607.5,1026.3 L1611.5,1027.3 L1615.6,1028.3 L1619.6,1029.2 L1623.8,1030.2 L1628.3,1031.1 L1632.8,1032.1 L1637.5,1033 L1642.2,1033.9 L1646.9,1034.8 L1651.6,1035.6 L1656.2,1036.5 L1660.6,1037.2 L1664.9,1038 L1668.9,1038.7 L1672.7,1039.3 L1676.2,1039.9 L1679.3,1040.5 L1681.9,1040.9 L1685.1,1041.5 L1682.1,1051.7 L1734.1,1035.3 L1685.9,1009.9 L1686.9,1020.5 L1685.6,1020.3 L1682.9,1019.8 L1679.7,1019.2 L1676.3,1018.6 L1672.5,1018 L1668.5,1017.3 L1664.2,1016.6 L1659.8,1015.8 L1655.3,1015 L1650.7,1014.1 L1646.1,1013.3 L1641.5,1012.4 L1637,1011.5 L1632.6,1010.6 L1628.4,1009.7 L1624.4,1008.8 L1620.4,1007.8 L1616.5,1006.9 L1612.5,1005.9 L1608.6,1004.9 L1604.6,1003.9 L1600.7,1002.9 L1596.8,1001.8 L1592.8,1000.7 L1588.9,999.6 L1584.9,998.5 L1581,997.3 L1577.1,996.1 L1573.2,994.9 L1569.2,993.7 L1565.3,992.4 L1561.4,991.1 L1557.4,989.7 L1553.4,988.3 L1549.5,987 L1545.5,985.6 L1541.6,984.1 L1537.6,982.7 L1533.7,981.2 L1529.8,979.7 L1525.9,978.2 L1522,976.6 L1518.1,975 L1514.2,973.3 L1510.3,971.6 L1506.4,969.8 L1502.6,968 L1498.7,966.1 L1494.8,964.1 L1490.9,962.1 L1487,960 L1483,957.9 L1479.1,955.8 L1475.2,953.5 L1471.3,951.3 L1467.4,949 L1463.5,946.6 L1459.6,944.2 L1455.6,941.7 L1451.7,939.2 L1447.8,936.6 L1443.9,934 L1440,931.3 L1436.1,928.5 L1432.1,925.7 L1428.1,922.8 L1424,919.7 L1419.9,916.6 L1415.7,913.4 L1411.6,910.2 L1407.4,906.9 L1403.3,903.5 L1399.2,900.2 L1395.2,896.8 L1391.3,893.5 L1387.4,890.1 L1383.7,886.8 L1380,883.6 L1376.6,880.4 L1373.2,877.3 L1370,874.2 L1366.9,871.2 L1364,868.2 L1361.1,865.3 L1358.3,862.4 L1355.6,859.5 L1353,856.7 L1350.5,853.8 L1348,851 L1345.6,848.1 L1343.3,845.2 L1341,842.2 L1338.7,839.2 L1336.4,836.2 L1334.2,833.1 L1332,829.9 L1329.8,826.6 L1327.6,823.1 L1325.4,819.4 L1323.2,815.4 L1321,811.4 L1318.8,807.2 L1316.7,803.1 L1314.6,798.9 L1312.6,794.9 L1310.6,791 L1308.8,787.2 L1307.1,783.7 L1305.6,780.5 L1304.1,777.5 L1302.8,774.9 L1301.7,772.8 Z M1748.9,1118.3 L1747,1118.2 L1744.6,1118 L1742,1117.8 L1739.1,1117.7 L1736,1117.5 L1732.6,1117.2 L1729.1,1117 L1725.4,1116.7 L1721.7,1116.5 L1717.9,1116.2 L1714.1,1115.8 L1710.3,1115.4 L1706.5,1115 L1702.9,1114.6 L1699.4,1114.1 L1696.1,1113.6 L1692.9,1113.1 L1689.7,1112.5 L1686.6,1112 L1683.5,1111.4 L1680.5,1110.8 L1677.4,1110.1 L1674.4,1109.4 L1671.3,1108.7 L1668.1,1108 L1664.9,1107.1 L1661.5,1106.3 L1658.1,1105.3 L1654.5,1104.4 L1650.7,1103.3 L1646.8,1102.2 L1642.7,1101 L1638.4,1099.7 L1633.9,1098.2 L1629.2,1096.7 L1624.3,1095 L1619.2,1093.2 L1614,1091.4 L1608.7,1089.5 L1603.3,1087.6 L1597.9,1085.6 L1592.4,1083.7 L1586.9,1081.8 L1581.4,1079.9 L1576,1078.2 L1570.6,1076.5 L1565.3,1074.9 L1560.1,1073.4 L1554.9,1072 L1549.5,1070.7 L1544,1069.4 L1538.4,1068.1 L1532.8,1066.9 L1527.3,1065.8 L1521.8,1064.7 L1516.4,1063.6 L1511.2,1062.6 L1506.2,1061.7 L1501.5,1060.8 L1497.1,1060 L1493.1,1059.3 L1489.5,1058.6 L1486.4,1058 L1482.5,1057.3 L1486.2,1048.6 L1437.8,1064.9 L1483.1,1088.5 L1480.9,1079.3 L1482.2,1079.6 L1485.4,1080.2 L1489.1,1080.9 L1493.1,1081.7 L1497.5,1082.5 L1502.2,1083.3 L1507.1,1084.3 L1512.2,1085.2 L1517.5,1086.3 L1522.9,1087.3 L1528.3,1088.5 L1533.7,1089.6 L1539.1,1090.8 L1544.3,1092.1 L1549.4,1093.3 L1554.3,1094.6 L1559.1,1096 L1564.1,1097.5 L1569.2,1099.1 L1574.5,1100.8 L1579.8,1102.6 L1585.2,1104.5 L1590.6,1106.4 L1596,1108.3 L1601.3,1110.2 L1606.7,1112.1 L1611.9,1114 L1617.1,1115.8 L1622.1,1117.5 L1627.1,1119.1 L1631.8,1120.7 L1636.3,1122 L1640.6,1123.3 L1644.7,1124.5 L1648.6,1125.5 L1652.3,1126.6 L1655.9,1127.5 L1659.4,1128.5 L1662.9,1129.3 L1666.2,1130.1 L1669.5,1130.9 L1672.8,1131.6 L1676,1132.3 L1679.3,1133 L1682.5,1133.6 L1685.8,1134.2 L1689.2,1134.8 L1692.7,1135.4 L1696.3,1135.9 L1700.1,1136.4 L1704.1,1136.9 L1708,1137.3 L1712,1137.7 L1716,1138.1 L1720,1138.4 L1723.8,1138.7 L1727.6,1138.9 L1731.2,1139.2 L1734.5,1139.4 L1737.7,1139.6 L1740.6,1139.8 L1743.1,1140 L1745.3,1140.1 L1747.1,1140.3 Z M1055.4,1052 L1053.4,1052.1 L1051.1,1052.2 L1048.3,1052.2 L1045.2,1052.3 L1041.8,1052.4 L1038.2,1052.5 L1034.3,1052.6 L1030.4,1052.7 L1026.3,1052.8 L1022.1,1053 L1018,1053.2 L1013.9,1053.4 L1009.8,1053.6 L1005.9,1053.9 L1002.2,1054.2 L998.7,1054.6 L995.4,1055 L992.2,1055.4 L989,1055.9 L985.8,1056.3 L982.7,1056.9 L979.6,1057.4 L976.6,1058 L973.6,1058.6 L970.6,1059.2 L967.8,1059.8 L964.9,1060.5 L962.2,1061.2 L959.5,1061.8 L956.8,1062.5 L954.3,1063.2 L951.7,1064 L949.1,1064.8 L946.5,1065.7 L943.9,1066.6 L941.4,1067.6 L939,1068.6 L936.7,1069.6 L934.4,1070.7 L932.3,1071.7 L930.2,1072.6 L928.3,1073.6 L926.5,1074.5 L924.9,1075.3 L923.5,1076 L922.2,1076.6 L921.2,1077.1 L921,1077.2 L920.9,1068.2 L878.8,1105 L934.7,1105.7 L929,1098.8 L930.9,1098 L932.2,1097.3 L933.7,1096.6 L935.2,1095.9 L936.8,1095.1 L938.5,1094.2 L940.3,1093.3 L942.1,1092.5 L944,1091.6 L946,1090.7 L948,1089.8 L950.1,1088.9 L952.1,1088.1 L954.2,1087.4 L956.2,1086.7 L958.3,1086 L960.5,1085.4 L962.8,1084.7 L965.2,1084.1 L967.7,1083.5 L970.2,1082.9 L972.8,1082.3 L975.5,1081.7 L978.2,1081.1 L980.9,1080.6 L983.7,1080 L986.6,1079.5 L989.5,1079.1 L992.4,1078.6 L995.3,1078.2 L998.3,1077.8 L1001.3,1077.4 L1004.4,1077.1 L1007.7,1076.8 L1011.3,1076.6 L1015.1,1076.3 L1019.1,1076.1 L1023.1,1076 L1027.1,1075.8 L1031.1,1075.7 L1035,1075.6 L1038.8,1075.5 L1042.4,1075.4 L1045.8,1075.3 L1048.9,1075.2 L1051.7,1075.1 L1054.2,1075.1 L1056.2,1075 Z M707.1,1163.5 L705.2,1164.3 L703.1,1165.4 L700.9,1166.5 L698.5,1167.8 L696,1169.1 L693.3,1170.5 L690.4,1172 L687.4,1173.5 L684.1,1175 L680.7,1176.6 L677.2,1178.2 L673.4,1179.8 L669.5,1181.4 L665.5,1183 L661.2,1184.5 L656.8,1186 L652,1187.5 L646.9,1189.1 L641.5,1190.7 L635.9,1192.4 L630.1,1194.1 L624.1,1195.8 L617.9,1197.5 L611.6,1199.2 L605.2,1200.9 L598.6,1202.5 L591.9,1204.1 L585.2,1205.7 L578.5,1207.2 L571.7,1208.6 L564.9,1209.9 L558.2,1211.2 L551.3,1212.3 L544.4,1213.4 L537.3,1214.5 L530,1215.5 L522.7,1216.5 L515.3,1217.4 L507.8,1218.3 L500.3,1219.1 L492.7,1219.9 L485,1220.7 L477.4,1221.4 L469.7,1222.1 L462,1222.7 L454.4,1223.4 L446.8,1224 L439.2,1224.5 L431.5,1225.1 L423.4,1225.5 L415,1226 L406.3,1226.4 L397.5,1226.7 L388.7,1227 L379.9,1227.3 L371.2,1227.5 L362.8,1227.8 L354.6,1228 L346.9,1228.2 L339.7,1228.3 L333.1,1228.5 L327.2,1228.6 L322,1228.8 L318.6,1228.9 L321.1,1220 L273,1236.8 L318.9,1259 L317.4,1249.9 L322.6,1249.8 L327.7,1249.6 L333.6,1249.5 L340.2,1249.3 L347.4,1249.2 L355.2,1249 L363.3,1248.8 L371.8,1248.5 L380.5,1248.3 L389.4,1248 L398.3,1247.7 L407.2,1247.3 L416,1246.9 L424.6,1246.5 L432.9,1246 L440.8,1245.5 L448.4,1244.9 L456.1,1244.3 L463.8,1243.7 L471.5,1243 L479.3,1242.3 L487,1241.6 L494.8,1240.8 L502.5,1240 L510.2,1239.2 L517.8,1238.3 L525.4,1237.3 L532.9,1236.3 L540.3,1235.3 L547.6,1234.2 L554.8,1233 L561.8,1231.8 L568.9,1230.5 L575.9,1229.2 L582.9,1227.7 L589.9,1226.2 L596.8,1224.6 L603.6,1222.9 L610.3,1221.2 L617,1219.5 L623.4,1217.8 L629.8,1216 L635.9,1214.3 L641.8,1212.6 L647.6,1210.9 L653,1209.2 L658.3,1207.6 L663.2,1206 L668.1,1204.4 L672.8,1202.7 L677.3,1201 L681.5,1199.2 L685.6,1197.5 L689.5,1195.7 L693.2,1194 L696.6,1192.3 L699.9,1190.7 L702.9,1189.2 L705.7,1187.7 L708.2,1186.4 L710.6,1185.2 L712.6,1184.1 L714.3,1183.3 L715.9,1182.5 Z" fill="#5e9fd3" style="mix-blend-mode:multiply"/><text x="365" y="1216.5" font-size="27.5" font-weight="bold" text-anchor="middle" fill="#000">28</text><text x="596" y="1138.6" font-size="27.5" font-weight="bold" text-anchor="middle" fill="#000">50</text><text x="933.5" y="999" font-size="27.5" font-weight="bold" text-anchor="middle" fill="#000">82</text><text x="1395.4" y="842.2" font-size="27.5" font-weight="bold" text-anchor="middle" fill="#000">126</text><text x="2003.5" y="554.8" font-size="27.5" font-weight="bold" text-anchor="middle" fill="#000">184</text><text x="2006.3" y="34.1" font-size="27.5" font-weight="bold" text-anchor="middle" fill="#000">184</text><text x="522.9" y="807.2" font-size="27.5" font-weight="bold" text-anchor="middle" fill="#000">50</text><text x="868" y="492.1" font-size="27.5" font-weight="bold" text-anchor="middle" fill="#000">82</text><text x="1676.6" y="176.4" font-size="27.5" font-weight="bold" text-anchor="middle" fill="#000">114</text><path d="M697.4,613.5 H865.6 V671.1 H837.9 L837.9,767.9 L810.9,671.1 H697.4 Z" fill="#fff" stroke="#8c93a3" stroke-width="1.3" stroke-linejoin="miter"/><text x="714.9" y="651.9" font-size="28" textLength="129.4" lengthAdjust="spacingAndGlyphs" fill="#111">s-process</text><path d="M239.4,820.6 H425.5 V878.2 H398.4 L398.4,966 L371.6,878.2 H239.4 Z" fill="#fff" stroke="#8c93a3" stroke-width="1.3" stroke-linejoin="miter"/><text x="257.4" y="859.3" font-size="28" textLength="144.7" lengthAdjust="spacingAndGlyphs" fill="#111">rp-process</text><path d="M61.1,1025.2 H166.3 V1115.6 H134.5 L135,1231.4 L106.3,1115.6 H61.1 Z" fill="#fff" stroke="#8c93a3" stroke-width="1.3" stroke-linejoin="miter"/><text x="78.7" y="1064.9" font-size="28" textLength="40.8" lengthAdjust="spacingAndGlyphs" fill="#111">Big</text><text x="78.7" y="1098" font-size="28" textLength="66.2" lengthAdjust="spacingAndGlyphs" fill="#111">bang</text><path d="M402.1,1266.8 H443.6 L443.6,1234.8 L463.6,1266.8 H721.5 V1324.7 H402.1 Z" fill="#fff" stroke="#8c93a3" stroke-width="1.3" stroke-linejoin="miter"/><text x="426.7" y="1306.7" font-size="28" textLength="271.4" lengthAdjust="spacingAndGlyphs" fill="#111">Light dripline nuclei</text><path d="M928.3,1104.3 H960.5 L961.4,1076.6 L979.9,1104.3 H1061.6 V1198.3 H928.3 Z" fill="#fff" stroke="#8c93a3" stroke-width="1.3" stroke-linejoin="miter"/><text x="946" y="1143.8" font-size="28" textLength="60.8" lengthAdjust="spacingAndGlyphs" fill="#111">Halo</text><text x="946" y="1177.7" font-size="28" textLength="80.5" lengthAdjust="spacingAndGlyphs" fill="#111">nuclei</text><path d="M1512.5,1152.7 H1636.8 L1658.7,1121.1 L1658.7,1152.7 H1690.3 V1209.5 H1512.5 Z" fill="#fff" stroke="#8c93a3" stroke-width="1.3" stroke-linejoin="miter"/><text x="1529.8" y="1190.3" font-size="28" textLength="139.9" lengthAdjust="spacingAndGlyphs" fill="#111">Clustering</text><path d="M1462,863.5 H1710.2 V920 H1525 L1499.4,971.3 L1498.3,920 H1462 Z" fill="#fff" stroke="#8c93a3" stroke-width="1.3" stroke-linejoin="miter"/><text x="1480.2" y="901.9" font-size="28" textLength="195.3" lengthAdjust="spacingAndGlyphs" fill="#111">Dripline nuclei</text><path d="M1567.4,656.5 H1581.3 L1581.3,583.7 L1601.8,656.5 H1730.3 V713.4 H1567.4 Z" fill="#fff" stroke="#8c93a3" stroke-width="1.3" stroke-linejoin="miter"/><text x="1585.6" y="694.7" font-size="28" textLength="126" lengthAdjust="spacingAndGlyphs" fill="#111">r-process</text><line x1="1234.4" y1="296" x2="1234.4" y2="688" stroke="#111" stroke-width="1.3"/><circle cx="1234.4" cy="688.4" r="4.2" fill="#111"/><rect x="1066.5" y="203.4" width="334.9" height="91.7" fill="#fff" stroke="#c8424c" stroke-width="2.9"/><text x="1083.1" y="243.1" font-size="28" fill="#111" textLength="299.2" lengthAdjust="spacingAndGlyphs"><tspan font-weight="bold">1.</tspan> n-rich heavier mass;</text><text x="1083.1" y="278" font-size="28" textLength="272.3" lengthAdjust="spacingAndGlyphs" fill="#111">r-process/symmetry</text><line x1="1139.5" y1="821" x2="1139.5" y2="925" stroke="#111" stroke-width="1.3"/><circle cx="1139.5" cy="820.9" r="4.2" fill="#111"/><rect x="1017.8" y="926" width="244.5" height="90.1" fill="#fff" stroke="#c8424c" stroke-width="2.9"/><text x="1035.2" y="964.4" font-size="28" fill="#111" textLength="170" lengthAdjust="spacingAndGlyphs"><tspan font-weight="bold">2.</tspan> n-dripline;</text><text x="1036" y="998.7" font-size="28" textLength="202.8" lengthAdjust="spacingAndGlyphs" fill="#111">neutron matter</text><line x1="47.5" y1="1274" x2="47.5" y2="22" stroke="#34465f" stroke-width="3"/><path d="M47.5,11.5 L53,25.5 L47.5,22.5 L42,25.5 Z" fill="#34465f"/><line x1="84.2" y1="1354.4" x2="2385" y2="1354.4" stroke="#34465f" stroke-width="2.8"/><path d="M2393.3,1354.4 L2380,1359.7 L2383,1354.4 L2380,1349.1 Z" fill="#34465f"/><text x="1112.5" y="1392.1" font-size="29" textLength="224" lengthAdjust="spacingAndGlyphs" fill="#111">Neutron number</text><text x="0" y="0" font-size="28" fill="#111" textLength="203" lengthAdjust="spacingAndGlyphs" transform="translate(34.9,751.6) rotate(-90)">Proton number</text><path d="M275.4,99H362.3M275.8,102.2H362.3M276.8,109.6H362.3M277.7,116.5H362.3M278.7,124.6H362.3M281,141.6H362.3M282,149.1H362.3M282.8,152.3H362.3M284.3,159.1H362.3M287.7,174.1H362.3M290.1,184.7H362.3M291,188.6H362.3M292.7,195.4H362.3M300.2,205.7H362.3M302.8,209.3H362.3M314.7,220.6H362.3M364.3,99L459,102M364.3,102.2L457.2,105.2M364.3,109.2L454.2,112.2M364.3,111.3L453.8,114.3M364.3,114.5L453.3,117.5M364.3,117.7L452.7,120.7M364.3,122L452,125M364.3,129.7L450.8,132.7M364.3,131.6L450.4,134.6M364.3,135.2L449.8,138.2M364.3,137.6L449.4,140.6M364.3,140.1L449,143.1M364.3,143.3L448.5,146.3M364.3,148L447.8,151M364.3,160.4L446.1,163.4M364.3,163L445.8,166M364.3,165.8L445.4,168.8M364.3,167.9L445.1,170.9M364.3,171.1L444.6,174.1M364.3,173.2L444.4,176.2M364.3,182.2L443.1,185.2M364.3,183.9L442.9,186.9M364.3,193.3L441.1,196.3M364.3,195.4L439.9,198.4M364.3,199.7L437.6,202.7M364.3,201.8L436.5,204.8M364.3,211.6L431.1,214.6M364.3,213.8L429.9,216.8M364.3,216.3L427.8,219.3M364.3,218.9L423.9,221.9" stroke="#1d2843" stroke-width="1.1" fill="none"/><path d="M207,66.5 C208.4,66.2 209.5,66.4 215.6,64.6 C221.7,62.8 235.3,55.7 243.3,55.9 C251.3,56.1 258.2,58.7 263.6,65.9 C269,73.1 272.4,85.3 275.4,99 C278.4,112.7 279,132 281.8,148 C284.6,164 287.8,183.2 292.4,195 C297,206.8 302.7,213 309.5,218.5 C316.3,224 324.5,225.9 333,228 C341.5,230.1 356.1,230.8 360.7,231.3" stroke="#1d2843" stroke-width="2.4" fill="none"/><path d="M365,241.9 C371.4,240.8 392.7,239.4 403.4,235.5 C414.1,231.6 422.6,225.2 429,218.5 C435.4,211.8 438.6,206.8 441.8,195 C445,183.2 446.1,162.2 448.2,148 C450.3,133.8 452.1,118.5 454.6,109.6 C457.1,100.7 459.3,99.7 463.2,94.7 C467.1,89.7 471.7,84.2 478.1,79.8 C484.5,75.4 495.5,70.7 501.6,68.5 C507.8,66.3 512.8,66.8 515,66.5" stroke="#1d2843" stroke-width="2.4" fill="none"/><line x1="201" y1="66.5" x2="528" y2="66.5" stroke="#8e2b30" stroke-width="3.4"/><path d="M536,66.5 L523,71.5 L526,66.5 L523,61.5 Z" fill="#8e2b30"/><line x1="363.3" y1="278" x2="363.3" y2="33" stroke="#8e2b30" stroke-width="3.4"/><path d="M363.3,25 L368.3,38 L363.3,35 L358.3,38 Z" fill="#8e2b30"/><text x="332.2" y="263.3" font-size="31" font-weight="bold" text-anchor="middle" fill="#000">p</text><text x="399.7" y="263.3" font-size="31" font-weight="bold" text-anchor="middle" fill="#000">n</text><text x="272.8" y="309.2" font-size="28" textLength="176.5" lengthAdjust="spacingAndGlyphs" fill="#111">Stable nuclei</text><path d="M288.9,460.2H362M289.9,467H362M290.5,470.9H362M291.4,477.2H362M293.3,490.2H362M295.1,500.4H362M296.3,503.4H362M298.8,509.5H362M300.7,514.3H362M304.2,523.2H362M306.7,529.3H362M322.8,542.5H362M364,406L467.9,409M364,412.8L463.4,415.8M364,417.4L460.3,420.4M364,424.2L456.1,427.2M364,429.2L454.9,432.2M364,439L452.4,442M364,445.1L450.9,448.1M364,450.8L449.5,453.8M364,460.6L448.4,463.6M364,467.4L447.6,470.4M364,473.1L447,476.1M364,485.7L445.6,488.7M364,492.9L444.4,495.9M364,510.2L436.5,513.2M364,517.1L433,520.1" stroke="#1d2843" stroke-width="1.1" fill="none"/><path d="M207,393.5 C208.3,393.1 207.2,393.2 214.6,391.2 C222,389.2 241.9,381.2 251.4,381.4 C260.9,381.6 267,387.1 271.9,392.3 C276.8,397.5 278.3,402.6 281,412.8 C283.7,423.1 285.6,439.4 287.9,453.8 C290.2,468.2 291.3,486 294.7,499.3 C298.1,512.6 303,525.8 308.3,533.4 C313.6,541 317.8,541.8 326.5,544.8 C335.2,547.8 355,550.6 360.7,551.7" stroke="#1d2843" stroke-width="2.4" fill="none"/><path d="M365.2,547.1 C372,545.6 394.8,542.5 406.2,538 C417.6,533.5 427.1,527 433.5,519.8 C439.9,512.6 442.2,505.8 444.9,494.8 C447.6,483.8 447.6,465.2 449.5,453.8 C451.4,442.4 452.9,434.5 456.3,426.5 C459.7,418.5 463.1,411.3 469.9,406 C476.7,400.7 490.2,396.9 497.2,394.8 C504.2,392.7 509.5,393.7 512,393.5" stroke="#1d2843" stroke-width="2.4" fill="none"/><line x1="200.9" y1="393.5" x2="527.9" y2="393.5" stroke="#8e2b30" stroke-width="3.4"/><path d="M535.9,393.5 L522.9,398.5 L525.9,393.5 L522.9,388.5 Z" fill="#8e2b30"/><line x1="363" y1="605.1" x2="363" y2="359.4" stroke="#8e2b30" stroke-width="3.4"/><path d="M363,351.4 L368,364.4 L363,361.4 L358,364.4 Z" fill="#8e2b30"/><text x="332.2" y="580.1" font-size="31" font-weight="bold" text-anchor="middle" fill="#000">p</text><text x="399.9" y="580.1" font-size="31" font-weight="bold" text-anchor="middle" fill="#000">n</text><text x="262.4" y="639.3" font-size="28" textLength="209.8" lengthAdjust="spacingAndGlyphs" fill="#111">Unstable nuclei</text><path d="M1755.2,1077.2H1838.9M1756.1,1084.1H1838.9M1756.9,1089.6H1838.9M1757.9,1097.2H1838.9M1758.9,1104.7H1838.9M1759.9,1112.9H1838.9M1762.7,1125.2H1838.9M1763.6,1128.8H1838.9M1765.4,1136.2H1838.9M1771.1,1152.7H1838.9M1775.3,1159.5H1838.9M1785.3,1171.9H1838.9M1840.9,1002L2014.8,1005M1840.9,1007.2L1993.6,1010.2M1840.9,1014.1L1981.7,1017.1M1840.9,1021.8L1968.5,1024.8M1840.9,1030.6L1959.8,1033.6M1840.9,1041.5L1952.9,1044.5M1840.9,1062.1L1945.8,1065.1M1840.9,1074.5L1942.7,1077.5M1840.9,1086.8L1939.4,1089.8M1840.9,1100.5L1935.4,1103.5M1840.9,1106.6L1933.7,1109.6M1840.9,1113.4L1931.7,1116.4M1840.9,1125.2L1925.4,1128.2M1840.9,1132.1L1920.6,1135.1M1840.9,1145.8L1910.8,1148.8M1840.9,1151.3L1900.7,1154.3" stroke="#1d2843" stroke-width="1.1" fill="none"/><line x1="1843" y1="988" x2="2014" y2="988" stroke="#555" stroke-width="1.2" stroke-dasharray="7,4"/><line x1="1843" y1="991.8" x2="2014" y2="991.8" stroke="#555" stroke-width="1.2" stroke-dasharray="7,4"/><path d="M1668,996.3 C1669.2,996 1667.6,996.4 1675.2,994.3 C1682.8,992.1 1703.5,983.8 1713.6,983.4 C1723.7,983 1730.3,987.4 1735.6,992.1 C1740.9,996.8 1742.2,999.5 1745.2,1011.4 C1748.2,1023.3 1750.9,1046.1 1753.4,1063.5 C1755.9,1080.9 1757.8,1101.4 1760.3,1115.6 C1762.8,1129.8 1764.8,1139.4 1768.5,1148.6 C1772.2,1157.8 1775.3,1164.8 1782.2,1170.5 C1789.1,1176.2 1800.3,1180.2 1809.7,1182.9 C1819.1,1185.7 1833.7,1186.3 1838.5,1187" stroke="#1d2843" stroke-width="2.4" fill="none"/><path d="M1841.2,1175.2 C1847.8,1173.5 1869.3,1169.4 1881,1165 C1892.7,1160.6 1903,1155.9 1911.2,1148.6 C1919.4,1141.3 1925.4,1132.1 1930.4,1121.1 C1935.4,1110.1 1938.2,1094.6 1941.4,1082.7 C1944.6,1070.8 1945.9,1059 1949.6,1049.8 C1953.3,1040.6 1955.6,1034.7 1963.4,1027.8 C1971.2,1020.9 1982.6,1013.4 1996.3,1008.6 C2010,1003.8 2037.5,1000.6 2045.7,999" stroke="#1d2843" stroke-width="2.4" fill="none"/><line x1="1651" y1="996.3" x2="2062.4" y2="996.3" stroke="#8e2b30" stroke-width="3.4"/><path d="M2070.4,996.3 L2057.4,1001.3 L2060.4,996.3 L2057.4,991.3 Z" fill="#8e2b30"/><line x1="1839.9" y1="1241.9" x2="1839.9" y2="954.9" stroke="#8e2b30" stroke-width="3.4"/><path d="M1839.9,946.9 L1844.9,959.9 L1839.9,956.9 L1834.9,959.9 Z" fill="#8e2b30"/><text x="1808.2" y="1211.7" font-size="31" font-weight="bold" text-anchor="middle" fill="#000">p</text><text x="1876.2" y="1211.7" font-size="31" font-weight="bold" text-anchor="middle" fill="#000">n</text><text x="1742.4" y="1270.7" font-size="28" textLength="194.9" lengthAdjust="spacingAndGlyphs" fill="#111">Dripline nuclei</text><circle cx="608.2" cy="144.6" r="87.5" fill="url(#sph1)" stroke="#c6c8d0" stroke-width="1.4"/><circle cx="608.2" cy="150" r="80" fill="#c9cfdc" opacity="0.5" filter="url(#soft)"/><circle cx="532.8" cy="130.3" r="12.9" fill="url(#mB)" stroke="#345f93" stroke-width="0.9"/><circle cx="535.6" cy="165.9" r="12.9" fill="url(#mB)" stroke="#345f93" stroke-width="0.9"/><circle cx="586.8" cy="185.8" r="12.9" fill="url(#mO)" stroke="#b07656" stroke-width="0.9"/><circle cx="666.5" cy="184.4" r="13.4" fill="url(#mB)" stroke="#345f93" stroke-width="0.9"/><circle cx="602.5" cy="74.9" r="13.9" fill="url(#mB)" stroke="#345f93" stroke-width="0.9"/><circle cx="554.1" cy="90.5" r="13.9" fill="url(#mB)" stroke="#345f93" stroke-width="0.9"/><circle cx="548.4" cy="110.4" r="13.9" fill="url(#mO)" stroke="#b07656" stroke-width="0.9"/><circle cx="662.2" cy="136" r="14.2" fill="url(#mB)" stroke="#345f93" stroke-width="0.9"/><circle cx="542.7" cy="144.6" r="14.2" fill="url(#mO)" stroke="#b07656" stroke-width="0.9"/><circle cx="635.2" cy="143.2" r="14.2" fill="url(#mB)" stroke="#345f93" stroke-width="0.9"/><circle cx="679.3" cy="156" r="14.2" fill="url(#mO)" stroke="#b07656" stroke-width="0.9"/><circle cx="555.5" cy="194.4" r="14.2" fill="url(#mB)" stroke="#345f93" stroke-width="0.9"/><circle cx="576.9" cy="193" r="14.2" fill="url(#mO)" stroke="#b07656" stroke-width="0.9"/><circle cx="646.6" cy="204.3" r="14.2" fill="url(#mO)" stroke="#b07656" stroke-width="0.9"/><circle cx="591.1" cy="210" r="14.2" fill="url(#bB)" stroke="#345f93" stroke-width="0.9"/><circle cx="673.6" cy="107.6" r="14.4" fill="url(#bB)" stroke="#345f93" stroke-width="0.9"/><circle cx="585.4" cy="127.5" r="14.9" fill="url(#bB)" stroke="#345f93" stroke-width="0.9"/><circle cx="680.7" cy="131.8" r="14.9" fill="url(#bB)" stroke="#345f93" stroke-width="0.9"/><circle cx="638" cy="163.1" r="14.9" fill="url(#bO)" stroke="#b07656" stroke-width="0.9"/><circle cx="608.2" cy="188.7" r="14.9" fill="url(#bB)" stroke="#345f93" stroke-width="0.9"/><circle cx="650.1" cy="87.7" r="15.2" fill="url(#bB)" stroke="#345f93" stroke-width="0.9"/><circle cx="578.3" cy="84.8" r="15.6" fill="url(#bO)" stroke="#b07656" stroke-width="0.9"/><circle cx="629.5" cy="99.1" r="15.6" fill="url(#bB)" stroke="#345f93" stroke-width="0.9"/><circle cx="572.6" cy="107.6" r="15.6" fill="url(#bB)" stroke="#345f93" stroke-width="0.9"/><circle cx="657.9" cy="113.3" r="15.6" fill="url(#bO)" stroke="#b07656" stroke-width="0.9"/><circle cx="558.4" cy="128.9" r="15.6" fill="url(#bB)" stroke="#345f93" stroke-width="0.9"/><circle cx="572.6" cy="147.4" r="15.6" fill="url(#bO)" stroke="#b07656" stroke-width="0.9"/><circle cx="582.5" cy="160.2" r="15.6" fill="url(#bB)" stroke="#345f93" stroke-width="0.9"/><circle cx="558.4" cy="171.6" r="15.6" fill="url(#bO)" stroke="#b07656" stroke-width="0.9"/><circle cx="616.7" cy="208.6" r="15.6" fill="url(#bO)" stroke="#b07656" stroke-width="0.9"/><circle cx="622.4" cy="83.4" r="16.2" fill="url(#bO)" stroke="#b07656" stroke-width="0.9"/><circle cx="595.3" cy="94.8" r="16.2" fill="url(#bO)" stroke="#b07656" stroke-width="0.9"/><circle cx="602.5" cy="110.4" r="16.4" fill="url(#bB)" stroke="#345f93" stroke-width="0.9"/><circle cx="659.4" cy="153.1" r="16.4" fill="url(#bB)" stroke="#345f93" stroke-width="0.9"/><circle cx="609.6" cy="165.9" r="16.4" fill="url(#bO)" stroke="#b07656" stroke-width="0.9"/><circle cx="635.2" cy="185.8" r="16.4" fill="url(#bB)" stroke="#345f93" stroke-width="0.9"/><circle cx="635.2" cy="119" r="17" fill="url(#bO)" stroke="#b07656" stroke-width="0.9"/><circle cx="612.4" cy="138.9" r="17" fill="url(#bB)" stroke="#345f93" stroke-width="0.9"/><circle cx="793.5" cy="1133.5" r="88" fill="url(#sph2)" stroke="#c4c6cc" stroke-width="1.4"/><circle cx="806.9" cy="1159.6" r="13.5" fill="url(#hB)" stroke="#1e4f86" stroke-width="0.9"/><circle cx="841.7" cy="1153.2" r="13.5" fill="url(#hB)" stroke="#1e4f86" stroke-width="0.9"/><circle cx="833.8" cy="1107.4" r="14" fill="url(#hB)" stroke="#1e4f86" stroke-width="0.9"/><circle cx="791.1" cy="1124.8" r="12" fill="url(#hO)" stroke="#a9551e" stroke-width="0.9"/><circle cx="806.1" cy="1109.8" r="15.8" fill="url(#hB)" stroke="#1e4f86" stroke-width="0.9"/><circle cx="812.5" cy="1127.2" r="15" fill="url(#hO)" stroke="#a9551e" stroke-width="0.9"/><circle cx="833.8" cy="1130.3" r="15.8" fill="url(#hB)" stroke="#1e4f86" stroke-width="0.9"/><circle cx="794.3" cy="1143.8" r="15" fill="url(#hB)" stroke="#1e4f86" stroke-width="0.9"/><circle cx="822" cy="1154.8" r="15.8" fill="url(#hO)" stroke="#a9551e" stroke-width="0.9"/><circle cx="739" cy="1098" r="15.8" fill="url(#gB)" stroke="#174f8c" stroke-width="0.9"/><circle cx="764.3" cy="1176.2" r="15.8" fill="url(#gB)" stroke="#174f8c" stroke-width="0.9"/><ellipse cx="1247" cy="1069" rx="186" ry="59.4" fill="url(#sph4)" stroke="#c4c6cc" stroke-width="1.4"/><ellipse cx="1141" cy="1066" rx="38" ry="30" fill="#8793b0" opacity="0.55" filter="url(#soft)"/><ellipse cx="1244" cy="1066" rx="38" ry="30" fill="#8793b0" opacity="0.55" filter="url(#soft)"/><ellipse cx="1348" cy="1066" rx="38" ry="30" fill="#8793b0" opacity="0.55" filter="url(#soft)"/><circle cx="1130.8" cy="1054.1" r="15.4" fill="url(#mO)" stroke="#b07656" stroke-width="0.9"/><circle cx="1159.6" cy="1056.8" r="15.4" fill="url(#mB)" stroke="#345f93" stroke-width="0.9"/><circle cx="1123.5" cy="1076" r="15.4" fill="url(#mB)" stroke="#345f93" stroke-width="0.9"/><circle cx="1151.8" cy="1076" r="15.4" fill="url(#mO)" stroke="#b07656" stroke-width="0.9"/><circle cx="1233.8" cy="1054.1" r="15.4" fill="url(#mO)" stroke="#b07656" stroke-width="0.9"/><circle cx="1262.6" cy="1056.8" r="15.4" fill="url(#mB)" stroke="#345f93" stroke-width="0.9"/><circle cx="1226.5" cy="1076" r="15.4" fill="url(#mB)" stroke="#345f93" stroke-width="0.9"/><circle cx="1254.8" cy="1076" r="15.4" fill="url(#mO)" stroke="#b07656" stroke-width="0.9"/><circle cx="1337.8" cy="1054.1" r="15.4" fill="url(#mO)" stroke="#b07656" stroke-width="0.9"/><circle cx="1366.6" cy="1056.8" r="15.4" fill="url(#mB)" stroke="#345f93" stroke-width="0.9"/><circle cx="1330.5" cy="1076" r="15.4" fill="url(#mB)" stroke="#345f93" stroke-width="0.9"/><circle cx="1358.8" cy="1076" r="15.4" fill="url(#mO)" stroke="#b07656" stroke-width="0.9"/><circle cx="1089.8" cy="1063.7" r="11.4" fill="url(#gB)"/><circle cx="1192.8" cy="1051.5" r="11.4" fill="url(#gB)"/><circle cx="1192.8" cy="1078.6" r="11.4" fill="url(#gB)"/><circle cx="1296.7" cy="1051.5" r="11.4" fill="url(#gB)"/><circle cx="1296.7" cy="1078.6" r="11.4" fill="url(#gB)"/><circle cx="1401.5" cy="1063.7" r="11.4" fill="url(#gB)"/><circle cx="2195" cy="1102" r="161" fill="url(#sph3)" stroke="#c4c6cc" stroke-width="1.4"/><circle cx="2195" cy="1095" r="95" fill="#9aa3bd" opacity="0.45" filter="url(#soft)"/><circle cx="2232" cy="986" r="30" fill="#8793b0" opacity="0.5" filter="url(#soft)"/><circle cx="2073" cy="1104" r="30" fill="#8793b0" opacity="0.5" filter="url(#soft)"/><circle cx="2270" cy="1199" r="30" fill="#8793b0" opacity="0.5" filter="url(#soft)"/><circle cx="2140.9" cy="1046.1" r="15.3" fill="url(#mB)" stroke="#345f93" stroke-width="0.9"/><circle cx="2165.1" cy="1034" r="15.3" fill="url(#mO)" stroke="#b07656" stroke-width="0.9"/><circle cx="2191.7" cy="1026.7" r="15.3" fill="url(#mB)" stroke="#345f93" stroke-width="0.9"/><circle cx="2208.6" cy="1036.4" r="15.3" fill="url(#mO)" stroke="#b07656" stroke-width="0.9"/><circle cx="2237.6" cy="1041.2" r="15.3" fill="url(#mB)" stroke="#345f93" stroke-width="0.9"/><circle cx="2259.4" cy="1060.6" r="15.3" fill="url(#mB)" stroke="#345f93" stroke-width="0.9"/><circle cx="2269" cy="1089.6" r="15.3" fill="url(#mB)" stroke="#345f93" stroke-width="0.9"/><circle cx="2131.2" cy="1065.4" r="15.3" fill="url(#mO)" stroke="#b07656" stroke-width="0.9"/><circle cx="2124" cy="1087.2" r="15.3" fill="url(#mB)" stroke="#345f93" stroke-width="0.9"/><circle cx="2128.8" cy="1101.7" r="15.3" fill="url(#mO)" stroke="#b07656" stroke-width="0.9"/><circle cx="2126.4" cy="1121" r="15.3" fill="url(#mB)" stroke="#345f93" stroke-width="0.9"/><circle cx="2143.3" cy="1147.6" r="15.3" fill="url(#mB)" stroke="#345f93" stroke-width="0.9"/><circle cx="2177.2" cy="1162.1" r="15.3" fill="url(#mB)" stroke="#345f93" stroke-width="0.9"/><circle cx="2203.8" cy="1162.1" r="15.3" fill="url(#mO)" stroke="#b07656" stroke-width="0.9"/><circle cx="2232.8" cy="1157.3" r="15.3" fill="url(#mO)" stroke="#b07656" stroke-width="0.9"/><circle cx="2252.1" cy="1137.9" r="15.3" fill="url(#mB)" stroke="#345f93" stroke-width="0.9"/><circle cx="2264.2" cy="1111.3" r="15.3" fill="url(#mO)" stroke="#b07656" stroke-width="0.9"/><circle cx="2154.2" cy="1060.6" r="15.3" fill="url(#mB)" stroke="#345f93" stroke-width="0.9"/><circle cx="2184.4" cy="1048.5" r="15.3" fill="url(#mO)" stroke="#b07656" stroke-width="0.9"/><circle cx="2180.8" cy="1066.6" r="15.3" fill="url(#mB)" stroke="#345f93" stroke-width="0.9"/><circle cx="2215.8" cy="1058.1" r="15.3" fill="url(#mB)" stroke="#345f93" stroke-width="0.9"/><circle cx="2223.1" cy="1072.6" r="15.3" fill="url(#mO)" stroke="#b07656" stroke-width="0.9"/><circle cx="2244.9" cy="1069" r="15.3" fill="url(#mO)" stroke="#b07656" stroke-width="0.9"/><circle cx="2252.1" cy="1089.6" r="15.3" fill="url(#mB)" stroke="#345f93" stroke-width="0.9"/><circle cx="2145.7" cy="1084.7" r="15.3" fill="url(#mB)" stroke="#345f93" stroke-width="0.9"/><circle cx="2160.2" cy="1099.2" r="15.3" fill="url(#mO)" stroke="#b07656" stroke-width="0.9"/><circle cx="2189.2" cy="1104.1" r="15.3" fill="url(#mO)" stroke="#b07656" stroke-width="0.9"/><circle cx="2206.2" cy="1087.2" r="15.3" fill="url(#mB)" stroke="#345f93" stroke-width="0.9"/><circle cx="2225.5" cy="1101.7" r="15.3" fill="url(#mB)" stroke="#345f93" stroke-width="0.9"/><circle cx="2249.7" cy="1113.8" r="15.3" fill="url(#mB)" stroke="#345f93" stroke-width="0.9"/><circle cx="2140.9" cy="1128.3" r="15.3" fill="url(#mO)" stroke="#b07656" stroke-width="0.9"/><circle cx="2165.1" cy="1123.4" r="15.3" fill="url(#mB)" stroke="#345f93" stroke-width="0.9"/><circle cx="2167.5" cy="1150" r="15.3" fill="url(#mO)" stroke="#b07656" stroke-width="0.9"/><circle cx="2194.1" cy="1142.8" r="15.3" fill="url(#mB)" stroke="#345f93" stroke-width="0.9"/><circle cx="2223.1" cy="1142.8" r="15.3" fill="url(#mB)" stroke="#345f93" stroke-width="0.9"/><circle cx="2220.7" cy="1121" r="15.3" fill="url(#mO)" stroke="#b07656" stroke-width="0.9"/><circle cx="2148.1" cy="995.3" r="15.7" fill="url(#gB)" stroke="#174f8c" stroke-width="0.9"/><circle cx="2171.1" cy="997.7" r="15.7" fill="url(#gB)" stroke="#174f8c" stroke-width="0.9"/><circle cx="2108.2" cy="1036.4" r="15.7" fill="url(#gB)" stroke="#174f8c" stroke-width="0.9"/><circle cx="2092.5" cy="1046" r="15.7" fill="url(#gB)" stroke="#174f8c" stroke-width="0.9"/><circle cx="2275.1" cy="1030.3" r="15.7" fill="url(#gB)" stroke="#174f8c" stroke-width="0.9"/><circle cx="2288.4" cy="1044.8" r="15.7" fill="url(#gB)" stroke="#174f8c" stroke-width="0.9"/><circle cx="2302.9" cy="1102.9" r="15.7" fill="url(#gB)" stroke="#174f8c" stroke-width="0.9"/><circle cx="2306.5" cy="1122.2" r="15.7" fill="url(#gB)" stroke="#174f8c" stroke-width="0.9"/><circle cx="2107" cy="1158.5" r="15.7" fill="url(#gB)" stroke="#174f8c" stroke-width="0.9"/><circle cx="2120.3" cy="1173" r="15.7" fill="url(#gB)" stroke="#174f8c" stroke-width="0.9"/><circle cx="2174.7" cy="1196" r="15.7" fill="url(#gB)" stroke="#174f8c" stroke-width="0.9"/><circle cx="2197.7" cy="1198.4" r="15.7" fill="url(#gB)" stroke="#174f8c" stroke-width="0.9"/><circle cx="2220.7" cy="975.9" r="15.7" fill="url(#mO)" stroke="#b07656" stroke-width="0.9"/><circle cx="2243.6" cy="977.1" r="15.7" fill="url(#mB)" stroke="#345f93" stroke-width="0.9"/><circle cx="2221.9" cy="995.3" r="15.7" fill="url(#mB)" stroke="#345f93" stroke-width="0.9"/><circle cx="2244.9" cy="994.1" r="15.7" fill="url(#mO)" stroke="#b07656" stroke-width="0.9"/><circle cx="2065.9" cy="1087.2" r="15.7" fill="url(#mO)" stroke="#b07656" stroke-width="0.9"/><circle cx="2087.7" cy="1099.2" r="15.7" fill="url(#mB)" stroke="#345f93" stroke-width="0.9"/><circle cx="2059.9" cy="1111.3" r="15.7" fill="url(#mB)" stroke="#345f93" stroke-width="0.9"/><circle cx="2079.2" cy="1119.8" r="15.7" fill="url(#mO)" stroke="#b07656" stroke-width="0.9"/><circle cx="2281.1" cy="1189.9" r="15.7" fill="url(#mO)" stroke="#b07656" stroke-width="0.9"/><circle cx="2259.4" cy="1188.7" r="15.7" fill="url(#mB)" stroke="#345f93" stroke-width="0.9"/><circle cx="2258.2" cy="1209.3" r="15.7" fill="url(#mO)" stroke="#b07656" stroke-width="0.9"/><circle cx="2282.3" cy="1209.3" r="15.7" fill="url(#mB)" stroke="#345f93" stroke-width="0.9"/><ellipse cx="2006.7" cy="166.8" rx="32" ry="19.7" fill="#7dbb4c" fill-opacity="0.85" stroke="#3f9a3c" stroke-width="2.2"/><rect x="1801.4" y="96.5" width="246.2" height="95" fill="none" stroke="#000" stroke-width="2"/><path d="M1954.7,193V592.3" stroke="#000" stroke-width="1.6" stroke-dasharray="7,4" fill="none"/><g shape-rendering="crispEdges"><rect x="2230.8" y="598.4" width="150.3" height="24.4" fill="#f0c27c"/><rect x="1932.2" y="622.8" width="23" height="24.4" fill="#f0c27c"/><rect x="1978.1" y="622.8" width="403" height="24.4" fill="#f0c27c"/><rect x="2138.9" y="647.2" width="242.2" height="24.4" fill="#f0c27c"/><rect x="1863.3" y="671.6" width="252.7" height="24.4" fill="#f0c27c"/><rect x="2116" y="671.6" width="23" height="24.4" fill="#9ed7cd"/><rect x="2138.9" y="671.6" width="242.2" height="24.4" fill="#f0c27c"/><rect x="2001.1" y="696" width="114.8" height="24.4" fill="#f0c27c"/><rect x="2116" y="696" width="45.9" height="24.4" fill="#9ed7cd"/><rect x="2161.9" y="696" width="219.2" height="24.4" fill="#f0c27c"/><rect x="1863.3" y="720.4" width="206.7" height="24.4" fill="#f0c27c"/><rect x="2070" y="720.4" width="91.9" height="24.4" fill="#9ed7cd"/><rect x="2161.9" y="720.4" width="219.2" height="24.4" fill="#f0c27c"/><rect x="1909.2" y="744.9" width="114.8" height="24.4" fill="#f0c27c"/><rect x="2024.1" y="744.9" width="91.9" height="24.4" fill="#9ed7cd"/><rect x="2116" y="744.9" width="265.1" height="24.4" fill="#f0c27c"/><rect x="1863.3" y="769.3" width="114.8" height="24.4" fill="#f0c27c"/><rect x="1978.1" y="769.3" width="160.8" height="24.4" fill="#9ed7cd"/><rect x="2138.9" y="769.3" width="242.2" height="24.4" fill="#f0c27c"/><rect x="1863.3" y="793.7" width="23" height="24.4" fill="#9ed7cd"/><rect x="1886.3" y="793.7" width="68.9" height="24.4" fill="#f0c27c"/><rect x="1955.2" y="793.7" width="114.8" height="24.4" fill="#9ed7cd"/><rect x="2070" y="793.7" width="68.9" height="24.4" fill="#f0c27c"/><rect x="2138.9" y="793.7" width="23" height="24.4" fill="#9ed7cd"/><rect x="2161.9" y="793.7" width="219.2" height="24.4" fill="#f0c27c"/><rect x="1863.3" y="818.1" width="23" height="24.4" fill="#9ed7cd"/><rect x="1886.3" y="818.1" width="68.9" height="24.4" fill="#f0c27c"/><rect x="1955.2" y="818.1" width="137.8" height="24.4" fill="#9ed7cd"/><rect x="2093" y="818.1" width="288.1" height="24.4" fill="#f0c27c"/></g><path d="M1886.3,598.4V842.5M1909.2,598.4V842.5M1932.2,598.4V842.5M1955.2,598.4V842.5M1978.1,598.4V842.5M2001.1,598.4V842.5M2024.1,598.4V842.5M2047.1,598.4V842.5M2070,598.4V842.5M2093,598.4V842.5M2116,598.4V842.5M2138.9,598.4V842.5M2161.9,598.4V842.5M2184.9,598.4V842.5M2207.8,598.4V842.5M2230.8,598.4V842.5M2253.8,598.4V842.5M2276.8,598.4V842.5M2299.7,598.4V842.5M2322.7,598.4V842.5M2345.7,598.4V842.5M2368.6,598.4V842.5M1863.3,622.8H2381.1M1863.3,647.2H2381.1M1863.3,671.6H2381.1M1863.3,696H2381.1M1863.3,720.4H2381.1M1863.3,744.9H2381.1M1863.3,769.3H2381.1M1863.3,793.7H2381.1M1863.3,818.1H2381.1" stroke="#fff" stroke-width="2.2" fill="none"/><path d="M1863.3,768.7H2381 M1863.3,793.3H2381 M2297.8,598.4V842.5 M2320.9,598.4V842.5" stroke="#333" stroke-width="1.3" stroke-dasharray="2.5,2" fill="none"/><ellipse cx="2309.4" cy="781" rx="58.9" ry="35.5" fill="#7dbb4c" fill-opacity="0.85" stroke="#3f9a3c" stroke-width="2.6"/><rect x="1821.5" y="592.3" width="566" height="256.1" fill="none" stroke="#111" stroke-width="1.5" stroke-dasharray="7,4"/><text x="1825.5" y="694" font-size="22.5" fill="#111">Og</text><text x="1825.5" y="718.3" font-size="22.5" fill="#111">Ts</text><text x="1825.5" y="742.6" font-size="22.5" fill="#111">Lv</text><text x="1825.5" y="767" font-size="22.5" fill="#111">Mc</text><text x="1825.5" y="791.3" font-size="22.5" fill="#111">Fl</text><text x="1825.5" y="815.6" font-size="22.5" fill="#111">Nh</text><text x="1825.5" y="839.9" font-size="22.5" fill="#111">Cn</text><text x="2172.4" y="788.7" font-size="21" font-weight="bold" textLength="69.1" lengthAdjust="spacingAndGlyphs" fill="#111">Z = 114</text><text x="0" y="0" font-size="21" font-weight="bold" fill="#111" textLength="76.8" lengthAdjust="spacingAndGlyphs" transform="translate(2302,662) rotate(90)">N = 184</text><line x1="2264.5" y1="782" x2="2264.5" y2="862" stroke="#111" stroke-width="1.3"/><text x="2258.1" y="889.9" font-size="27.5" font-weight="bold" textLength="120.4" lengthAdjust="spacingAndGlyphs" fill="#000">Island of</text><text x="2258.1" y="927" font-size="27.5" font-weight="bold" textLength="112.7" lengthAdjust="spacingAndGlyphs" fill="#000">stability</text></svg></body></html>
